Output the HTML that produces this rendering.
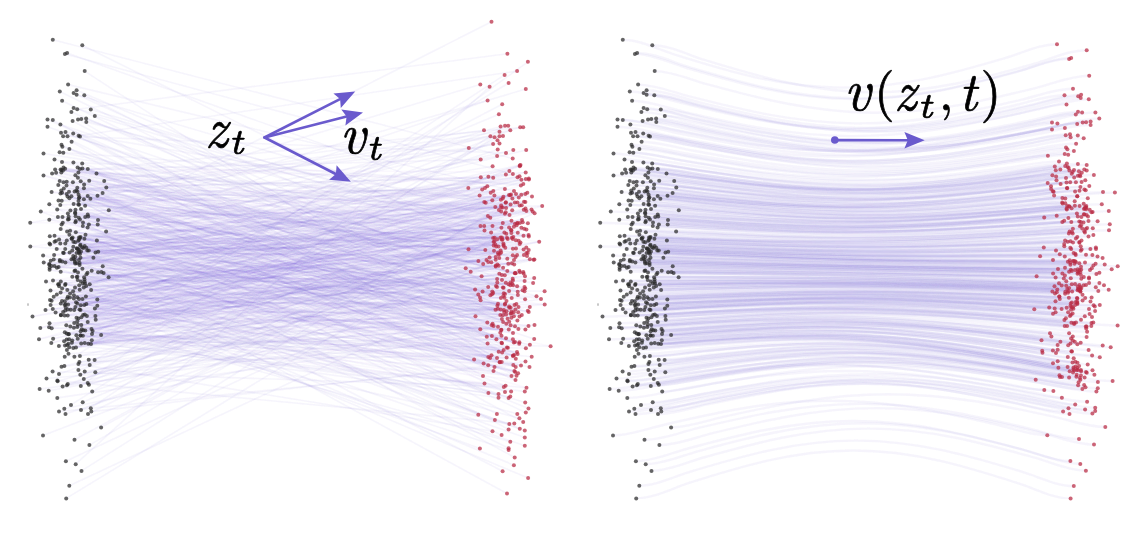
<!DOCTYPE html><html><head><meta charset="utf-8"><title>Rectified flow</title><style>html,body{margin:0;padding:0;background:#fff;overflow:hidden}svg{display:block;filter:blur(0.4px)}text{fill:#000;stroke:#000;stroke-width:0.7px;stroke-linejoin:round}.ai{font-family:"LM Roman 10","Latin Modern Roman","Liberation Serif",serif;font-style:italic}.an{font-family:"LM Roman 10","Latin Modern Roman","Liberation Serif",serif;font-style:normal}.bi{font-family:"LM Roman 7","Latin Modern Roman","Liberation Serif",serif;font-style:italic}</style></head><body>
<svg width="1136" height="544" viewBox="0 0 1136 544">
<defs><filter id="bl" x="0" y="0" width="1" height="1"><feGaussianBlur stdDeviation="0.35"/></filter><filter id="br" x="0" y="0" width="1" height="1"><feGaussianBlur stdDeviation="0.3"/></filter></defs>
<rect width="1136" height="544" fill="#fff"/>
<g stroke="#6a5acd" stroke-opacity="0.06" stroke-width="1.6" fill="none" filter="url(#bl)">
<path d="M52.8 39.7L512.7 158.5"/>
<path d="M82.3 45.2L514.0 260.1"/>
<path d="M64.9 53.9L512.9 174.1"/>
<path d="M67.1 52.9L484.3 202.0"/>
<path d="M84.7 71.1L501.5 342.8"/>
<path d="M68.1 84.6L514.0 191.0"/>
<path d="M59.8 91.5L480.0 297.4"/>
<path d="M73.6 92.9L497.0 286.9"/>
<path d="M76.6 90.3L478.4 261.0"/>
<path d="M76.6 94.7L487.9 215.9"/>
<path d="M84.3 95.3L519.5 316.6"/>
<path d="M62.1 100.8L500.3 314.9"/>
<path d="M73.6 107.9L511.4 230.2"/>
<path d="M77.2 109.3L507.4 53.7"/>
<path d="M71.4 111.9L503.3 296.1"/>
<path d="M90.8 109.5L504.4 232.6"/>
<path d="M94.8 115.9L507.7 239.0"/>
<path d="M47.5 119.4L518.4 328.9"/>
<path d="M52.8 120.0L497.0 358.1"/>
<path d="M47.5 126.7L503.6 287.8"/>
<path d="M60.4 124.6L524.6 281.0"/>
<path d="M72.6 121.0L506.9 347.4"/>
<path d="M78.0 119.4L491.5 355.3"/>
<path d="M81.3 119.0L494.4 241.2"/>
<path d="M86.1 118.4L525.3 288.6"/>
<path d="M86.3 122.0L517.8 232.7"/>
<path d="M61.0 132.7L507.3 271.1"/>
<path d="M65.5 132.1L485.7 202.7"/>
<path d="M67.5 136.2L506.0 153.0"/>
<path d="M63.1 136.2L512.9 356.0"/>
<path d="M73.2 133.5L488.3 356.9"/>
<path d="M78.6 135.8L517.1 71.1"/>
<path d="M80.0 136.6L502.1 352.4"/>
<path d="M71.6 141.7L483.0 376.0"/>
<path d="M61.5 144.8L490.1 357.9"/>
<path d="M62.4 146.7L536.5 296.3"/>
<path d="M69.4 149.0L525.1 299.3"/>
<path d="M59.6 152.2L520.9 185.4"/>
<path d="M63.3 152.7L503.4 243.4"/>
<path d="M43.5 153.5L521.4 227.7"/>
<path d="M54.5 159.5L492.3 291.4"/>
<path d="M62.0 161.9L523.3 183.9"/>
<path d="M73.4 162.6L517.6 353.9"/>
<path d="M82.2 163.6L510.6 307.5"/>
<path d="M39.6 389.1L498.0 326.7"/>
<path d="M48.7 390.8L497.9 308.7"/>
<path d="M57.6 381.2L498.4 254.6"/>
<path d="M62.6 386.5L504.8 275.3"/>
<path d="M66.9 385.3L516.6 225.3"/>
<path d="M67.8 384.0L501.8 239.8"/>
<path d="M80.8 386.0L527.9 61.8"/>
<path d="M88.9 384.8L507.3 258.8"/>
<path d="M87.7 382.9L509.0 195.0"/>
<path d="M92.2 391.5L500.6 250.4"/>
<path d="M57.3 397.9L500.3 332.7"/>
<path d="M71.0 404.9L494.5 137.3"/>
<path d="M82.7 402.2L534.6 213.2"/>
<path d="M64.3 408.7L511.5 313.2"/>
<path d="M59.0 411.6L513.3 365.0"/>
<path d="M65.5 414.0L481.6 276.2"/>
<path d="M81.0 409.9L524.2 228.7"/>
<path d="M90.8 408.2L505.0 125.8"/>
<path d="M91.3 411.6L525.5 361.5"/>
<path d="M88.0 414.0L506.1 208.0"/>
<path d="M101.1 427.4L501.2 211.6"/>
<path d="M43.0 435.5L470.7 271.8"/>
<path d="M74.5 439.8L514.9 202.4"/>
<path d="M89.4 445.1L518.8 197.4"/>
<path d="M65.9 461.3L491.3 262.2"/>
<path d="M75.7 464.2L489.6 86.8"/>
<path d="M81.5 470.9L512.4 198.5"/>
<path d="M69.3 485.7L512.7 278.7"/>
<path d="M66.2 498.4L493.1 238.1"/>
<path d="M64.7 356.8L510.6 325.3"/>
<path d="M68.5 353.8L515.0 326.2"/>
<path d="M74.4 356.8L504.6 74.9"/>
<path d="M79.9 356.0L523.6 249.4"/>
<path d="M88.7 359.7L534.2 278.1"/>
<path d="M94.6 360.0L499.5 136.3"/>
<path d="M78.4 364.1L492.5 431.3"/>
<path d="M79.4 361.9L514.2 354.9"/>
<path d="M89.7 364.9L511.0 230.0"/>
<path d="M61.5 366.8L529.8 307.0"/>
<path d="M64.4 365.9L533.6 259.8"/>
<path d="M78.4 370.0L512.7 239.1"/>
<path d="M84.7 371.5L541.0 299.0"/>
<path d="M95.3 372.2L534.5 325.0"/>
<path d="M52.6 371.5L503.8 386.9"/>
<path d="M59.0 374.1L484.2 226.1"/>
<path d="M80.3 374.7L498.7 265.8"/>
<path d="M46.5 378.5L506.0 338.2"/>
<path d="M57.4 380.6L514.3 423.6"/>
<path d="M83.8 379.1L505.7 202.8"/>
<path d="M90.4 198.7L515.5 379.9"/>
<path d="M67.5 196.4L528.7 312.1"/>
<path d="M80.5 257.7L502.9 315.2"/>
<path d="M95.5 252.5L502.0 280.1"/>
<path d="M82.2 247.2L513.9 226.8"/>
<path d="M66.3 325.2L511.5 376.0"/>
<path d="M84.4 238.7L512.9 339.3"/>
<path d="M77.9 177.8L517.7 291.7"/>
<path d="M49.6 269.8L502.0 343.3"/>
<path d="M85.5 234.7L517.9 295.0"/>
<path d="M60.8 315.0L500.7 309.4"/>
<path d="M82.8 226.0L528.5 408.6"/>
<path d="M77.2 297.2L480.5 226.0"/>
<path d="M46.0 281.4L524.8 445.8"/>
<path d="M79.9 169.0L482.6 291.5"/>
<path d="M81.4 317.2L523.8 209.8"/>
<path d="M81.2 343.4L491.8 325.2"/>
<path d="M45.5 310.1L527.0 256.0"/>
<path d="M65.4 262.6L526.2 150.0"/>
<path d="M81.0 251.4L518.1 373.3"/>
<path d="M79.4 197.2L495.3 206.9"/>
<path d="M88.3 343.7L482.2 189.5"/>
<path d="M69.3 347.2L522.6 290.3"/>
<path d="M79.0 252.8L504.9 189.1"/>
<path d="M53.1 338.7L502.5 239.6"/>
<path d="M95.7 319.8L534.4 259.4"/>
<path d="M60.8 303.6L497.1 278.9"/>
<path d="M71.8 238.5L519.5 176.2"/>
<path d="M61.0 315.3L510.3 441.8"/>
<path d="M76.6 252.9L517.4 223.2"/>
<path d="M92.0 333.9L506.5 301.0"/>
<path d="M103.6 273.1L524.8 430.4"/>
<path d="M59.7 180.9L492.0 294.2"/>
<path d="M67.9 219.5L509.1 306.6"/>
<path d="M65.7 307.6L511.1 391.6"/>
<path d="M83.9 188.3L480.8 177.3"/>
<path d="M80.7 335.5L510.3 396.5"/>
<path d="M87.3 250.5L499.3 258.1"/>
<path d="M61.5 169.9L480.7 159.5"/>
<path d="M63.8 253.0L512.8 255.3"/>
<path d="M75.8 220.9L511.4 317.8"/>
<path d="M43.1 255.6L488.2 365.3"/>
<path d="M80.7 181.3L489.6 257.4"/>
<path d="M77.8 324.6L513.9 316.2"/>
<path d="M80.4 335.4L483.6 363.6"/>
<path d="M75.0 287.6L495.7 259.7"/>
<path d="M49.5 243.5L503.9 309.9"/>
<path d="M60.8 281.4L528.1 478.0"/>
<path d="M65.0 345.4L498.5 246.6"/>
<path d="M84.3 305.1L524.0 201.7"/>
<path d="M76.7 277.1L486.5 260.1"/>
<path d="M65.3 243.6L502.6 471.3"/>
<path d="M64.6 315.4L503.1 267.7"/>
<path d="M72.2 340.6L539.2 241.7"/>
<path d="M60.6 169.5L515.1 272.9"/>
<path d="M69.0 191.8L506.1 314.4"/>
<path d="M76.4 190.4L468.8 148.0"/>
<path d="M91.7 270.8L527.3 192.7"/>
<path d="M54.5 266.1L484.5 230.4"/>
<path d="M49.1 327.2L495.4 244.4"/>
<path d="M79.0 298.9L518.6 240.8"/>
<path d="M86.2 285.9L513.9 465.2"/>
<path d="M77.0 248.5L502.8 222.9"/>
<path d="M83.9 199.3L511.7 298.0"/>
<path d="M55.6 312.5L511.0 194.4"/>
<path d="M65.2 248.9L525.7 172.4"/>
<path d="M74.2 322.9L499.8 362.2"/>
<path d="M65.6 304.3L503.4 196.7"/>
<path d="M49.8 236.2L495.7 266.5"/>
<path d="M68.8 219.2L502.7 207.5"/>
<path d="M87.7 214.4L521.4 179.7"/>
<path d="M84.1 184.4L523.2 422.0"/>
<path d="M77.5 191.8L498.7 351.7"/>
<path d="M79.6 262.9L514.5 305.0"/>
<path d="M81.0 208.9L501.7 362.1"/>
<path d="M43.5 175.4L488.2 287.1"/>
<path d="M76.0 347.6L524.5 287.0"/>
<path d="M74.5 270.9L508.2 125.8"/>
<path d="M79.0 237.6L515.0 341.9"/>
<path d="M89.7 284.3L497.7 149.6"/>
<path d="M76.4 335.3L503.7 350.1"/>
<path d="M56.1 172.8L523.2 127.2"/>
<path d="M94.9 308.6L501.5 335.7"/>
<path d="M67.8 309.4L510.3 130.2"/>
<path d="M64.8 301.2L516.5 375.7"/>
<path d="M62.0 300.9L544.7 304.6"/>
<path d="M68.6 216.8L525.4 202.0"/>
<path d="M52.8 308.9L521.8 315.0"/>
<path d="M67.3 290.0L505.3 247.7"/>
<path d="M78.9 260.0L498.0 303.7"/>
<path d="M96.5 173.4L515.9 240.2"/>
<path d="M71.5 259.2L505.9 174.4"/>
<path d="M84.7 281.8L501.1 252.4"/>
<path d="M60.6 292.5L503.8 293.2"/>
<path d="M30.3 246.5L513.1 285.3"/>
<path d="M58.9 345.9L518.5 306.9"/>
<path d="M74.8 259.8L510.6 204.4"/>
<path d="M80.0 219.4L525.8 89.1"/>
<path d="M91.1 290.0L506.3 233.7"/>
<path d="M63.5 182.3L474.1 359.4"/>
<path d="M80.5 237.1L519.4 342.2"/>
<path d="M87.7 321.9L495.7 257.0"/>
<path d="M68.5 334.2L507.6 318.7"/>
<path d="M39.0 339.2L511.4 232.9"/>
<path d="M70.1 293.6L519.4 418.3"/>
<path d="M49.5 323.2L505.8 282.8"/>
<path d="M65.3 310.5L468.3 188.1"/>
<path d="M78.9 249.8L517.4 202.6"/>
<path d="M76.8 263.2L522.0 220.0"/>
<path d="M83.4 330.2L524.8 391.6"/>
<path d="M63.8 188.6L501.1 205.6"/>
<path d="M98.2 251.8L510.1 195.2"/>
<path d="M86.9 316.1L519.8 166.2"/>
<path d="M63.5 167.6L483.2 264.0"/>
<path d="M73.8 298.4L504.5 297.7"/>
<path d="M63.1 252.7L511.8 237.8"/>
<path d="M78.6 194.8L532.0 196.5"/>
<path d="M78.5 201.0L525.8 412.6"/>
<path d="M77.3 321.3L531.5 209.5"/>
<path d="M77.6 167.5L475.1 289.4"/>
<path d="M80.1 237.9L519.7 205.5"/>
<path d="M59.8 260.0L513.0 333.1"/>
<path d="M71.4 196.2L508.6 429.4"/>
<path d="M91.0 344.0L513.3 237.1"/>
<path d="M70.4 210.5L492.6 323.8"/>
<path d="M53.0 280.4L510.5 282.5"/>
<path d="M61.7 200.8L503.0 135.9"/>
<path d="M91.5 329.1L528.7 250.1"/>
<path d="M60.7 229.0L517.4 320.6"/>
<path d="M49.3 219.8L533.1 282.9"/>
<path d="M65.5 284.1L511.6 311.4"/>
<path d="M65.1 168.8L504.9 213.7"/>
<path d="M78.8 217.8L542.2 205.9"/>
<path d="M97.3 299.6L493.5 371.0"/>
<path d="M69.1 339.3L498.5 397.7"/>
<path d="M43.7 262.6L523.3 272.1"/>
<path d="M82.8 283.4L521.3 194.7"/>
<path d="M75.4 256.8L514.4 370.9"/>
<path d="M87.8 169.0L525.4 329.6"/>
<path d="M77.3 187.8L499.8 253.7"/>
<path d="M75.2 213.6L496.9 413.9"/>
<path d="M83.0 222.6L478.3 414.7"/>
<path d="M77.3 303.5L511.5 220.8"/>
<path d="M83.8 287.5L495.7 265.8"/>
<path d="M87.6 227.6L513.8 342.5"/>
<path d="M70.3 326.5L520.0 272.2"/>
<path d="M60.3 243.6L507.0 237.8"/>
<path d="M51.3 343.0L493.6 241.9"/>
<path d="M60.3 204.9L487.3 186.3"/>
<path d="M74.8 261.8L505.0 293.9"/>
<path d="M79.5 309.4L508.6 449.9"/>
<path d="M51.6 192.1L497.9 252.8"/>
<path d="M72.6 237.4L509.5 214.9"/>
<path d="M88.2 216.6L490.4 295.3"/>
<path d="M66.5 185.6L491.9 335.9"/>
<path d="M71.9 342.8L487.3 322.4"/>
<path d="M79.2 285.3L494.4 195.5"/>
<path d="M59.1 286.2L517.3 413.9"/>
<path d="M91.8 340.2L510.4 285.2"/>
<path d="M32.5 316.5L496.2 246.6"/>
<path d="M106.3 187.6L493.2 177.7"/>
<path d="M84.5 279.4L508.5 284.2"/>
<path d="M67.1 345.0L526.5 387.8"/>
<path d="M80.5 309.9L496.0 285.9"/>
<path d="M98.1 272.3L529.5 367.0"/>
<path d="M75.4 307.0L508.8 329.6"/>
<path d="M58.1 284.3L509.1 227.5"/>
<path d="M55.9 241.1L492.6 166.2"/>
<path d="M56.7 249.1L500.6 126.6"/>
<path d="M50.7 260.7L501.9 237.4"/>
<path d="M68.9 333.9L505.9 202.3"/>
<path d="M79.1 204.7L480.3 84.4"/>
<path d="M75.6 216.3L519.7 244.0"/>
<path d="M79.0 251.7L498.5 394.0"/>
<path d="M62.2 261.4L528.5 326.1"/>
<path d="M64.6 304.9L525.3 194.1"/>
<path d="M84.1 277.2L512.9 248.8"/>
<path d="M67.9 213.5L497.4 264.5"/>
<path d="M97.7 224.5L526.4 253.0"/>
<path d="M96.9 240.6L515.7 367.0"/>
<path d="M58.6 267.1L520.5 164.9"/>
<path d="M61.6 224.4L508.6 448.2"/>
<path d="M95.4 315.9L502.9 287.5"/>
<path d="M74.2 310.0L517.0 351.9"/>
<path d="M85.2 216.9L513.7 312.3"/>
<path d="M78.3 240.8L488.2 261.9"/>
<path d="M102.7 266.2L515.0 223.8"/>
<path d="M58.5 200.4L515.6 256.9"/>
<path d="M76.9 248.5L517.5 177.2"/>
<path d="M60.5 193.4L480.6 300.2"/>
<path d="M61.2 190.6L493.3 190.9"/>
<path d="M102.6 193.0L505.0 392.0"/>
<path d="M86.5 274.3L497.3 282.5"/>
<path d="M74.6 191.5L499.5 131.8"/>
<path d="M73.3 246.8L515.2 372.1"/>
<path d="M69.4 198.3L485.0 188.0"/>
<path d="M57.9 216.9L494.6 237.7"/>
<path d="M63.0 170.4L492.3 200.2"/>
<path d="M83.1 314.9L509.4 170.9"/>
<path d="M73.9 295.3L504.2 311.9"/>
<path d="M67.1 231.5L514.2 264.6"/>
<path d="M75.3 270.5L480.3 329.2"/>
<path d="M55.1 169.6L479.6 195.6"/>
<path d="M79.6 265.0L525.8 179.1"/>
<path d="M82.4 168.6L514.9 273.3"/>
<path d="M50.6 305.1L523.6 273.5"/>
<path d="M88.9 224.5L517.1 254.9"/>
<path d="M59.9 261.3L512.2 210.3"/>
<path d="M86.3 247.7L521.7 205.3"/>
<path d="M52.1 173.4L510.6 313.8"/>
<path d="M66.7 339.6L507.9 347.7"/>
<path d="M82.5 299.1L516.0 248.6"/>
<path d="M79.0 239.7L500.5 237.4"/>
<path d="M85.3 330.4L511.9 263.2"/>
<path d="M78.9 198.2L526.3 247.5"/>
<path d="M73.1 291.2L512.1 283.8"/>
<path d="M81.7 329.2L500.9 199.7"/>
<path d="M101.4 271.9L478.3 294.6"/>
<path d="M97.3 305.7L525.5 208.5"/>
<path d="M77.4 276.8L527.8 310.7"/>
<path d="M56.9 267.7L519.8 428.8"/>
<path d="M50.0 300.0L526.4 229.6"/>
<path d="M85.9 296.4L491.1 232.6"/>
<path d="M73.3 258.5L524.5 291.3"/>
<path d="M89.2 180.8L485.3 250.1"/>
<path d="M80.0 254.1L493.6 326.1"/>
<path d="M75.8 232.2L491.5 21.7"/>
<path d="M104.2 180.9L484.0 130.2"/>
<path d="M76.0 302.3L504.9 304.4"/>
<path d="M81.3 325.0L508.3 263.7"/>
<path d="M49.6 267.8L499.3 273.8"/>
<path d="M53.7 296.8L503.1 322.0"/>
<path d="M80.8 305.2L501.9 275.0"/>
<path d="M40.8 211.6L505.6 385.8"/>
<path d="M84.8 314.6L497.5 140.3"/>
<path d="M108.6 277.3L512.9 280.5"/>
<path d="M65.1 284.9L544.6 291.2"/>
<path d="M51.7 328.2L475.5 316.2"/>
<path d="M70.6 309.8L531.7 356.7"/>
<path d="M72.9 182.2L494.0 250.8"/>
<path d="M73.3 348.1L465.7 268.3"/>
<path d="M59.1 239.5L500.9 298.0"/>
<path d="M73.4 241.8L493.1 144.0"/>
<path d="M73.6 204.0L528.6 234.9"/>
<path d="M60.7 271.7L516.4 304.0"/>
<path d="M80.1 245.8L493.2 292.9"/>
<path d="M92.6 331.1L494.9 419.9"/>
<path d="M68.4 343.8L496.4 339.2"/>
<path d="M49.3 264.1L528.8 178.6"/>
<path d="M69.9 297.4L479.9 448.6"/>
<path d="M88.8 250.5L503.6 245.0"/>
<path d="M75.1 212.4L487.6 343.5"/>
<path d="M79.7 289.7L486.8 336.7"/>
<path d="M78.5 318.5L525.0 276.3"/>
<path d="M62.8 222.7L527.7 253.1"/>
<path d="M63.1 311.9L488.4 176.7"/>
<path d="M58.9 284.3L526.4 211.0"/>
<path d="M73.2 255.9L495.5 309.7"/>
<path d="M106.1 231.4L487.6 100.4"/>
<path d="M66.7 333.5L550.6 346.2"/>
<path d="M80.5 244.8L501.2 329.7"/>
<path d="M78.0 272.4L509.3 424.0"/>
<path d="M30.2 222.8L499.5 143.4"/>
<path d="M85.0 283.6L490.3 217.7"/>
<path d="M83.3 247.9L513.1 355.5"/>
<path d="M51.6 300.7L498.9 114.3"/>
<path d="M93.4 257.7L529.9 344.7"/>
<path d="M87.7 196.0L515.4 309.5"/>
<path d="M54.5 235.8L520.5 242.6"/>
<path d="M80.7 331.2L499.7 362.1"/>
<path d="M50.5 290.4L521.0 365.6"/>
<path d="M72.3 276.7L508.6 398.1"/>
<path d="M71.6 238.8L501.6 434.9"/>
<path d="M80.9 281.5L524.8 437.5"/>
<path d="M75.4 175.2L497.2 239.3"/>
<path d="M77.9 249.3L493.7 245.5"/>
<path d="M40.3 327.9L517.4 223.0"/>
<path d="M69.6 252.6L501.4 227.7"/>
<path d="M75.2 263.5L505.7 212.3"/>
<path d="M66.9 349.9L508.6 83.0"/>
<path d="M77.7 338.7L488.4 393.0"/>
<path d="M56.8 294.6L519.8 165.4"/>
<path d="M66.6 194.1L490.4 136.3"/>
<path d="M61.3 172.6L515.7 273.3"/>
<path d="M82.9 335.7L515.8 358.7"/>
<path d="M75.4 222.2L519.8 223.0"/>
<path d="M75.2 242.2L501.9 318.9"/>
<path d="M51.5 266.1L497.4 305.7"/>
<path d="M69.4 234.8L497.1 156.1"/>
<path d="M67.8 296.7L509.1 291.0"/>
<path d="M66.8 240.5L501.2 207.4"/>
<path d="M86.4 303.9L468.5 249.2"/>
<path d="M57.2 209.4L527.9 223.2"/>
<path d="M62.1 288.5L506.5 311.3"/>
<path d="M54.5 241.8L519.3 270.8"/>
<path d="M82.4 268.7L525.2 402.5"/>
<path d="M58.3 184.9L506.3 323.7"/>
<path d="M73.9 327.8L532.7 211.6"/>
<path d="M84.6 246.1L513.3 150.0"/>
<path d="M76.5 317.8L528.9 179.6"/>
<path d="M67.2 298.4L490.7 192.7"/>
<path d="M87.5 272.8L518.2 312.2"/>
<path d="M84.7 342.9L484.5 383.6"/>
<path d="M64.1 341.3L529.9 259.2"/>
<path d="M78.3 204.5L528.8 236.4"/>
<path d="M70.1 230.8L509.4 307.7"/>
<path d="M75.5 209.8L509.2 321.8"/>
<path d="M64.8 332.2L502.2 104.2"/>
<path d="M72.3 250.6L520.2 127.2"/>
<path d="M49.3 204.2L514.7 457.5"/>
<path d="M54.1 254.9L516.0 193.9"/>
<path d="M97.5 195.7L534.2 339.1"/>
<path d="M101.1 335.1L525.9 348.2"/>
<path d="M98.0 219.9L505.1 303.7"/>
<path d="M77.7 280.0L522.7 222.2"/>
<path d="M66.7 181.8L498.9 209.9"/>
<path d="M67.7 315.6L506.6 357.5"/>
<path d="M50.1 244.4L507.0 493.5"/>
<path d="M62.5 217.0L519.2 343.7"/>
<path d="M108.8 210.3L517.1 286.2"/>
<path d="M62.1 192.8L494.5 367.0"/>
<path d="M68.1 304.5L501.4 330.0"/>
<path d="M49.3 264.8L492.5 226.1"/>
<path d="M53.7 259.4L523.5 235.8"/>
<path d="M77.3 327.1L523.9 255.1"/>
<path d="M78.4 172.5L502.7 198.4"/>
<path d="M85.1 205.7L503.6 246.0"/>
</g>
<g stroke="#6a5acd" stroke-opacity="0.028" stroke-width="1.6" fill="none" filter="url(#bl)">
<path d="M90.4 198.7L517.4 223.2"/>
<path d="M67.5 196.4L504.5 297.7"/>
<path d="M80.5 257.7L503.4 196.7"/>
<path d="M95.5 252.5L495.3 206.9"/>
<path d="M82.2 247.2L550.6 346.2"/>
<path d="M66.3 325.2L501.1 252.4"/>
<path d="M84.4 238.7L499.3 258.1"/>
<path d="M77.9 177.8L499.3 273.8"/>
<path d="M49.6 269.8L487.6 343.5"/>
<path d="M85.5 234.7L492.0 294.2"/>
<path d="M60.8 315.0L492.6 323.8"/>
<path d="M82.8 226.0L509.0 195.0"/>
<path d="M77.2 297.2L498.7 265.8"/>
<path d="M46.0 281.4L532.7 211.6"/>
<path d="M79.9 169.0L528.9 179.6"/>
<path d="M81.4 317.2L534.5 325.0"/>
<path d="M81.2 343.4L507.0 237.8"/>
<path d="M45.5 310.1L495.4 244.4"/>
<path d="M65.4 262.6L514.4 370.9"/>
<path d="M81.0 251.4L513.9 226.8"/>
<path d="M79.4 197.2L484.2 226.1"/>
<path d="M88.3 343.7L500.5 237.4"/>
<path d="M69.3 347.2L514.2 264.6"/>
<path d="M79.0 252.8L508.5 284.2"/>
<path d="M53.1 338.7L494.6 237.7"/>
<path d="M95.7 319.8L485.7 202.7"/>
<path d="M60.8 303.6L514.4 370.9"/>
<path d="M71.8 238.5L525.1 299.3"/>
<path d="M61.0 315.3L539.2 241.7"/>
<path d="M76.6 252.9L526.5 387.8"/>
<path d="M92.0 333.9L500.6 250.4"/>
<path d="M103.6 273.1L501.2 329.7"/>
<path d="M59.7 180.9L519.4 342.2"/>
<path d="M67.9 219.5L534.6 213.2"/>
<path d="M65.7 307.6L516.0 193.9"/>
<path d="M83.9 188.3L506.1 208.0"/>
<path d="M80.7 335.5L503.8 386.9"/>
<path d="M87.3 250.5L494.6 237.7"/>
<path d="M61.5 169.9L523.6 249.4"/>
<path d="M63.8 253.0L506.1 314.4"/>
<path d="M75.8 220.9L500.5 237.4"/>
<path d="M43.1 255.6L511.4 230.2"/>
<path d="M80.7 181.3L508.8 329.6"/>
<path d="M77.8 324.6L503.9 309.9"/>
<path d="M80.4 335.4L496.4 339.2"/>
<path d="M75.0 287.6L501.2 329.7"/>
<path d="M49.5 243.5L501.2 329.7"/>
<path d="M60.8 281.4L507.7 239.0"/>
<path d="M65.0 345.4L485.7 202.7"/>
<path d="M84.3 305.1L511.5 376.0"/>
<path d="M76.7 277.1L507.9 347.7"/>
<path d="M65.3 243.6L493.1 238.1"/>
<path d="M64.6 315.4L516.6 225.3"/>
<path d="M72.2 340.6L520.5 164.9"/>
<path d="M60.6 169.5L519.8 223.0"/>
<path d="M69.0 191.8L511.8 237.8"/>
<path d="M76.4 190.4L501.5 342.8"/>
<path d="M91.7 270.8L480.3 329.2"/>
<path d="M54.5 266.1L522.0 220.0"/>
<path d="M49.1 327.2L515.5 379.9"/>
<path d="M79.0 298.9L510.6 307.5"/>
<path d="M86.2 285.9L512.9 174.1"/>
<path d="M77.0 248.5L514.9 202.4"/>
<path d="M83.9 199.3L505.7 202.8"/>
<path d="M55.6 312.5L504.5 297.7"/>
<path d="M65.2 248.9L511.5 220.8"/>
<path d="M74.2 322.9L504.9 213.7"/>
<path d="M65.6 304.3L529.9 259.2"/>
<path d="M49.8 236.2L504.9 213.7"/>
<path d="M68.8 219.2L503.6 245.0"/>
<path d="M87.7 214.4L501.2 211.6"/>
<path d="M84.1 184.4L518.8 197.4"/>
<path d="M77.5 191.8L516.5 375.7"/>
<path d="M79.6 262.9L525.1 299.3"/>
<path d="M81.0 208.9L493.1 238.1"/>
<path d="M43.5 175.4L493.6 326.1"/>
<path d="M76.0 347.6L527.3 192.7"/>
<path d="M74.5 270.9L478.4 261.0"/>
<path d="M79.0 237.6L517.6 353.9"/>
<path d="M89.7 284.3L517.9 295.0"/>
<path d="M76.4 335.3L514.9 202.4"/>
<path d="M56.1 172.8L503.1 267.7"/>
<path d="M94.9 308.6L470.7 271.8"/>
<path d="M67.8 309.4L525.0 276.3"/>
<path d="M64.8 301.2L485.3 250.1"/>
<path d="M62.0 300.9L500.7 309.4"/>
<path d="M68.6 216.8L482.2 189.5"/>
<path d="M52.8 308.9L522.0 220.0"/>
<path d="M67.3 290.0L508.5 284.2"/>
<path d="M78.9 260.0L515.7 367.0"/>
<path d="M96.5 173.4L513.1 355.5"/>
<path d="M71.5 259.2L519.7 205.5"/>
<path d="M84.7 281.8L505.1 303.7"/>
<path d="M60.6 292.5L504.5 297.7"/>
<path d="M30.3 246.5L493.3 190.9"/>
<path d="M58.9 345.9L496.2 246.6"/>
<path d="M74.8 259.8L482.2 189.5"/>
<path d="M80.0 219.4L541.0 299.0"/>
<path d="M91.1 290.0L528.8 236.4"/>
<path d="M63.5 182.3L515.7 367.0"/>
<path d="M80.5 237.1L523.6 249.4"/>
<path d="M87.7 321.9L536.5 296.3"/>
<path d="M68.5 334.2L507.0 237.8"/>
<path d="M39.0 339.2L509.0 195.0"/>
<path d="M70.1 293.6L504.4 232.6"/>
<path d="M49.5 323.2L505.0 293.9"/>
<path d="M65.3 310.5L500.5 237.4"/>
<path d="M78.9 249.8L518.5 306.9"/>
<path d="M76.8 263.2L534.4 259.4"/>
<path d="M83.4 330.2L502.7 198.4"/>
<path d="M63.8 188.6L515.5 379.9"/>
<path d="M98.2 251.8L493.7 245.5"/>
<path d="M86.9 316.1L513.3 365.0"/>
<path d="M63.5 167.6L514.9 273.3"/>
<path d="M73.8 298.4L517.4 223.2"/>
<path d="M63.1 252.7L511.9 263.2"/>
<path d="M78.6 194.8L505.1 303.7"/>
<path d="M78.5 201.0L520.5 242.6"/>
<path d="M77.3 321.3L490.7 192.7"/>
<path d="M77.6 167.5L507.0 237.8"/>
<path d="M80.1 237.9L513.0 333.1"/>
<path d="M59.8 260.0L488.2 287.1"/>
<path d="M71.4 196.2L511.9 263.2"/>
<path d="M91.0 344.0L517.7 291.7"/>
<path d="M70.4 210.5L498.0 303.7"/>
<path d="M53.0 280.4L517.6 353.9"/>
<path d="M61.7 200.8L518.8 197.4"/>
<path d="M91.5 329.1L504.4 232.6"/>
<path d="M60.7 229.0L500.9 199.7"/>
<path d="M49.3 219.8L518.4 328.9"/>
<path d="M65.5 284.1L517.0 351.9"/>
<path d="M65.1 168.8L499.7 362.1"/>
<path d="M78.8 217.8L532.7 211.6"/>
<path d="M97.3 299.6L523.3 272.1"/>
<path d="M69.1 339.3L501.1 205.6"/>
<path d="M43.7 262.6L483.2 264.0"/>
<path d="M82.8 283.4L498.9 209.9"/>
<path d="M75.4 256.8L500.9 298.0"/>
<path d="M87.8 169.0L525.7 172.4"/>
<path d="M77.3 187.8L495.5 309.7"/>
<path d="M75.2 213.6L505.0 293.9"/>
<path d="M83.0 222.6L509.1 306.6"/>
<path d="M77.3 303.5L501.9 318.9"/>
<path d="M83.8 287.5L505.3 247.7"/>
<path d="M87.6 227.6L513.3 365.0"/>
<path d="M70.3 326.5L520.9 185.4"/>
<path d="M60.3 243.6L506.5 311.3"/>
<path d="M51.3 343.0L519.7 205.5"/>
<path d="M60.3 204.9L521.0 365.6"/>
<path d="M74.8 261.8L511.4 230.2"/>
<path d="M79.5 309.4L488.2 365.3"/>
<path d="M51.6 192.1L527.3 192.7"/>
<path d="M72.6 237.4L509.4 307.7"/>
<path d="M88.2 216.6L493.3 190.9"/>
<path d="M66.5 185.6L517.8 232.7"/>
<path d="M71.9 342.8L542.2 205.9"/>
<path d="M79.2 285.3L487.3 186.3"/>
<path d="M59.1 286.2L503.6 245.0"/>
<path d="M91.8 340.2L517.4 320.6"/>
<path d="M32.5 316.5L505.7 212.3"/>
<path d="M106.3 187.6L525.9 348.2"/>
<path d="M84.5 279.4L487.3 186.3"/>
<path d="M67.1 345.0L517.4 223.2"/>
<path d="M80.5 309.9L506.1 314.4"/>
<path d="M98.1 272.3L515.2 372.1"/>
<path d="M75.4 307.0L502.8 222.9"/>
<path d="M58.1 284.3L513.8 342.5"/>
<path d="M55.9 241.1L505.3 247.7"/>
<path d="M56.7 249.1L521.4 227.7"/>
<path d="M50.7 260.7L492.3 200.2"/>
<path d="M68.9 333.9L497.9 252.8"/>
<path d="M79.1 204.7L503.6 287.8"/>
<path d="M75.6 216.3L510.6 325.3"/>
<path d="M79.0 251.7L515.6 256.9"/>
<path d="M62.2 261.4L528.6 234.9"/>
<path d="M64.6 304.9L503.4 196.7"/>
<path d="M84.1 277.2L497.0 358.1"/>
<path d="M67.9 213.5L514.2 264.6"/>
<path d="M97.7 224.5L506.0 338.2"/>
<path d="M96.9 240.6L541.0 299.0"/>
<path d="M58.6 267.1L512.9 280.5"/>
<path d="M61.6 224.4L508.3 263.7"/>
<path d="M95.4 315.9L523.3 272.1"/>
<path d="M74.2 310.0L491.9 335.9"/>
<path d="M85.2 216.9L499.7 362.1"/>
<path d="M78.3 240.8L522.7 222.2"/>
<path d="M102.7 266.2L501.7 362.1"/>
<path d="M58.5 200.4L516.0 193.9"/>
<path d="M76.9 248.5L480.8 177.3"/>
<path d="M60.5 193.4L501.1 252.4"/>
<path d="M61.2 190.6L513.8 342.5"/>
<path d="M102.6 193.0L503.4 243.4"/>
<path d="M86.5 274.3L513.1 355.5"/>
<path d="M74.6 191.5L497.9 252.8"/>
<path d="M73.3 246.8L512.4 198.5"/>
<path d="M69.4 198.3L502.9 315.2"/>
<path d="M57.9 216.9L499.7 362.1"/>
<path d="M63.0 170.4L499.3 258.1"/>
<path d="M83.1 314.9L523.3 272.1"/>
<path d="M73.9 295.3L508.3 263.7"/>
<path d="M67.1 231.5L514.4 370.9"/>
<path d="M75.3 270.5L492.6 323.8"/>
<path d="M55.1 169.6L511.5 220.8"/>
<path d="M79.6 265.0L503.7 350.1"/>
<path d="M82.4 168.6L500.3 332.7"/>
<path d="M50.6 305.1L506.3 233.7"/>
<path d="M88.9 224.5L503.9 309.9"/>
<path d="M59.9 261.3L488.2 365.3"/>
<path d="M86.3 247.7L544.7 304.6"/>
<path d="M52.1 173.4L513.1 285.3"/>
<path d="M66.7 339.6L509.5 214.9"/>
<path d="M82.5 299.1L511.8 237.8"/>
<path d="M79.0 239.7L523.3 272.1"/>
<path d="M85.3 330.4L511.5 313.2"/>
<path d="M78.9 198.2L492.6 323.8"/>
<path d="M73.1 291.2L509.4 307.7"/>
<path d="M81.7 329.2L505.0 293.9"/>
<path d="M101.4 271.9L505.6 385.8"/>
<path d="M97.3 305.7L506.0 338.2"/>
<path d="M77.4 276.8L483.2 264.0"/>
<path d="M56.9 267.7L521.7 205.3"/>
<path d="M50.0 300.0L510.6 325.3"/>
<path d="M85.9 296.4L514.0 191.0"/>
<path d="M73.3 258.5L528.7 312.1"/>
<path d="M89.2 180.8L539.2 241.7"/>
<path d="M80.0 254.1L504.4 232.6"/>
<path d="M75.8 232.2L475.1 289.4"/>
<path d="M104.2 180.9L487.3 322.4"/>
<path d="M76.0 302.3L521.8 315.0"/>
<path d="M81.3 325.0L511.0 194.4"/>
<path d="M49.6 267.8L499.8 253.7"/>
<path d="M53.7 296.8L497.0 358.1"/>
<path d="M80.8 305.2L497.9 308.7"/>
<path d="M40.8 211.6L498.4 254.6"/>
<path d="M84.8 314.6L523.9 255.1"/>
<path d="M108.6 277.3L512.7 278.7"/>
<path d="M65.1 284.9L525.5 361.5"/>
<path d="M51.7 328.2L498.0 326.7"/>
<path d="M70.6 309.8L505.9 202.3"/>
<path d="M72.9 182.2L528.7 250.1"/>
<path d="M73.3 348.1L511.5 220.8"/>
<path d="M59.1 239.5L491.5 355.3"/>
<path d="M73.4 241.8L511.4 317.8"/>
<path d="M73.6 204.0L512.9 174.1"/>
<path d="M60.7 271.7L517.6 353.9"/>
<path d="M80.1 245.8L509.2 321.8"/>
<path d="M92.6 331.1L525.3 194.1"/>
<path d="M68.4 343.8L544.7 304.6"/>
<path d="M49.3 264.1L517.4 223.0"/>
<path d="M69.9 297.4L511.5 376.0"/>
<path d="M88.8 250.5L536.5 296.3"/>
<path d="M75.1 212.4L480.5 226.0"/>
<path d="M79.7 289.7L519.7 244.0"/>
<path d="M78.5 318.5L515.0 223.8"/>
<path d="M62.8 222.7L511.4 317.8"/>
<path d="M63.1 311.9L508.8 329.6"/>
<path d="M58.9 284.3L519.7 244.0"/>
<path d="M73.2 255.9L529.9 344.7"/>
<path d="M106.1 231.4L503.3 296.1"/>
<path d="M66.7 333.5L539.2 241.7"/>
<path d="M80.5 244.8L497.9 252.8"/>
<path d="M78.0 272.4L519.8 223.0"/>
<path d="M30.2 222.8L511.5 220.8"/>
<path d="M85.0 283.6L539.2 241.7"/>
<path d="M83.3 247.9L523.5 235.8"/>
<path d="M51.6 300.7L501.2 329.7"/>
<path d="M93.4 257.7L519.5 176.2"/>
<path d="M87.7 196.0L495.7 257.0"/>
<path d="M54.5 235.8L517.6 353.9"/>
<path d="M80.7 331.2L505.7 212.3"/>
<path d="M50.5 290.4L497.9 252.8"/>
<path d="M72.3 276.7L500.9 199.7"/>
<path d="M71.6 238.8L519.7 205.5"/>
<path d="M80.9 281.5L507.0 237.8"/>
<path d="M75.4 175.2L492.0 294.2"/>
<path d="M77.9 249.3L488.2 261.9"/>
<path d="M40.3 327.9L490.3 217.7"/>
<path d="M69.6 252.6L497.4 305.7"/>
<path d="M75.2 263.5L503.4 243.4"/>
<path d="M66.9 349.9L485.3 250.1"/>
<path d="M77.7 338.7L507.0 237.8"/>
<path d="M56.8 294.6L493.7 245.5"/>
<path d="M66.6 194.1L483.2 264.0"/>
<path d="M61.3 172.6L512.9 356.0"/>
<path d="M82.9 335.7L493.5 371.0"/>
<path d="M75.4 222.2L468.3 188.1"/>
<path d="M75.2 242.2L510.1 195.2"/>
<path d="M51.5 266.1L509.1 291.0"/>
<path d="M69.4 234.8L505.7 202.8"/>
<path d="M67.8 296.7L515.4 309.5"/>
<path d="M66.8 240.5L534.6 213.2"/>
<path d="M86.4 303.9L517.0 351.9"/>
<path d="M57.2 209.4L525.3 288.6"/>
<path d="M62.1 288.5L528.6 234.9"/>
<path d="M54.5 241.8L484.3 202.0"/>
<path d="M82.4 268.7L514.2 354.9"/>
<path d="M58.3 184.9L478.3 294.6"/>
<path d="M73.9 327.8L499.3 273.8"/>
<path d="M84.6 246.1L517.1 254.9"/>
<path d="M76.5 317.8L527.7 253.1"/>
<path d="M67.2 298.4L517.5 177.2"/>
<path d="M87.5 272.8L525.4 202.0"/>
<path d="M84.7 342.9L475.5 316.2"/>
<path d="M64.1 341.3L512.9 356.0"/>
<path d="M78.3 204.5L506.1 208.0"/>
<path d="M70.1 230.8L524.0 201.7"/>
<path d="M75.5 209.8L487.9 215.9"/>
<path d="M64.8 332.2L502.1 352.4"/>
<path d="M72.3 250.6L505.9 174.4"/>
<path d="M49.3 204.2L511.5 220.8"/>
<path d="M54.1 254.9L510.6 307.5"/>
<path d="M97.5 195.7L490.1 357.9"/>
<path d="M101.1 335.1L498.7 265.8"/>
<path d="M98.0 219.9L499.7 362.1"/>
<path d="M77.7 280.0L519.8 166.2"/>
<path d="M66.7 181.8L516.5 375.7"/>
<path d="M67.7 315.6L542.2 205.9"/>
<path d="M50.1 244.4L524.2 228.7"/>
<path d="M62.5 217.0L502.0 280.1"/>
<path d="M108.8 210.3L519.5 316.6"/>
<path d="M62.1 192.8L493.7 245.5"/>
<path d="M68.1 304.5L515.0 326.2"/>
<path d="M49.3 264.8L495.4 244.4"/>
<path d="M53.7 259.4L534.2 278.1"/>
<path d="M77.3 327.1L505.6 385.8"/>
<path d="M78.4 172.5L528.6 234.9"/>
<path d="M85.1 205.7L497.3 282.5"/>
</g>
<g stroke="#6a5acd" stroke-opacity="0.06" stroke-width="2.4" fill="none" filter="url(#br)">
<path d="M622.8 39.7C640.2 39.9 657.5 49.2 674.9 54.7C701.0 62.9 727.0 70.9 753.1 76.8C782.0 83.3 811.0 87.3 839.9 87.6C868.8 87.9 897.8 84.5 926.7 78.6C952.8 73.2 978.8 65.8 1004.9 58.1C1022.3 53.0 1039.6 44.0 1057.0 44.2"/>
<path d="M652.3 45.2C669.7 45.4 687.1 54.5 704.4 59.9C730.5 67.9 756.6 75.8 782.6 81.5C811.6 88.0 840.5 91.8 869.5 92.2C898.5 92.5 927.4 89.3 956.4 83.5C982.4 78.4 1008.5 71.1 1034.6 63.7C1051.9 58.7 1069.3 50.0 1086.7 50.2"/>
<path d="M637.1 52.9C654.5 53.1 671.8 61.9 689.2 67.1C715.2 74.8 741.3 82.4 767.3 88.0C796.3 94.3 825.2 98.0 854.2 98.3C883.1 98.7 912.0 95.6 941.0 90.0C967.0 85.0 993.1 78.0 1019.1 70.9C1036.5 66.1 1053.8 57.7 1071.2 57.9"/>
<path d="M634.9 53.9C652.3 54.1 669.6 62.9 687.0 68.0C713.1 75.7 739.1 83.3 765.2 88.9C794.1 95.1 823.1 98.8 852.0 99.1C880.9 99.5 909.9 96.4 938.8 90.9C964.9 85.9 990.9 78.9 1017.0 71.8C1034.4 67.1 1051.7 58.7 1069.1 58.9"/>
<path d="M654.7 71.1C672.1 71.3 689.5 79.4 706.8 84.1C732.9 91.2 759.0 98.2 785.1 103.3C814.0 109.0 843.0 112.4 872.0 112.7C900.9 113.0 929.9 110.2 958.9 105.1C984.9 100.6 1011.0 94.2 1037.1 87.6C1054.4 83.2 1071.8 75.5 1089.2 75.7"/>
<path d="M638.1 84.6C655.5 84.8 672.9 92.3 690.3 96.7C716.4 103.3 742.5 109.8 768.6 114.6C797.6 119.9 826.6 123.1 855.5 123.4C884.5 123.6 913.5 121.0 942.5 116.3C968.6 112.0 994.7 106.0 1020.8 99.9C1038.2 95.8 1055.6 88.6 1073.0 88.8"/>
<path d="M646.6 90.3C664.0 90.5 681.4 97.8 698.7 102.1C724.8 108.5 750.9 114.8 777.0 119.4C805.9 124.6 834.9 127.7 863.8 128.0C892.8 128.3 921.8 125.8 950.8 121.2C976.8 117.1 1002.9 111.3 1029.0 105.4C1046.3 101.5 1063.7 94.5 1081.1 94.7"/>
<path d="M629.8 91.5C647.2 91.7 664.6 98.9 682.0 103.1C708.0 109.5 734.1 115.7 760.2 120.3C789.2 125.4 818.2 128.5 847.1 128.7C876.1 129.0 905.1 126.4 934.1 121.8C960.2 117.7 986.3 111.9 1012.3 106.0C1029.7 102.1 1047.1 95.1 1064.5 95.3"/>
<path d="M643.6 92.9C661.0 93.0 678.4 100.2 695.8 104.4C721.8 110.7 747.9 116.9 774.0 121.4C803.0 126.4 831.9 129.5 860.9 129.7C889.9 129.9 918.8 127.4 947.8 122.8C973.9 118.6 1000.0 112.9 1026.0 107.0C1043.4 103.1 1060.8 96.2 1078.2 96.3"/>
<path d="M646.6 94.7C664.0 94.8 681.3 102.0 698.7 106.1C724.7 112.3 750.8 118.4 776.8 122.9C805.8 127.9 834.7 130.9 863.7 131.1C892.6 131.3 921.5 128.8 950.5 124.3C976.5 120.2 1002.6 114.5 1028.6 108.7C1046.0 104.8 1063.3 98.0 1080.7 98.1"/>
<path d="M654.3 95.3C671.7 95.5 689.1 102.6 706.4 106.7C732.5 112.9 758.6 119.0 784.6 123.5C813.6 128.5 842.6 131.5 871.5 131.8C900.5 132.1 929.5 129.6 958.4 125.1C984.5 121.1 1010.6 115.4 1036.7 109.7C1054.0 105.8 1071.4 99.0 1088.8 99.2"/>
<path d="M632.1 100.8C649.5 100.9 666.9 107.8 684.2 111.8C710.3 117.9 736.4 123.8 762.4 128.1C791.4 132.9 820.3 135.8 849.3 136.1C878.3 136.3 907.2 133.9 936.2 129.6C962.2 125.6 988.3 120.2 1014.4 114.6C1031.7 110.8 1049.1 104.3 1066.5 104.4"/>
<path d="M643.6 107.9C661.0 108.1 678.4 114.7 695.7 118.5C721.8 124.3 747.9 130.0 773.9 134.1C802.9 138.8 831.8 141.6 860.8 141.8C889.8 142.1 918.7 139.8 947.7 135.7C973.7 131.9 999.8 126.7 1025.9 121.4C1043.2 117.8 1060.6 111.5 1078.0 111.7"/>
<path d="M647.2 109.3C664.6 109.4 682.0 116.0 699.4 119.8C725.5 125.5 751.6 131.1 777.7 135.2C806.7 139.8 835.7 142.5 864.6 142.7C893.6 142.9 922.6 140.6 951.6 136.5C977.7 132.7 1003.8 127.5 1029.9 122.2C1047.3 118.6 1064.7 112.4 1082.1 112.5"/>
<path d="M660.8 109.5C678.2 109.6 695.6 116.1 713.0 119.9C739.0 125.6 765.1 131.2 791.2 135.3C820.2 139.9 849.1 142.6 878.1 142.8C907.1 143.0 936.0 140.7 965.0 136.5C991.1 132.8 1017.2 127.6 1043.2 122.2C1060.6 118.7 1078.0 112.4 1095.4 112.5"/>
<path d="M641.4 111.9C658.8 112.0 676.2 118.4 693.5 122.1C719.6 127.7 745.7 133.2 771.7 137.3C800.7 141.7 829.6 144.4 858.6 144.6C887.6 144.7 916.5 142.4 945.5 138.3C971.5 134.6 997.6 129.4 1023.7 124.1C1041.0 120.6 1058.4 114.4 1075.8 114.5"/>
<path d="M664.8 115.9C682.2 116.0 699.6 122.3 716.9 125.9C743.0 131.4 769.1 136.7 795.1 140.7C824.1 145.0 853.1 147.6 882.0 147.8C911.0 148.0 940.0 145.7 968.9 141.7C995.0 138.1 1021.1 133.1 1047.2 128.0C1064.5 124.5 1081.9 118.5 1099.3 118.6"/>
<path d="M656.1 118.4C673.5 118.5 690.9 124.7 708.2 128.3C734.3 133.7 760.4 138.9 786.5 142.8C815.4 147.1 844.4 149.7 873.3 149.9C902.3 150.1 931.3 147.9 960.2 144.0C986.3 140.5 1012.4 135.6 1038.5 130.6C1055.8 127.2 1073.2 121.3 1090.6 121.4"/>
<path d="M651.3 119.0C668.7 119.1 686.1 125.3 703.5 128.9C729.6 134.2 755.7 139.5 781.7 143.4C810.7 147.7 839.7 150.3 868.7 150.5C897.7 150.7 926.7 148.5 955.7 144.7C981.7 141.2 1007.8 136.3 1033.9 131.3C1051.3 128.0 1068.7 122.1 1086.1 122.2"/>
<path d="M617.5 119.4C634.9 119.5 652.3 125.7 669.6 129.2C695.7 134.6 721.8 139.8 747.9 143.7C776.8 148.0 805.8 150.6 834.8 150.8C863.7 151.0 892.7 148.9 921.6 145.0C947.7 141.5 973.8 136.6 999.9 131.7C1017.2 128.3 1034.6 122.5 1052.0 122.6"/>
<path d="M648.0 119.4C665.4 119.5 682.8 125.7 700.2 129.2C726.2 134.6 752.3 139.8 778.4 143.7C807.4 148.0 836.4 150.6 865.4 150.8C894.3 151.0 923.3 148.9 952.3 145.0C978.4 141.5 1004.5 136.6 1030.5 131.7C1047.9 128.3 1065.3 122.5 1082.7 122.6"/>
<path d="M622.8 120.0C640.2 120.1 657.6 126.2 675.0 129.8C701.0 135.2 727.1 140.4 753.2 144.3C782.2 148.6 811.1 151.1 840.1 151.4C869.1 151.6 898.0 149.5 927.0 145.6C953.1 142.2 979.2 137.3 1005.2 132.4C1022.6 129.1 1040.0 123.3 1057.4 123.4"/>
<path d="M642.6 121.0C660.0 121.1 677.4 127.2 694.8 130.7C720.8 136.0 746.9 141.2 773.0 145.0C802.0 149.3 830.9 151.8 859.9 152.0C888.9 152.2 917.8 150.1 946.8 146.2C972.9 142.8 999.0 137.9 1025.0 133.0C1042.4 129.7 1059.8 123.9 1077.2 124.0"/>
<path d="M656.3 122.0C673.7 122.1 691.0 128.1 708.4 131.6C734.5 136.9 760.5 142.1 786.6 145.9C815.5 150.1 844.5 152.6 873.4 152.8C902.4 153.0 931.4 150.9 960.3 147.1C986.4 143.6 1012.4 138.8 1038.5 133.9C1055.9 130.7 1073.2 124.9 1090.6 125.0"/>
<path d="M630.4 124.6C647.8 124.7 665.2 130.7 682.5 134.1C708.6 139.3 734.7 144.4 760.8 148.2C789.7 152.3 818.7 154.8 847.7 155.1C876.6 155.3 905.6 153.3 934.5 149.6C960.6 146.2 986.7 141.6 1012.8 136.8C1030.1 133.6 1047.5 128.0 1064.9 128.1"/>
<path d="M617.5 126.7C634.9 126.8 652.3 132.6 669.6 136.0C695.7 141.1 721.8 146.1 747.9 149.8C776.8 153.9 805.8 156.3 834.8 156.5C863.7 156.7 892.7 154.6 921.6 150.9C947.7 147.6 973.8 142.9 999.9 138.2C1017.2 135.0 1034.6 129.4 1052.0 129.5"/>
<path d="M635.5 132.1C652.9 132.2 670.3 137.8 687.6 141.0C713.7 145.9 739.8 150.7 765.9 154.2C794.8 158.1 823.8 160.4 852.8 160.6C881.7 160.7 910.7 158.7 939.6 155.1C965.7 151.8 991.8 147.3 1017.9 142.7C1035.2 139.6 1052.6 134.2 1070.0 134.3"/>
<path d="M631.0 132.7C648.4 132.8 665.8 138.4 683.2 141.6C709.2 146.5 735.3 151.3 761.4 154.8C790.4 158.7 819.4 161.0 848.4 161.2C877.3 161.3 906.3 159.3 935.3 155.8C961.4 152.6 987.5 148.1 1013.5 143.5C1030.9 140.5 1048.3 135.1 1065.7 135.2"/>
<path d="M643.2 133.5C660.6 133.6 678.0 139.1 695.4 142.3C721.4 147.2 747.5 151.9 773.6 155.4C802.6 159.2 831.5 161.5 860.5 161.6C889.5 161.8 918.4 159.8 947.4 156.2C973.5 153.0 999.6 148.5 1025.6 143.9C1043.0 140.9 1060.4 135.5 1077.8 135.6"/>
<path d="M648.6 135.8C665.5 135.9 682.4 141.3 699.2 144.4C724.6 149.1 749.9 153.8 775.2 157.1C803.3 160.9 831.5 163.1 859.6 163.2C887.7 163.3 915.9 161.3 944.0 157.7C969.3 154.5 994.6 150.0 1020.0 145.5C1036.8 142.5 1053.7 137.1 1070.6 137.2"/>
<path d="M633.1 136.2C651.1 136.3 669.1 141.7 687.2 144.9C714.2 149.6 741.2 154.2 768.3 157.6C798.3 161.4 828.4 163.6 858.4 163.8C888.4 163.9 918.5 161.9 948.5 158.4C975.6 155.3 1002.6 150.9 1029.6 146.4C1047.7 143.4 1065.7 138.1 1083.7 138.2"/>
<path d="M637.5 136.2C655.0 136.5 672.6 142.0 690.1 145.4C716.4 150.3 742.8 155.2 769.1 158.9C798.3 162.9 827.6 165.5 856.8 166.0C886.0 166.5 915.3 165.0 944.5 161.9C970.8 159.1 997.2 155.2 1023.5 151.1C1041.0 148.4 1058.6 143.5 1076.1 143.8"/>
<path d="M650.0 136.6C666.6 137.0 683.3 142.6 699.9 146.0C724.9 151.1 749.8 156.1 774.8 159.9C802.5 164.2 830.3 166.9 858.0 167.6C885.7 168.4 913.5 167.1 941.2 164.3C966.2 161.8 991.1 158.1 1016.1 154.3C1032.7 151.8 1049.4 147.1 1066.0 147.5"/>
<path d="M641.6 141.7C658.6 142.0 675.7 147.3 692.7 150.5C718.2 155.3 743.8 160.0 769.3 163.5C797.7 167.4 826.1 169.9 854.5 170.4C882.9 170.9 911.3 169.4 939.7 166.5C965.2 163.9 990.8 160.1 1016.3 156.3C1033.3 153.7 1050.4 149.0 1067.4 149.3"/>
<path d="M631.5 144.8C649.2 145.1 666.9 150.2 684.6 153.3C711.1 157.9 737.7 162.4 764.2 165.8C793.7 169.6 823.2 171.9 852.7 172.4C882.2 172.8 911.7 171.3 941.2 168.3C967.7 165.7 994.3 161.9 1020.8 158.1C1038.5 155.5 1056.2 150.8 1073.9 151.1"/>
<path d="M632.4 146.7C649.7 147.0 667.0 152.1 684.3 155.2C710.2 159.7 736.2 164.2 762.1 167.6C790.9 171.4 819.7 173.8 848.5 174.2C877.4 174.7 906.2 173.3 935.0 170.5C960.9 168.0 986.9 164.3 1012.8 160.6C1030.1 158.1 1047.4 153.6 1064.7 153.9"/>
<path d="M639.4 149.0C656.6 149.2 673.7 154.2 690.9 157.2C716.6 161.6 742.3 166.0 768.0 169.3C796.6 172.9 825.2 175.1 853.8 175.5C882.4 175.9 911.0 174.4 939.6 171.6C965.3 169.0 991.0 165.3 1016.7 161.6C1033.9 159.1 1051.0 154.6 1068.2 154.8"/>
<path d="M629.6 152.2C646.3 152.3 663.1 157.2 679.8 160.0C704.9 164.2 730.0 168.4 755.1 171.4C783.0 174.9 810.9 176.9 838.8 177.2C866.6 177.4 894.5 175.8 922.4 172.8C947.5 170.2 972.6 166.5 997.7 162.6C1014.4 160.1 1031.2 155.6 1047.9 155.7"/>
<path d="M633.3 152.7C650.3 153.1 667.4 158.0 684.4 160.9C709.9 165.4 735.5 169.7 761.0 173.1C789.4 176.7 817.8 179.1 846.1 179.7C874.5 180.3 902.9 179.1 931.3 176.6C956.8 174.4 982.4 171.1 1007.9 167.7C1024.9 165.4 1042.0 161.2 1059.0 161.6"/>
<path d="M613.5 153.5C631.6 153.9 649.8 158.8 667.9 161.8C695.1 166.2 722.3 170.6 749.5 174.0C779.7 177.7 810.0 180.2 840.2 180.8C870.4 181.5 900.7 180.4 930.9 178.0C958.1 175.9 985.3 172.7 1012.5 169.5C1030.6 167.3 1048.8 163.2 1066.9 163.6"/>
<path d="M624.5 159.5C642.6 159.7 660.8 164.2 678.9 166.9C706.1 170.9 733.3 174.9 760.5 177.8C790.7 181.1 821.0 183.1 851.2 183.4C881.4 183.7 911.7 182.3 941.9 179.6C969.1 177.2 996.3 173.8 1023.5 170.3C1041.6 168.0 1059.8 163.8 1077.9 164.0"/>
<path d="M632.0 161.9C650.2 162.0 668.4 166.4 686.6 169.0C713.8 172.9 741.1 176.7 768.4 179.5C798.7 182.6 829.0 184.5 859.4 184.7C889.7 184.9 920.0 183.4 950.3 180.7C977.6 178.3 1004.9 174.8 1032.1 171.3C1050.3 168.9 1068.5 164.8 1086.7 164.9"/>
<path d="M643.4 162.6C660.3 162.7 677.1 167.1 694.0 169.7C719.3 173.6 744.6 177.4 769.9 180.2C798.1 183.3 826.2 185.3 854.3 185.5C882.4 185.7 910.5 184.3 938.7 181.6C964.0 179.2 989.3 175.9 1014.6 172.4C1031.5 170.1 1048.3 166.0 1065.2 166.1"/>
<path d="M652.2 163.6C668.3 163.7 684.4 168.1 700.5 170.6C724.7 174.4 748.8 178.1 773.0 180.9C799.8 184.0 826.6 185.8 853.5 186.0C880.3 186.2 907.2 184.7 934.0 182.1C958.2 179.6 982.3 176.2 1006.5 172.8C1022.6 170.5 1038.7 166.3 1054.8 166.5"/>
<path d="M647.6 167.5C664.4 167.4 681.2 171.6 698.0 173.9C723.2 177.4 748.4 180.9 773.6 183.4C801.6 186.2 829.6 187.8 857.7 187.8C885.7 187.7 913.7 186.1 941.7 183.2C966.9 180.6 992.1 177.1 1017.3 173.5C1034.1 171.1 1050.9 166.9 1067.7 166.9"/>
<path d="M633.5 167.6C650.9 167.6 668.4 171.8 685.8 174.1C711.9 177.7 738.0 181.2 764.1 183.7C793.1 186.5 822.1 188.2 851.1 188.2C880.1 188.2 909.2 186.6 938.2 183.8C964.3 181.3 990.4 177.8 1016.5 174.3C1033.9 172.0 1051.3 167.8 1068.7 167.9"/>
<path d="M652.4 168.6C669.6 168.6 686.9 172.7 704.2 175.1C730.1 178.6 756.0 182.1 781.9 184.7C810.7 187.5 839.5 189.2 868.3 189.2C897.1 189.3 925.9 187.7 954.7 185.0C980.6 182.6 1006.5 179.2 1032.5 175.8C1049.7 173.5 1067.0 169.4 1084.3 169.5"/>
<path d="M635.1 168.8C652.1 168.8 669.2 172.9 686.2 175.2C711.7 178.8 737.2 182.3 762.7 184.8C791.0 187.6 819.4 189.3 847.7 189.3C876.1 189.4 904.4 187.8 932.7 185.1C958.3 182.7 983.8 179.3 1009.3 175.9C1026.3 173.6 1043.3 169.5 1060.3 169.6"/>
<path d="M657.8 169.0C674.4 169.0 691.1 173.1 707.7 175.5C732.7 179.0 757.6 182.5 782.6 185.0C810.4 187.9 838.1 189.5 865.9 189.6C893.6 189.7 921.4 188.1 949.1 185.5C974.1 183.0 999.1 179.7 1024.0 176.3C1040.7 174.0 1057.3 170.0 1074.0 170.0"/>
<path d="M649.9 169.0C666.2 169.0 682.4 173.1 698.6 175.5C723.0 179.0 747.3 182.5 771.7 185.1C798.7 187.9 825.8 189.6 852.8 189.7C879.9 189.8 907.0 188.3 934.0 185.6C958.4 183.2 982.7 179.9 1007.1 176.5C1023.3 174.2 1039.5 170.3 1055.8 170.3"/>
<path d="M630.6 169.5C648.1 169.6 665.7 173.6 683.2 176.0C709.5 179.5 735.9 183.0 762.2 185.5C791.5 188.3 820.7 189.9 850.0 190.0C879.2 190.0 908.5 188.5 937.7 185.8C964.1 183.4 990.4 180.1 1016.7 176.6C1034.3 174.4 1051.8 170.4 1069.4 170.4"/>
<path d="M625.1 169.6C643.6 169.6 662.0 173.7 680.5 176.0C708.2 179.5 735.9 183.0 763.6 185.5C794.4 188.3 825.1 190.0 855.9 190.0C886.7 190.1 917.4 188.6 948.2 185.9C975.9 183.5 1003.6 180.1 1031.3 176.7C1049.8 174.4 1068.2 170.4 1086.7 170.5"/>
<path d="M631.5 169.9C649.4 169.9 667.3 174.0 685.2 176.4C712.1 179.9 738.9 183.3 765.8 185.9C795.6 188.7 825.4 190.3 855.2 190.4C885.1 190.5 914.9 189.0 944.7 186.4C971.6 184.0 998.4 180.7 1025.3 177.3C1043.1 175.1 1061.0 171.1 1078.9 171.2"/>
<path d="M633.0 170.4C650.6 170.4 668.1 174.5 685.7 176.8C712.1 180.4 738.5 183.8 764.9 186.3C794.2 189.2 823.5 190.8 852.8 190.9C882.1 191.0 911.4 189.6 940.7 187.0C967.1 184.6 993.5 181.3 1019.9 178.0C1037.5 175.8 1055.0 171.9 1072.6 171.9"/>
<path d="M648.4 172.5C665.8 172.5 683.1 176.4 700.4 178.7C726.4 182.1 752.4 185.4 778.4 187.8C807.3 190.5 836.2 192.1 865.1 192.1C894.0 192.1 922.9 190.6 951.8 188.0C977.8 185.6 1003.8 182.3 1029.8 178.9C1047.2 176.7 1064.5 172.8 1081.8 172.8"/>
<path d="M631.3 172.6C649.0 172.6 666.6 176.6 684.2 178.8C710.6 182.3 737.0 185.6 763.5 188.1C792.8 190.8 822.2 192.4 851.5 192.5C880.9 192.6 910.3 191.1 939.6 188.5C966.0 186.2 992.5 183.0 1018.9 179.7C1036.5 177.5 1054.1 173.7 1071.7 173.7"/>
<path d="M626.1 172.8C644.3 172.9 662.4 176.8 680.6 179.2C707.8 182.6 735.0 186.0 762.3 188.5C792.5 191.3 822.8 193.0 853.0 193.1C883.3 193.3 913.5 191.9 943.8 189.4C971.0 187.1 998.2 184.0 1025.5 180.8C1043.6 178.7 1061.8 174.9 1079.9 175.0"/>
<path d="M666.5 173.4C683.6 173.4 700.7 177.4 717.8 179.6C743.4 183.1 769.1 186.4 794.7 188.9C823.2 191.6 851.7 193.2 880.2 193.3C908.7 193.5 937.2 192.0 965.7 189.5C991.3 187.3 1016.9 184.1 1042.6 180.9C1059.7 178.7 1076.8 174.9 1093.9 175.0"/>
<path d="M622.1 173.4C639.3 173.5 656.5 177.4 673.8 179.7C699.6 183.1 725.4 186.5 751.2 188.9C779.9 191.7 808.6 193.3 837.2 193.5C865.9 193.6 894.6 192.2 923.3 189.7C949.1 187.4 974.9 184.3 1000.7 181.1C1017.9 179.0 1035.2 175.2 1052.4 175.2"/>
<path d="M645.4 175.2C662.7 175.2 680.0 179.1 697.3 181.3C723.2 184.6 749.2 187.8 775.1 190.2C804.0 192.8 832.8 194.4 861.6 194.4C890.5 194.4 919.3 193.0 948.1 190.4C974.1 188.1 1000.0 184.9 1026.0 181.7C1043.3 179.5 1060.6 175.7 1077.9 175.8"/>
<path d="M613.5 175.4C632.1 175.5 650.8 179.3 669.5 181.5C697.5 184.8 725.5 188.1 753.5 190.4C784.6 193.1 815.7 194.6 846.8 194.7C878.0 194.7 909.1 193.3 940.2 190.8C968.2 188.5 996.2 185.4 1024.2 182.1C1042.9 180.0 1061.5 176.3 1080.2 176.3"/>
<path d="M647.9 177.8C664.3 177.8 680.6 181.5 696.9 183.6C721.4 186.7 745.9 189.8 770.4 192.0C797.6 194.5 824.8 195.9 852.0 195.8C879.2 195.7 906.4 194.2 933.6 191.5C958.1 189.2 982.6 186.0 1007.1 182.7C1023.4 180.5 1039.7 176.7 1056.1 176.6"/>
<path d="M659.2 180.8C675.8 180.7 692.4 184.2 709.0 186.2C733.9 189.1 758.8 192.0 783.7 194.1C811.4 196.4 839.0 197.6 866.7 197.4C894.4 197.2 922.0 195.5 949.7 192.8C974.6 190.4 999.5 187.1 1024.4 183.8C1041.0 181.6 1057.6 177.8 1074.2 177.6"/>
<path d="M629.7 180.9C647.1 180.8 664.6 184.3 682.0 186.3C708.2 189.3 734.4 192.2 760.6 194.2C789.7 196.5 818.8 197.8 847.9 197.6C877.0 197.4 906.0 195.8 935.1 193.1C961.3 190.7 987.5 187.5 1013.7 184.2C1031.1 182.0 1048.6 178.2 1066.0 178.1"/>
<path d="M674.2 180.9C689.5 180.9 704.8 184.5 720.1 186.5C743.0 189.6 765.9 192.6 788.9 194.7C814.4 197.1 839.8 198.5 865.3 198.5C890.8 198.4 916.3 197.0 941.8 194.5C964.7 192.2 987.7 189.1 1010.6 186.0C1025.9 183.9 1041.2 180.3 1056.5 180.2"/>
<path d="M650.7 181.3C668.1 181.3 685.4 184.8 702.8 186.9C728.9 189.9 755.0 192.9 781.1 195.0C810.0 197.4 839.0 198.7 868.0 198.6C897.0 198.6 925.9 197.1 954.9 194.6C981.0 192.3 1007.1 189.2 1033.2 186.0C1050.5 183.9 1067.9 180.3 1085.3 180.3"/>
<path d="M636.7 181.8C654.5 181.8 672.3 185.4 690.1 187.4C716.8 190.5 743.5 193.5 770.2 195.7C799.8 198.1 829.5 199.5 859.2 199.5C888.8 199.5 918.5 198.2 948.1 195.7C974.8 193.6 1001.5 190.6 1028.2 187.6C1046.0 185.5 1063.8 182.0 1081.6 182.0"/>
<path d="M642.9 182.2C660.0 182.2 677.0 185.8 694.1 187.8C719.8 190.8 745.4 193.8 771.1 196.0C799.6 198.4 828.1 199.8 856.5 199.8C885.0 199.8 913.5 198.4 942.0 196.0C967.7 193.8 993.3 190.8 1018.9 187.8C1036.0 185.7 1053.1 182.2 1070.2 182.2"/>
<path d="M633.5 182.3C651.2 182.3 668.9 185.8 686.6 187.9C713.1 190.9 739.7 193.9 766.2 196.0C795.7 198.4 825.2 199.8 854.7 199.8C884.2 199.8 913.7 198.4 943.2 196.0C969.7 193.8 996.3 190.9 1022.8 187.8C1040.5 185.8 1058.2 182.2 1075.9 182.2"/>
<path d="M654.1 184.4C670.6 184.3 687.1 187.7 703.6 189.7C728.3 192.5 753.1 195.4 777.8 197.4C805.3 199.6 832.8 200.9 860.3 200.7C887.8 200.6 915.3 199.1 942.8 196.6C967.5 194.3 992.3 191.3 1017.0 188.1C1033.5 186.0 1050.0 182.5 1066.5 182.4"/>
<path d="M628.3 184.9C645.1 184.8 661.8 188.2 678.6 190.1C703.8 193.0 728.9 195.8 754.1 197.8C782.1 200.0 810.0 201.3 838.0 201.1C865.9 201.0 893.9 199.5 921.9 197.0C947.0 194.8 972.2 191.8 997.3 188.7C1014.1 186.6 1030.9 183.1 1047.7 183.0"/>
<path d="M636.5 185.6C653.4 185.6 670.4 188.9 687.4 190.8C712.8 193.7 738.3 196.5 763.7 198.5C792.0 200.7 820.3 202.0 848.5 201.9C876.8 201.8 905.1 200.3 933.3 197.9C958.8 195.7 984.2 192.7 1009.7 189.6C1026.6 187.6 1043.6 184.1 1060.6 184.0"/>
<path d="M676.3 187.6C692.8 187.5 709.4 190.8 725.9 192.6C750.7 195.4 775.4 198.2 800.2 200.1C827.7 202.3 855.3 203.5 882.8 203.4C910.3 203.3 937.9 201.8 965.4 199.5C990.2 197.3 1015.0 194.4 1039.7 191.4C1056.3 189.4 1072.8 186.0 1089.3 185.9"/>
<path d="M647.3 187.8C663.5 187.7 679.6 191.0 695.8 192.9C720.0 195.6 744.2 198.4 768.5 200.3C795.4 202.5 822.3 203.7 849.2 203.6C876.1 203.5 903.0 202.1 929.9 199.7C954.1 197.6 978.4 194.7 1002.6 191.7C1018.7 189.7 1034.9 186.3 1051.0 186.2"/>
<path d="M653.9 188.3C671.0 188.2 688.1 191.5 705.1 193.4C730.7 196.1 756.3 198.9 781.9 200.8C810.3 203.0 838.8 204.2 867.2 204.1C895.6 204.1 924.0 202.7 952.5 200.3C978.1 198.2 1003.7 195.4 1029.3 192.4C1046.3 190.5 1063.4 187.1 1080.4 187.1"/>
<path d="M633.8 188.6C651.1 188.6 668.5 191.8 685.8 193.7C711.8 196.5 737.8 199.2 763.8 201.2C792.7 203.4 821.6 204.7 850.5 204.6C879.4 204.6 908.2 203.3 937.1 201.0C963.1 198.9 989.1 196.1 1015.1 193.3C1032.5 191.3 1049.8 188.0 1067.1 188.0"/>
<path d="M646.4 190.4C663.2 190.3 680.0 193.4 696.9 195.2C722.1 197.9 747.4 200.5 772.6 202.4C800.7 204.5 828.7 205.6 856.8 205.5C884.8 205.3 912.9 203.9 940.9 201.5C966.2 199.4 991.4 196.6 1016.7 193.6C1033.5 191.7 1050.3 188.4 1067.1 188.3"/>
<path d="M631.2 190.6C648.0 190.5 664.8 193.7 681.6 195.5C706.8 198.2 732.0 200.8 757.2 202.7C785.2 204.8 813.1 205.9 841.1 205.8C869.1 205.7 897.1 204.3 925.1 202.0C950.3 199.9 975.5 197.1 1000.7 194.2C1017.5 192.3 1034.3 189.0 1051.1 189.0"/>
<path d="M644.6 191.5C662.2 191.4 679.8 194.5 697.4 196.3C723.8 198.9 750.2 201.5 776.5 203.4C805.9 205.4 835.2 206.6 864.5 206.4C893.8 206.3 923.1 204.9 952.4 202.6C978.8 200.6 1005.2 197.7 1031.6 194.9C1049.2 193.0 1066.8 189.7 1084.4 189.6"/>
<path d="M647.5 191.8C665.1 191.7 682.6 194.8 700.1 196.6C726.4 199.2 752.7 201.8 779.0 203.7C808.2 205.7 837.4 206.9 866.6 206.8C895.8 206.7 925.1 205.3 954.3 203.1C980.6 201.0 1006.8 198.3 1033.1 195.4C1050.7 193.5 1068.2 190.3 1085.7 190.2"/>
<path d="M639.0 191.8C656.7 191.7 674.3 194.8 691.9 196.6C718.3 199.3 744.7 201.9 771.2 203.8C800.5 205.9 829.9 207.1 859.3 207.0C888.6 206.9 918.0 205.6 947.3 203.4C973.8 201.4 1000.2 198.7 1026.6 195.9C1044.2 194.0 1061.9 190.8 1079.5 190.8"/>
<path d="M621.6 192.1C638.9 192.1 656.1 195.2 673.4 197.0C699.3 199.7 725.2 202.3 751.0 204.2C779.8 206.3 808.5 207.4 837.3 207.4C866.0 207.3 894.8 206.0 923.5 203.8C949.4 201.9 975.3 199.2 1001.2 196.4C1018.4 194.6 1035.7 191.4 1052.9 191.3"/>
<path d="M632.1 192.8C649.8 192.7 667.5 195.8 685.2 197.6C711.8 200.2 738.4 202.8 765.0 204.6C794.5 206.6 824.1 207.8 853.6 207.7C883.1 207.6 912.7 206.3 942.2 204.1C968.8 202.1 995.4 199.3 1021.9 196.6C1039.7 194.7 1057.4 191.5 1075.1 191.5"/>
<path d="M672.6 193.0C687.8 193.0 703.1 196.0 718.3 197.8C741.2 200.4 764.0 203.0 786.9 204.8C812.3 206.9 837.7 208.0 863.1 207.9C888.5 207.9 913.9 206.5 939.3 204.3C962.1 202.4 985.0 199.6 1007.8 196.9C1023.1 195.0 1038.3 191.9 1053.6 191.8"/>
<path d="M630.5 193.4C649.4 193.3 668.3 196.4 687.2 198.1C715.6 200.7 743.9 203.3 772.3 205.1C803.8 207.1 835.3 208.3 866.8 208.2C898.3 208.1 929.8 206.8 961.3 204.6C989.6 202.6 1018.0 199.9 1046.3 197.1C1065.2 195.3 1084.1 192.1 1103.0 192.1"/>
<path d="M636.6 194.1C655.7 194.1 674.9 197.1 694.0 198.8C722.7 201.4 751.4 203.9 780.1 205.7C812.0 207.7 843.9 208.8 875.8 208.7C907.6 208.6 939.5 207.3 971.4 205.1C1000.1 203.1 1028.8 200.4 1057.5 197.7C1076.7 195.8 1095.8 192.7 1114.9 192.6"/>
<path d="M648.6 194.8C664.8 194.8 681.0 197.9 697.3 199.6C721.6 202.3 745.9 204.8 770.2 206.7C797.3 208.8 824.3 210.1 851.4 210.1C878.4 210.1 905.4 209.0 932.5 207.0C956.8 205.2 981.1 202.7 1005.5 200.1C1021.7 198.4 1037.9 195.4 1054.1 195.5"/>
<path d="M667.5 195.7C683.9 195.7 700.3 198.7 716.7 200.4C741.2 203.0 765.8 205.6 790.4 207.4C817.7 209.5 845.0 210.7 872.3 210.8C899.6 210.8 926.9 209.7 954.3 207.7C978.8 205.9 1003.4 203.4 1028.0 200.9C1044.4 199.2 1060.8 196.2 1077.2 196.3"/>
<path d="M657.7 196.0C674.5 196.0 691.3 199.0 708.1 200.7C733.3 203.3 758.4 205.8 783.6 207.7C811.6 209.7 839.5 210.9 867.5 210.9C895.5 210.9 923.5 209.8 951.4 207.8C976.6 206.0 1001.8 203.5 1026.9 200.9C1043.7 199.2 1060.5 196.3 1077.3 196.3"/>
<path d="M641.4 196.2C658.2 196.2 675.0 199.3 691.9 201.0C717.2 203.6 742.4 206.2 767.7 208.1C795.8 210.3 823.8 211.5 851.9 211.7C880.0 211.8 908.0 210.7 936.1 208.9C961.4 207.2 986.6 204.8 1011.9 202.4C1028.7 200.8 1045.6 197.9 1062.4 198.0"/>
<path d="M637.5 196.4C655.5 196.5 673.6 199.5 691.6 201.3C718.6 203.9 745.6 206.5 772.6 208.4C802.6 210.5 832.7 211.8 862.7 211.9C892.7 212.0 922.7 211.0 952.8 209.1C979.8 207.4 1006.8 205.1 1033.8 202.6C1051.8 201.0 1069.8 198.2 1087.8 198.3"/>
<path d="M649.4 197.2C666.0 197.2 682.7 200.2 699.3 201.9C724.3 204.5 749.2 207.0 774.2 208.9C801.9 211.0 829.6 212.2 857.4 212.3C885.1 212.4 912.8 211.3 940.6 209.5C965.5 207.8 990.5 205.4 1015.4 203.0C1032.1 201.4 1048.7 198.5 1065.3 198.6"/>
<path d="M648.9 198.2C666.0 198.4 683.0 201.3 700.0 203.0C725.6 205.7 751.1 208.2 776.6 210.1C805.0 212.3 833.4 213.6 861.8 213.8C890.2 214.0 918.6 213.0 947.0 211.3C972.5 209.8 998.0 207.5 1023.6 205.3C1040.6 203.8 1057.6 201.1 1074.7 201.2"/>
<path d="M639.4 198.3C656.3 198.5 673.2 201.4 690.1 203.2C715.5 205.9 740.8 208.5 766.2 210.4C794.4 212.6 822.6 214.0 850.8 214.3C879.0 214.5 907.2 213.7 935.4 212.1C960.7 210.6 986.1 208.5 1011.5 206.3C1028.4 204.9 1045.3 202.2 1062.2 202.4"/>
<path d="M660.4 198.7C676.6 198.8 692.8 201.8 709.0 203.6C733.3 206.2 757.6 208.9 781.9 210.8C808.8 213.0 835.8 214.4 862.8 214.7C889.8 215.0 916.8 214.2 943.8 212.7C968.1 211.2 992.4 209.1 1016.7 207.0C1032.9 205.6 1049.1 203.0 1065.3 203.2"/>
<path d="M653.9 199.3C670.2 199.5 686.6 202.4 702.9 204.2C727.4 206.8 752.0 209.4 776.5 211.3C803.7 213.5 831.0 214.9 858.2 215.2C885.5 215.5 912.7 214.7 940.0 213.1C964.5 211.6 989.0 209.6 1013.5 207.4C1029.9 206.0 1046.2 203.4 1062.6 203.6"/>
<path d="M628.5 200.4C646.7 200.5 664.9 203.4 683.1 205.1C710.4 207.6 737.8 210.2 765.1 212.0C795.4 214.1 825.8 215.4 856.1 215.7C886.5 215.9 916.8 215.1 947.2 213.4C974.5 212.0 1001.8 209.9 1029.1 207.7C1047.3 206.3 1065.5 203.7 1083.7 203.8"/>
<path d="M631.7 200.8C650.5 200.9 669.3 203.8 688.1 205.5C716.3 208.0 744.5 210.5 772.7 212.4C804.1 214.5 835.4 215.8 866.7 216.0C898.1 216.2 929.4 215.4 960.8 213.8C989.0 212.3 1017.2 210.2 1045.4 208.1C1064.2 206.7 1083.0 204.1 1101.8 204.2"/>
<path d="M648.5 201.0C665.5 201.2 682.6 204.1 699.6 205.8C725.2 208.4 750.8 211.0 776.4 212.9C804.8 215.1 833.3 216.4 861.7 216.7C890.1 217.1 918.5 216.3 947.0 214.8C972.6 213.5 998.1 211.5 1023.7 209.5C1040.8 208.1 1057.8 205.6 1074.9 205.8"/>
<path d="M643.6 204.0C660.5 204.0 677.4 206.7 694.4 208.3C719.8 210.7 745.2 213.0 770.6 214.8C798.9 216.7 827.1 217.9 855.4 218.0C883.6 218.1 911.8 217.3 940.1 215.6C965.5 214.1 990.9 212.0 1016.3 209.9C1033.3 208.5 1050.2 206.0 1067.2 206.0"/>
<path d="M619.3 204.2C637.7 204.3 656.1 207.0 674.5 208.6C702.2 210.9 729.8 213.2 757.4 215.0C788.1 216.9 818.8 218.0 849.4 218.1C880.1 218.3 910.8 217.4 941.5 215.7C969.1 214.2 996.7 212.1 1024.3 210.0C1042.8 208.6 1061.2 206.0 1079.6 206.1"/>
<path d="M648.3 204.5C665.8 204.6 683.3 207.3 700.8 208.8C727.1 211.2 753.4 213.5 779.7 215.2C808.9 217.0 838.1 218.2 867.3 218.3C896.5 218.4 925.7 217.5 954.9 215.8C981.2 214.3 1007.5 212.2 1033.8 210.0C1051.3 208.6 1068.8 206.1 1086.3 206.1"/>
<path d="M649.1 204.7C665.9 204.8 682.7 207.4 699.5 209.0C724.7 211.3 749.8 213.6 775.0 215.3C803.0 217.2 831.0 218.3 859.0 218.4C887.0 218.5 915.0 217.6 943.0 215.9C968.2 214.4 993.4 212.3 1018.5 210.2C1035.3 208.7 1052.1 206.2 1068.9 206.3"/>
<path d="M630.3 204.9C647.8 204.9 665.4 207.6 683.0 209.1C709.3 211.5 735.7 213.8 762.0 215.4C791.3 217.3 820.6 218.4 849.9 218.6C879.2 218.7 908.5 217.8 937.7 216.1C964.1 214.6 990.4 212.5 1016.8 210.4C1034.4 209.0 1051.9 206.5 1069.5 206.5"/>
<path d="M655.1 205.7C672.3 205.8 689.5 208.4 706.7 209.9C732.5 212.2 758.3 214.4 784.1 216.1C812.8 217.9 841.5 219.0 870.2 219.1C898.9 219.2 927.5 218.3 956.2 216.6C982.0 215.2 1007.8 213.1 1033.6 210.9C1050.8 209.5 1068.1 207.0 1085.3 207.1"/>
<path d="M651.0 208.9C668.4 208.8 685.9 211.3 703.3 212.7C729.4 214.7 755.5 216.8 781.6 218.2C810.6 219.8 839.7 220.7 868.7 220.6C897.7 220.5 926.7 219.5 955.8 217.7C981.9 216.1 1008.0 214.0 1034.1 211.7C1051.5 210.3 1068.9 207.7 1086.4 207.7"/>
<path d="M627.2 209.4C645.5 209.3 663.8 211.7 682.1 213.1C709.6 215.2 737.0 217.2 764.5 218.6C795.0 220.2 825.5 221.1 855.9 221.0C886.4 221.0 916.9 219.9 947.4 218.2C974.9 216.6 1002.3 214.5 1029.8 212.3C1048.1 210.8 1066.4 208.3 1084.7 208.3"/>
<path d="M645.5 209.8C662.5 209.7 679.6 212.1 696.6 213.5C722.2 215.5 747.7 217.5 773.3 218.9C801.7 220.5 830.1 221.3 858.5 221.3C886.9 221.2 915.4 220.1 943.8 218.3C969.3 216.7 994.9 214.6 1020.5 212.4C1037.5 210.9 1054.6 208.4 1071.6 208.3"/>
<path d="M678.8 210.3C694.3 210.2 709.8 212.6 725.4 213.9C748.6 215.9 771.9 217.9 795.1 219.3C821.0 220.8 846.8 221.7 872.7 221.5C898.5 221.4 924.4 220.4 950.2 218.6C973.5 217.0 996.8 214.8 1020.0 212.6C1035.5 211.2 1051.1 208.6 1066.6 208.6"/>
<path d="M640.4 210.5C658.1 210.5 675.8 212.8 693.6 214.2C720.2 216.1 746.8 218.1 773.4 219.5C803.0 221.0 832.6 221.9 862.2 221.8C891.7 221.7 921.3 220.6 950.9 218.9C977.5 217.3 1004.1 215.2 1030.8 213.0C1048.5 211.5 1066.2 209.0 1084.0 209.0"/>
<path d="M610.8 211.6C629.8 211.5 648.8 213.8 667.9 215.1C696.4 217.0 724.9 218.9 753.4 220.2C785.1 221.7 816.8 222.5 848.5 222.3C880.2 222.2 911.8 221.1 943.5 219.3C972.1 217.6 1000.6 215.5 1029.1 213.3C1048.1 211.8 1067.1 209.3 1086.1 209.2"/>
<path d="M645.1 212.4C662.0 212.3 678.8 214.6 695.7 215.8C721.0 217.7 746.3 219.6 771.6 220.8C799.7 222.3 827.8 223.0 855.9 222.8C884.1 222.6 912.2 221.5 940.3 219.7C965.6 218.1 990.9 215.9 1016.2 213.7C1033.1 212.2 1049.9 209.8 1066.8 209.6"/>
<path d="M637.9 213.5C655.9 213.4 674.0 215.6 692.1 216.8C719.2 218.6 746.3 220.3 773.4 221.5C803.5 222.9 833.7 223.6 863.8 223.3C893.9 223.1 924.0 221.9 954.1 220.0C981.3 218.4 1008.4 216.2 1035.5 213.9C1053.5 212.4 1071.6 209.9 1089.7 209.8"/>
<path d="M645.2 213.6C663.8 213.5 682.3 215.8 700.9 217.0C728.7 218.8 756.5 220.6 784.3 221.9C815.2 223.3 846.1 224.1 877.0 223.9C907.9 223.7 938.8 222.6 969.8 220.9C997.6 219.3 1025.4 217.2 1053.2 215.0C1071.8 213.6 1090.3 211.2 1108.8 211.1"/>
<path d="M657.7 214.4C675.1 214.3 692.5 216.5 709.9 217.7C736.0 219.5 762.1 221.3 788.2 222.6C817.2 224.0 846.1 224.7 875.1 224.5C904.1 224.4 933.1 223.3 962.1 221.6C988.2 220.0 1014.3 217.9 1040.4 215.8C1057.8 214.4 1075.2 212.0 1092.6 211.9"/>
<path d="M645.6 216.3C663.4 216.1 681.3 218.2 699.1 219.3C725.9 221.0 752.6 222.7 779.4 223.8C809.1 225.1 838.8 225.7 868.6 225.4C898.3 225.1 928.0 224.0 957.8 222.2C984.5 220.6 1011.3 218.4 1038.0 216.2C1055.9 214.8 1073.7 212.4 1091.5 212.2"/>
<path d="M658.2 216.6C674.9 216.4 691.7 218.5 708.4 219.7C733.6 221.4 758.7 223.1 783.8 224.3C811.7 225.6 839.6 226.2 867.5 226.0C895.4 225.8 923.4 224.8 951.3 223.1C976.4 221.5 1001.5 219.5 1026.6 217.4C1043.4 216.0 1060.1 213.7 1076.9 213.6"/>
<path d="M638.6 216.8C656.5 216.7 674.3 218.8 692.1 219.9C718.8 221.7 745.5 223.4 772.2 224.5C801.9 225.9 831.6 226.6 861.3 226.4C890.9 226.2 920.6 225.2 950.3 223.5C977.0 222.0 1003.7 220.0 1030.5 218.0C1048.3 216.6 1066.1 214.3 1083.9 214.2"/>
<path d="M627.9 216.9C646.2 216.8 664.4 218.9 682.7 220.0C710.1 221.8 737.4 223.5 764.8 224.7C795.2 226.0 825.7 226.7 856.1 226.5C886.5 226.4 916.9 225.3 947.4 223.7C974.7 222.2 1002.1 220.2 1029.5 218.1C1047.8 216.8 1066.0 214.5 1084.3 214.4"/>
<path d="M655.2 216.9C672.4 216.9 689.7 219.0 707.0 220.1C732.8 221.9 758.7 223.6 784.6 224.9C813.4 226.2 842.1 226.9 870.9 226.8C899.7 226.7 928.4 225.7 957.2 224.1C983.1 222.7 1008.9 220.7 1034.8 218.8C1052.1 217.4 1069.3 215.2 1086.6 215.1"/>
<path d="M632.5 217.0C649.4 216.9 666.4 219.0 683.4 220.2C708.8 222.0 734.3 223.7 759.7 225.0C788.0 226.4 816.3 227.1 844.6 227.1C872.8 227.0 901.1 226.0 929.4 224.5C954.9 223.1 980.3 221.2 1005.8 219.2C1022.7 217.9 1039.7 215.7 1056.7 215.7"/>
<path d="M648.8 217.8C666.3 217.7 683.9 219.8 701.5 221.0C727.8 222.7 754.2 224.5 780.5 225.7C809.8 227.1 839.1 227.8 868.4 227.7C897.7 227.6 926.9 226.7 956.2 225.2C982.6 223.8 1008.9 222.0 1035.3 220.0C1052.9 218.8 1070.4 216.6 1088.0 216.6"/>
<path d="M638.8 219.2C656.4 219.1 674.0 221.0 691.5 222.1C717.9 223.8 744.2 225.4 770.5 226.6C799.8 227.8 829.1 228.5 858.3 228.3C887.6 228.1 916.9 227.1 946.1 225.5C972.5 224.1 998.8 222.1 1025.1 220.2C1042.7 218.9 1060.3 216.7 1077.8 216.6"/>
<path d="M650.0 219.4C667.3 219.3 684.5 221.2 701.8 222.3C727.7 224.0 753.6 225.6 779.4 226.7C808.2 228.0 837.0 228.7 865.7 228.5C894.5 228.3 923.2 227.3 952.0 225.7C977.9 224.3 1003.8 222.4 1029.7 220.5C1046.9 219.2 1064.2 217.0 1081.4 216.9"/>
<path d="M637.9 219.5C654.2 219.4 670.4 221.4 686.7 222.5C711.1 224.2 735.4 225.8 759.8 227.0C786.9 228.2 814.0 228.9 841.1 228.8C868.2 228.6 895.3 227.7 922.3 226.1C946.7 224.7 971.1 222.9 995.5 220.9C1011.7 219.7 1028.0 217.5 1044.2 217.4"/>
<path d="M619.3 219.8C637.2 219.7 655.2 221.7 673.2 222.8C700.1 224.5 727.1 226.1 754.0 227.3C783.9 228.5 813.9 229.2 843.8 229.1C873.8 229.0 903.7 228.1 933.7 226.6C960.6 225.2 987.6 223.3 1014.5 221.5C1032.5 220.2 1050.4 218.1 1068.4 218.0"/>
<path d="M668.0 219.9C683.8 220.0 699.7 222.0 715.5 223.2C739.3 225.0 763.1 226.7 786.9 228.0C813.3 229.4 839.7 230.2 866.1 230.3C892.5 230.3 918.9 229.6 945.4 228.3C969.1 227.1 992.9 225.5 1016.7 223.8C1032.5 222.7 1048.4 220.8 1064.2 220.8"/>
<path d="M645.8 220.9C663.5 220.9 681.2 222.9 698.9 224.0C725.5 225.7 752.0 227.4 778.6 228.6C808.1 230.0 837.6 230.7 867.1 230.7C896.6 230.7 926.1 229.9 955.7 228.6C982.2 227.4 1008.8 225.7 1035.3 224.0C1053.0 222.9 1070.8 220.9 1088.5 220.9"/>
<path d="M645.4 222.2C663.5 222.1 681.6 224.1 699.7 225.1C726.8 226.8 754.0 228.3 781.1 229.5C811.2 230.8 841.4 231.5 871.5 231.4C901.7 231.4 931.8 230.5 962.0 229.2C989.1 227.9 1016.2 226.2 1043.4 224.5C1061.4 223.3 1079.5 221.4 1097.6 221.3"/>
<path d="M653.0 222.6C670.0 222.5 687.1 224.4 704.2 225.5C729.7 227.0 755.3 228.6 780.9 229.7C809.3 231.0 837.7 231.6 866.2 231.6C894.6 231.5 923.0 230.6 951.4 229.2C977.0 228.0 1002.6 226.3 1028.2 224.5C1045.2 223.4 1062.3 221.4 1079.3 221.4"/>
<path d="M632.8 222.7C649.9 222.6 667.1 224.5 684.3 225.6C710.1 227.2 735.8 228.8 761.6 229.9C790.2 231.2 818.9 231.9 847.5 231.8C876.1 231.8 904.8 231.0 933.4 229.6C959.2 228.4 985.0 226.7 1010.7 225.0C1027.9 223.9 1045.1 221.9 1062.3 221.9"/>
<path d="M600.2 222.8C619.4 222.8 638.6 224.7 657.9 225.7C686.7 227.3 715.5 228.9 744.4 230.0C776.4 231.3 808.4 232.0 840.5 231.9C872.5 231.8 904.6 231.0 936.6 229.7C965.4 228.4 994.3 226.8 1023.1 225.1C1042.3 223.9 1061.6 222.0 1080.8 221.9"/>
<path d="M631.6 224.4C649.2 224.3 666.8 226.1 684.4 227.1C710.8 228.6 737.2 230.0 763.5 231.1C792.9 232.2 822.2 232.8 851.5 232.6C880.8 232.4 910.1 231.5 939.4 230.1C965.8 228.8 992.2 227.1 1018.5 225.3C1036.1 224.1 1053.7 222.2 1071.3 222.1"/>
<path d="M667.7 224.5C684.3 224.4 701.0 226.2 717.6 227.2C742.5 228.7 767.5 230.2 792.4 231.2C820.2 232.3 847.9 232.9 875.6 232.8C903.3 232.7 931.0 231.8 958.7 230.4C983.7 229.1 1008.6 227.4 1033.6 225.7C1050.2 224.5 1066.8 222.6 1083.5 222.5"/>
<path d="M658.9 224.5C677.0 224.5 695.0 226.3 713.0 227.4C740.1 229.0 767.1 230.5 794.2 231.6C824.3 232.8 854.3 233.5 884.4 233.5C914.4 233.5 944.5 232.7 974.5 231.5C1001.6 230.3 1028.6 228.7 1055.7 227.1C1073.7 226.1 1091.8 224.2 1109.8 224.2"/>
<path d="M652.8 226.0C669.9 226.0 687.0 227.7 704.2 228.7C729.9 230.2 755.6 231.7 781.3 232.7C809.8 233.9 838.4 234.5 866.9 234.5C895.5 234.4 924.0 233.7 952.6 232.4C978.3 231.2 1004.0 229.7 1029.7 228.1C1046.8 227.0 1064.0 225.2 1081.1 225.2"/>
<path d="M657.6 227.6C674.5 227.6 691.4 229.3 708.3 230.2C733.6 231.6 758.9 233.0 784.3 234.0C812.4 235.1 840.6 235.6 868.7 235.6C896.9 235.5 925.0 234.7 953.2 233.4C978.5 232.3 1003.9 230.7 1029.2 229.1C1046.1 228.1 1063.0 226.3 1079.9 226.2"/>
<path d="M630.7 229.0C649.0 228.9 667.2 230.6 685.5 231.5C712.9 232.9 740.3 234.2 767.6 235.2C798.1 236.2 828.5 236.8 858.9 236.8C889.3 236.7 919.8 236.0 950.2 234.8C977.6 233.7 1005.0 232.2 1032.3 230.7C1050.6 229.7 1068.9 228.0 1087.1 227.9"/>
<path d="M640.1 230.8C658.3 230.7 676.4 232.2 694.5 233.0C721.6 234.3 748.8 235.5 775.9 236.4C806.1 237.3 836.3 237.8 866.5 237.6C896.6 237.5 926.8 236.7 957.0 235.4C984.1 234.3 1011.3 232.7 1038.5 231.2C1056.6 230.1 1074.7 228.4 1092.8 228.3"/>
<path d="M676.1 231.4C692.3 231.2 708.6 232.7 724.8 233.6C749.2 234.8 773.5 236.0 797.9 236.8C825.0 237.7 852.1 238.2 879.1 238.0C906.2 237.8 933.3 237.0 960.4 235.7C984.7 234.5 1009.1 233.0 1033.5 231.4C1049.7 230.4 1066.0 228.7 1082.2 228.6"/>
<path d="M637.1 231.5C654.5 231.4 671.9 232.9 689.4 233.7C715.5 234.9 741.7 236.1 767.8 236.9C796.9 237.8 825.9 238.3 855.0 238.1C884.0 237.9 913.1 237.1 942.1 235.9C968.3 234.7 994.4 233.2 1020.6 231.7C1038.0 230.6 1055.4 228.9 1072.9 228.8"/>
<path d="M645.8 232.2C663.4 232.1 681.0 233.5 698.6 234.3C725.0 235.5 751.4 236.6 777.8 237.4C807.1 238.3 836.4 238.7 865.8 238.5C895.1 238.3 924.5 237.4 953.8 236.2C980.2 235.0 1006.6 233.5 1033.0 231.9C1050.6 230.9 1068.2 229.2 1085.8 229.0"/>
<path d="M655.5 234.7C673.6 234.5 691.7 235.8 709.9 236.5C737.1 237.6 764.3 238.6 791.5 239.2C821.8 240.0 852.0 240.3 882.2 240.0C912.5 239.7 942.7 238.8 973.0 237.5C1000.2 236.3 1027.4 234.7 1054.6 233.2C1072.7 232.1 1090.9 230.4 1109.0 230.3"/>
<path d="M639.4 234.8C657.2 234.6 675.0 236.0 692.8 236.7C719.5 237.8 746.2 238.8 772.9 239.5C802.5 240.3 832.2 240.6 861.9 240.4C891.5 240.1 921.2 239.3 950.9 238.0C977.6 236.9 1004.3 235.4 1031.0 233.9C1048.8 232.9 1066.5 231.3 1084.3 231.2"/>
<path d="M624.5 235.8C642.3 235.6 660.1 236.9 677.9 237.6C704.6 238.6 731.3 239.6 758.0 240.2C787.7 240.9 817.3 241.2 847.0 240.9C876.7 240.6 906.4 239.8 936.0 238.5C962.8 237.3 989.5 235.8 1016.2 234.3C1034.0 233.3 1051.8 231.7 1069.6 231.5"/>
<path d="M619.8 236.2C637.9 236.1 656.0 237.3 674.1 238.0C701.2 239.0 728.4 240.0 755.5 240.6C785.6 241.3 815.8 241.6 845.9 241.3C876.1 241.0 906.2 240.2 936.4 238.9C963.5 237.8 990.6 236.3 1017.8 234.8C1035.8 233.8 1053.9 232.2 1072.0 232.0"/>
<path d="M650.5 237.1C667.9 237.0 685.2 238.2 702.6 238.8C728.7 239.8 754.7 240.7 780.8 241.3C809.8 242.0 838.7 242.2 867.7 241.9C896.6 241.6 925.6 240.8 954.6 239.5C980.6 238.4 1006.7 236.9 1032.7 235.4C1050.1 234.4 1067.5 232.8 1084.9 232.6"/>
<path d="M642.6 237.4C659.7 237.3 676.7 238.5 693.8 239.2C719.4 240.1 745.0 241.1 770.5 241.7C799.0 242.4 827.4 242.6 855.8 242.4C884.2 242.1 912.6 241.3 941.1 240.1C966.6 239.0 992.2 237.6 1017.8 236.2C1034.8 235.2 1051.9 233.7 1068.9 233.5"/>
<path d="M649.0 237.6C666.0 237.4 682.9 238.6 699.9 239.3C725.3 240.2 750.7 241.2 776.1 241.8C804.4 242.5 832.6 242.7 860.9 242.5C889.1 242.2 917.4 241.4 945.6 240.2C971.0 239.1 996.4 237.7 1021.8 236.3C1038.8 235.3 1055.7 233.8 1072.7 233.6"/>
<path d="M650.1 237.9C667.9 237.8 685.6 239.0 703.3 239.7C729.9 240.7 756.5 241.7 783.1 242.3C812.7 243.0 842.2 243.4 871.8 243.2C901.3 243.0 930.9 242.3 960.4 241.2C987.0 240.2 1013.6 238.8 1040.2 237.5C1057.9 236.6 1075.7 235.2 1093.4 235.0"/>
<path d="M641.8 238.5C659.6 238.4 677.5 239.7 695.4 240.3C722.2 241.4 749.0 242.3 775.8 243.0C805.6 243.8 835.4 244.2 865.1 244.0C894.9 243.9 924.7 243.3 954.5 242.3C981.3 241.3 1008.1 240.1 1034.9 238.9C1052.8 238.1 1070.6 236.7 1088.5 236.6"/>
<path d="M654.4 238.7C671.3 238.6 688.2 239.8 705.1 240.5C730.5 241.5 755.9 242.5 781.3 243.2C809.5 243.9 837.7 244.3 865.9 244.2C894.1 244.1 922.3 243.5 950.5 242.5C975.8 241.6 1001.2 240.3 1026.6 239.1C1043.5 238.3 1060.4 236.9 1077.3 236.9"/>
<path d="M641.6 238.8C659.0 238.7 676.4 240.0 693.8 240.7C719.8 241.8 745.9 242.9 771.9 243.6C800.9 244.5 829.8 245.0 858.8 244.9C887.7 244.9 916.7 244.4 945.6 243.6C971.7 242.8 997.7 241.7 1023.8 240.6C1041.1 239.9 1058.5 238.6 1075.9 238.6"/>
<path d="M629.1 239.5C646.6 239.6 664.0 240.8 681.5 241.5C707.6 242.6 733.8 243.7 759.9 244.5C789.0 245.4 818.1 246.0 847.1 246.0C876.2 246.1 905.3 245.7 934.3 245.0C960.5 244.3 986.6 243.3 1012.8 242.4C1030.2 241.7 1047.7 240.6 1065.1 240.6"/>
<path d="M649.0 239.7C666.3 239.8 683.6 241.0 700.9 241.7C726.9 242.8 752.8 243.9 778.8 244.7C807.6 245.6 836.5 246.1 865.3 246.1C894.1 246.2 923.0 245.8 951.8 245.0C977.7 244.3 1003.7 243.4 1029.6 242.4C1046.9 241.7 1064.2 240.6 1081.5 240.6"/>
<path d="M636.8 240.5C654.2 240.6 671.5 241.8 688.9 242.5C714.9 243.5 740.9 244.5 766.9 245.3C795.8 246.2 824.8 246.7 853.7 246.7C882.6 246.8 911.5 246.3 940.4 245.6C966.4 244.9 992.5 244.0 1018.5 243.0C1035.8 242.4 1053.2 241.2 1070.5 241.3"/>
<path d="M666.9 240.6C683.0 240.6 699.0 241.8 715.0 242.6C739.1 243.6 763.1 244.7 787.2 245.5C813.9 246.4 840.6 246.9 867.3 247.0C894.0 247.1 920.7 246.7 947.5 246.0C971.5 245.3 995.5 244.4 1019.6 243.5C1035.6 242.9 1051.6 241.8 1067.7 241.8"/>
<path d="M648.3 240.8C665.6 240.9 682.8 242.1 700.1 242.8C725.9 243.8 751.8 244.9 777.7 245.6C806.4 246.5 835.1 247.0 863.9 247.1C892.6 247.2 921.4 246.8 950.1 246.1C976.0 245.4 1001.8 244.5 1027.7 243.6C1044.9 242.9 1062.2 241.8 1079.4 241.9"/>
<path d="M625.9 241.1C643.8 241.2 661.7 242.4 679.5 243.1C706.4 244.1 733.2 245.2 760.0 245.9C789.8 246.8 819.6 247.3 849.4 247.4C879.2 247.5 909.0 247.1 938.8 246.4C965.7 245.8 992.5 244.9 1019.3 244.0C1037.2 243.4 1055.1 242.3 1073.0 242.4"/>
<path d="M624.5 241.8C642.7 241.8 660.9 243.0 679.1 243.6C706.4 244.7 733.7 245.7 761.0 246.4C791.3 247.2 821.6 247.7 851.9 247.8C882.3 247.9 912.6 247.5 942.9 246.8C970.2 246.2 997.5 245.3 1024.8 244.4C1043.0 243.8 1061.2 242.7 1079.4 242.8"/>
<path d="M643.4 241.8C660.2 241.9 677.0 243.1 693.9 243.8C719.1 244.9 744.4 245.9 769.6 246.7C797.7 247.6 825.7 248.2 853.8 248.4C881.8 248.5 909.9 248.2 938.0 247.6C963.2 247.1 988.5 246.3 1013.7 245.5C1030.5 245.0 1047.4 244.0 1064.2 244.1"/>
<path d="M645.2 242.2C662.6 242.4 680.1 243.6 697.5 244.3C723.6 245.5 749.7 246.6 775.9 247.5C804.9 248.4 833.9 249.1 863.0 249.4C892.0 249.6 921.0 249.5 950.1 249.1C976.2 248.7 1002.3 248.0 1028.5 247.4C1045.9 246.9 1063.3 246.0 1080.7 246.2"/>
<path d="M619.5 243.5C637.3 243.6 655.0 244.7 672.8 245.4C699.5 246.5 726.2 247.5 752.9 248.3C782.6 249.2 812.2 249.7 841.9 249.9C871.5 250.1 901.2 249.9 930.9 249.4C957.5 249.0 984.2 248.3 1010.9 247.6C1028.7 247.1 1046.5 246.2 1064.3 246.3"/>
<path d="M630.3 243.6C648.9 243.7 667.5 244.9 686.2 245.6C714.1 246.7 742.0 247.7 770.0 248.6C801.0 249.5 832.0 250.2 863.1 250.4C894.1 250.7 925.2 250.5 956.2 250.1C984.1 249.8 1012.1 249.2 1040.0 248.5C1058.6 248.1 1077.3 247.3 1095.9 247.5"/>
<path d="M635.3 243.6C651.6 243.8 668.0 244.9 684.3 245.6C708.8 246.7 733.3 247.8 757.8 248.6C785.1 249.6 812.3 250.2 839.5 250.5C866.8 250.8 894.0 250.6 921.2 250.2C945.7 249.9 970.2 249.3 994.7 248.7C1011.1 248.3 1027.4 247.5 1043.8 247.6"/>
<path d="M620.1 244.4C638.1 244.6 656.1 245.6 674.1 246.3C701.2 247.4 728.2 248.4 755.2 249.1C785.2 250.0 815.2 250.6 845.2 250.8C875.2 251.0 905.2 250.9 935.3 250.4C962.3 250.0 989.3 249.4 1016.3 248.8C1034.3 248.4 1052.3 247.5 1070.3 247.7"/>
<path d="M650.5 244.8C668.4 245.0 686.2 246.1 704.0 246.8C730.7 247.8 757.4 248.9 784.2 249.7C813.9 250.6 843.6 251.3 873.3 251.5C903.0 251.8 932.7 251.7 962.4 251.4C989.1 251.1 1015.8 250.5 1042.5 250.0C1060.4 249.6 1078.2 248.9 1096.0 249.0"/>
<path d="M650.1 245.8C667.7 245.9 685.4 246.9 703.0 247.6C729.4 248.6 755.8 249.5 782.2 250.3C811.6 251.1 840.9 251.7 870.3 251.9C899.6 252.2 929.0 252.0 958.4 251.6C984.8 251.3 1011.2 250.7 1037.6 250.1C1055.2 249.7 1072.8 248.9 1090.4 249.1"/>
<path d="M654.6 246.1C671.2 246.2 687.9 247.3 704.5 247.9C729.5 248.9 754.5 249.8 779.5 250.5C807.3 251.3 835.1 251.9 862.9 252.1C890.6 252.3 918.4 252.1 946.2 251.7C971.2 251.4 996.2 250.8 1021.2 250.2C1037.8 249.8 1054.5 249.0 1071.2 249.1"/>
<path d="M600.3 246.5C619.5 246.7 638.8 247.7 658.0 248.3C686.9 249.2 715.8 250.2 744.7 250.9C776.8 251.7 808.9 252.3 840.9 252.5C873.0 252.7 905.1 252.5 937.2 252.1C966.1 251.8 995.0 251.2 1023.9 250.6C1043.1 250.3 1062.4 249.5 1081.6 249.6"/>
<path d="M643.3 246.8C659.8 247.0 676.3 248.0 692.8 248.6C717.6 249.6 742.3 250.5 767.1 251.3C794.6 252.1 822.1 252.7 849.6 252.9C877.2 253.2 904.7 253.1 932.2 252.7C957.0 252.4 981.7 251.9 1006.5 251.4C1023.0 251.0 1039.5 250.3 1056.0 250.5"/>
<path d="M652.2 247.2C669.3 247.4 686.5 248.4 703.6 249.0C729.3 249.9 755.1 250.8 780.8 251.6C809.3 252.4 837.9 252.9 866.5 253.2C895.0 253.4 923.6 253.3 952.2 252.9C977.9 252.6 1003.6 252.1 1029.3 251.6C1046.5 251.3 1063.6 250.5 1080.8 250.7"/>
<path d="M656.3 247.7C673.0 247.9 689.7 248.9 706.3 249.5C731.4 250.5 756.4 251.5 781.5 252.3C809.3 253.2 837.1 253.9 864.9 254.2C892.7 254.6 920.6 254.6 948.4 254.4C973.4 254.2 998.4 253.9 1023.5 253.5C1040.2 253.3 1056.9 252.7 1073.6 252.9"/>
<path d="M653.3 247.9C670.2 248.2 687.1 249.2 704.0 249.9C729.3 250.9 754.6 251.9 780.0 252.7C808.1 253.6 836.2 254.3 864.4 254.7C892.5 255.1 920.7 255.2 948.8 255.0C974.1 254.9 999.5 254.6 1024.8 254.3C1041.7 254.1 1058.6 253.5 1075.4 253.8"/>
<path d="M646.9 248.5C663.4 248.7 679.9 249.7 696.4 250.4C721.2 251.4 746.0 252.4 770.8 253.2C798.3 254.0 825.8 254.7 853.4 255.1C880.9 255.5 908.4 255.6 935.9 255.4C960.7 255.3 985.5 255.0 1010.3 254.7C1026.8 254.5 1043.3 254.0 1059.8 254.2"/>
<path d="M647.0 248.5C664.6 248.8 682.2 249.8 699.7 250.4C726.1 251.4 752.4 252.4 778.7 253.3C808.0 254.2 837.3 254.9 866.5 255.3C895.8 255.7 925.1 255.8 954.3 255.8C980.7 255.7 1007.0 255.4 1033.4 255.2C1050.9 255.0 1068.5 254.5 1086.0 254.7"/>
<path d="M635.2 248.9C652.8 249.1 670.4 250.1 688.0 250.8C714.5 251.7 740.9 252.7 767.3 253.5C796.7 254.4 826.1 255.1 855.4 255.5C884.8 255.9 914.2 256.0 943.5 255.9C970.0 255.9 996.4 255.6 1022.8 255.3C1040.4 255.2 1058.1 254.7 1075.7 254.9"/>
<path d="M626.7 249.1C645.3 249.4 664.0 250.3 682.6 251.0C710.5 252.0 738.5 252.9 766.4 253.7C797.4 254.6 828.5 255.3 859.5 255.7C890.6 256.1 921.6 256.2 952.7 256.1C980.6 256.0 1008.5 255.8 1036.5 255.5C1055.1 255.3 1073.7 254.9 1092.4 255.1"/>
<path d="M647.9 249.3C663.6 249.5 679.3 250.5 695.0 251.2C718.5 252.2 742.1 253.2 765.6 254.1C791.7 255.0 817.9 255.8 844.0 256.2C870.2 256.7 896.3 256.9 922.5 256.9C946.0 256.9 969.5 256.7 993.1 256.6C1008.7 256.5 1024.4 256.0 1040.1 256.3"/>
<path d="M648.9 249.8C666.8 250.0 684.8 251.0 702.7 251.6C729.6 252.6 756.6 253.6 783.5 254.4C813.4 255.3 843.3 256.0 873.2 256.5C903.1 256.9 933.0 257.1 962.9 257.0C989.8 257.0 1016.8 256.8 1043.7 256.6C1061.6 256.5 1079.6 256.1 1097.5 256.4"/>
<path d="M657.3 250.5C673.6 250.7 689.9 251.6 706.2 252.2C730.6 253.2 755.1 254.1 779.5 254.9C806.7 255.7 833.9 256.4 861.1 256.8C888.2 257.2 915.4 257.3 942.6 257.2C967.0 257.2 991.5 257.0 1015.9 256.8C1032.2 256.6 1048.5 256.2 1064.8 256.4"/>
<path d="M658.8 250.5C676.5 250.8 694.3 251.7 712.0 252.4C738.7 253.4 765.3 254.4 791.9 255.2C821.5 256.1 851.1 256.9 880.7 257.4C910.3 257.9 939.9 258.1 969.5 258.2C996.1 258.2 1022.7 258.2 1049.4 258.1C1067.1 258.0 1084.9 257.6 1102.6 257.9"/>
<path d="M642.3 250.6C658.8 251.0 675.2 252.0 691.6 252.7C716.2 253.7 740.9 254.8 765.5 255.7C792.9 256.8 820.3 257.6 847.7 258.2C875.0 258.9 902.4 259.3 929.8 259.5C954.4 259.7 979.1 259.7 1003.7 259.8C1020.1 259.8 1036.6 259.6 1053.0 260.0"/>
<path d="M651.0 251.4C667.7 251.7 684.5 252.6 701.2 253.3C726.4 254.4 751.5 255.4 776.6 256.3C804.5 257.2 832.4 258.1 860.4 258.7C888.3 259.3 916.2 259.6 944.1 259.8C969.2 260.0 994.4 260.1 1019.5 260.1C1036.2 260.2 1053.0 259.9 1069.7 260.3"/>
<path d="M649.0 251.7C666.0 252.0 683.0 253.0 700.0 253.6C725.5 254.7 751.0 255.7 776.5 256.6C804.8 257.6 833.1 258.4 861.5 259.0C889.8 259.6 918.1 260.0 946.4 260.3C971.9 260.5 997.4 260.6 1022.9 260.7C1039.9 260.7 1056.9 260.5 1073.9 260.9"/>
<path d="M668.2 251.8C684.3 252.2 700.5 253.1 716.7 253.8C741.0 254.8 765.3 255.8 789.6 256.7C816.6 257.7 843.6 258.5 870.6 259.1C897.6 259.8 924.6 260.2 951.5 260.4C975.8 260.6 1000.1 260.7 1024.4 260.8C1040.6 260.8 1056.8 260.7 1073.0 261.0"/>
<path d="M665.5 252.5C681.9 252.8 698.3 253.7 714.7 254.3C739.2 255.3 763.8 256.3 788.4 257.2C815.7 258.1 843.0 258.9 870.3 259.5C897.6 260.1 924.9 260.4 952.2 260.7C976.8 260.9 1001.4 260.9 1026.0 261.0C1042.4 261.1 1058.8 260.9 1075.1 261.2"/>
<path d="M639.6 252.6C656.7 252.9 673.8 253.8 691.0 254.5C716.7 255.5 742.4 256.4 768.1 257.3C796.6 258.3 825.2 259.1 853.7 259.7C882.3 260.3 910.8 260.7 939.4 260.9C965.1 261.2 990.8 261.3 1016.5 261.4C1033.6 261.4 1050.8 261.3 1067.9 261.7"/>
<path d="M633.1 252.7C650.8 253.0 668.5 253.9 686.2 254.6C712.8 255.6 739.4 256.6 765.9 257.4C795.5 258.4 825.0 259.2 854.5 259.8C884.0 260.5 913.6 260.9 943.1 261.1C969.6 261.4 996.2 261.5 1022.8 261.6C1040.5 261.7 1058.2 261.6 1075.9 261.9"/>
<path d="M649.0 252.8C666.4 253.2 683.9 254.1 701.3 254.8C727.5 255.8 753.6 256.8 779.8 257.7C808.9 258.7 837.9 259.5 867.0 260.2C896.1 260.8 925.2 261.3 954.2 261.6C980.4 261.9 1006.6 262.1 1032.7 262.2C1050.2 262.3 1067.6 262.2 1085.0 262.6"/>
<path d="M646.6 252.9C663.6 253.3 680.5 254.2 697.5 254.9C722.9 255.9 748.3 256.9 773.7 257.8C802.0 258.7 830.2 259.6 858.5 260.2C886.7 260.9 914.9 261.3 943.2 261.6C968.6 261.9 994.0 262.1 1019.5 262.3C1036.4 262.4 1053.4 262.3 1070.3 262.7"/>
<path d="M633.8 253.0C651.6 253.4 669.4 254.3 687.2 254.9C714.0 256.0 740.7 257.0 767.4 257.9C797.1 258.9 826.8 259.8 856.5 260.5C886.2 261.1 915.9 261.6 945.6 262.0C972.3 262.3 999.1 262.5 1025.8 262.7C1043.6 262.8 1061.4 262.8 1079.3 263.2"/>
<path d="M650.0 254.1C667.8 254.5 685.6 255.3 703.4 255.9C730.2 256.9 756.9 257.9 783.6 258.7C813.3 259.7 843.0 260.5 872.8 261.1C902.5 261.8 932.2 262.3 961.9 262.6C988.6 262.9 1015.3 263.1 1042.1 263.3C1059.9 263.4 1077.7 263.4 1095.6 263.8"/>
<path d="M624.1 254.9C642.1 255.3 660.1 256.1 678.1 256.7C705.2 257.6 732.2 258.5 759.2 259.3C789.2 260.1 819.3 260.9 849.3 261.5C879.3 262.1 909.3 262.5 939.4 262.8C966.4 263.1 993.4 263.2 1020.4 263.4C1038.4 263.5 1056.4 263.4 1074.5 263.8"/>
<path d="M613.1 255.6C632.8 256.0 652.5 256.7 672.1 257.3C701.6 258.2 731.1 259.0 760.6 259.8C793.4 260.7 826.1 261.4 858.9 262.0C891.7 262.6 924.5 263.1 957.2 263.4C986.7 263.7 1016.2 263.9 1045.7 264.0C1065.4 264.2 1085.0 264.1 1104.7 264.5"/>
<path d="M643.2 255.9C660.3 256.3 677.3 257.0 694.4 257.6C720.1 258.4 745.7 259.3 771.3 260.1C799.8 260.9 828.3 261.7 856.8 262.2C885.3 262.8 913.7 263.2 942.2 263.6C967.9 263.8 993.5 264.0 1019.1 264.2C1036.2 264.3 1053.3 264.3 1070.4 264.7"/>
<path d="M645.4 256.8C663.3 257.1 681.3 257.8 699.2 258.4C726.1 259.2 752.9 260.1 779.8 260.8C809.7 261.6 839.5 262.4 869.4 263.0C899.3 263.5 929.1 264.0 959.0 264.3C985.9 264.6 1012.7 264.9 1039.6 265.1C1057.5 265.3 1075.4 265.2 1093.4 265.6"/>
<path d="M650.5 257.7C669.2 258.1 687.9 258.7 706.6 259.3C734.6 260.0 762.7 260.8 790.7 261.5C821.8 262.3 853.0 263.0 884.1 263.6C915.3 264.2 946.4 264.6 977.5 265.0C1005.6 265.3 1033.6 265.6 1061.6 265.8C1080.3 266.0 1099.0 266.0 1117.7 266.3"/>
<path d="M663.4 257.7C680.1 258.1 696.8 258.8 713.6 259.3C738.6 260.1 763.7 260.9 788.7 261.7C816.6 262.5 844.4 263.2 872.2 263.8C900.1 264.4 927.9 264.9 955.7 265.3C980.8 265.7 1005.9 266.0 1030.9 266.2C1047.6 266.4 1064.3 266.5 1081.0 266.8"/>
<path d="M643.3 258.5C660.2 258.9 677.1 259.5 693.9 260.0C719.2 260.8 744.5 261.6 769.8 262.4C797.9 263.2 826.0 263.9 854.2 264.5C882.3 265.1 910.4 265.6 938.5 266.1C963.8 266.5 989.1 266.8 1014.4 267.1C1031.2 267.3 1048.1 267.4 1065.0 267.8"/>
<path d="M641.5 259.2C659.5 259.6 677.5 260.2 695.5 260.7C722.5 261.4 749.6 262.2 776.6 262.9C806.6 263.7 836.6 264.4 866.7 265.0C896.7 265.6 926.7 266.1 956.7 266.5C983.8 266.9 1010.8 267.2 1037.8 267.6C1055.8 267.8 1073.8 267.9 1091.8 268.2"/>
<path d="M623.7 259.4C641.1 259.8 658.5 260.4 675.9 260.9C701.9 261.7 728.0 262.5 754.0 263.2C783.0 264.0 811.9 264.7 840.9 265.4C869.8 266.0 898.8 266.6 927.7 267.1C953.8 267.5 979.8 267.9 1005.9 268.3C1023.3 268.5 1040.6 268.7 1058.0 269.1"/>
<path d="M644.8 259.8C663.5 260.1 682.2 260.7 700.8 261.2C728.8 262.0 756.9 262.8 784.9 263.5C816.0 264.2 847.1 265.0 878.3 265.6C909.4 266.2 940.5 266.8 971.7 267.2C999.7 267.7 1027.7 268.0 1055.7 268.4C1074.4 268.7 1093.1 268.8 1111.7 269.2"/>
<path d="M629.8 260.0C647.7 260.4 665.7 260.9 683.6 261.4C710.5 262.2 737.3 262.9 764.2 263.6C794.1 264.4 824.0 265.1 853.8 265.7C883.7 266.3 913.5 266.9 943.4 267.3C970.3 267.8 997.2 268.1 1024.1 268.5C1042.0 268.8 1059.9 268.9 1077.8 269.3"/>
<path d="M648.9 260.0C666.2 260.4 683.5 261.0 700.8 261.5C726.7 262.3 752.7 263.0 778.6 263.7C807.4 264.5 836.2 265.3 865.1 265.9C893.9 266.6 922.7 267.1 951.5 267.6C977.5 268.1 1003.4 268.5 1029.4 268.9C1046.7 269.2 1063.9 269.4 1081.2 269.8"/>
<path d="M620.7 260.7C638.7 261.0 656.7 261.6 674.7 262.1C701.7 262.8 728.8 263.5 755.8 264.2C785.8 264.9 815.8 265.6 845.8 266.2C875.8 266.8 905.9 267.3 935.9 267.8C962.9 268.2 989.9 268.6 1016.9 269.0C1034.9 269.3 1052.9 269.4 1070.9 269.8"/>
<path d="M629.9 261.3C647.9 261.7 665.8 262.2 683.8 262.6C710.8 263.3 737.8 263.9 764.8 264.6C794.8 265.3 824.8 265.9 854.7 266.5C884.7 267.0 914.7 267.5 944.7 268.0C971.7 268.4 998.7 268.8 1025.6 269.1C1043.6 269.4 1061.6 269.5 1079.6 269.9"/>
<path d="M632.2 261.4C650.5 261.8 668.8 262.3 687.1 262.7C714.6 263.4 742.0 264.0 769.5 264.6C800.0 265.3 830.6 265.9 861.1 266.5C891.6 267.1 922.1 267.6 952.6 268.0C980.1 268.4 1007.6 268.8 1035.1 269.1C1053.4 269.4 1071.7 269.5 1090.0 269.9"/>
<path d="M644.8 261.8C662.0 262.1 679.2 262.6 696.4 263.1C722.2 263.7 748.0 264.3 773.8 264.9C802.5 265.6 831.2 266.2 859.9 266.7C888.6 267.3 917.3 267.8 945.9 268.2C971.8 268.6 997.6 269.0 1023.4 269.3C1040.6 269.6 1057.8 269.7 1075.0 270.1"/>
<path d="M613.7 262.6C632.0 263.0 650.3 263.4 668.7 263.8C696.1 264.5 723.6 265.1 751.1 265.7C781.7 266.3 812.2 266.9 842.7 267.5C873.3 268.1 903.8 268.6 934.4 269.1C961.8 269.5 989.3 269.9 1016.8 270.3C1035.1 270.6 1053.5 270.8 1071.8 271.1"/>
<path d="M635.4 262.6C653.1 263.0 670.8 263.5 688.5 263.9C715.0 264.5 741.6 265.1 768.1 265.7C797.6 266.4 827.1 267.1 856.6 267.6C886.1 268.2 915.5 268.8 945.0 269.3C971.6 269.8 998.1 270.2 1024.6 270.6C1042.3 270.9 1060.0 271.1 1077.7 271.5"/>
<path d="M649.6 262.9C666.3 263.2 683.1 263.7 699.9 264.1C725.1 264.7 750.2 265.4 775.4 266.0C803.4 266.6 831.4 267.3 859.3 267.8C887.3 268.4 915.3 269.0 943.2 269.5C968.4 269.9 993.6 270.4 1018.7 270.8C1035.5 271.1 1052.3 271.4 1069.1 271.7"/>
<path d="M646.8 263.2C664.1 263.6 681.4 264.0 698.8 264.5C724.8 265.1 750.8 265.7 776.8 266.3C805.7 266.9 834.6 267.6 863.5 268.2C892.4 268.8 921.3 269.3 950.2 269.9C976.2 270.4 1002.2 270.8 1028.2 271.3C1045.5 271.6 1062.9 271.8 1080.2 272.2"/>
<path d="M645.2 263.5C663.3 263.8 681.5 264.3 699.7 264.7C726.9 265.3 754.2 265.9 781.4 266.6C811.7 267.2 842.0 267.9 872.3 268.5C902.6 269.1 932.8 269.7 963.1 270.3C990.4 270.8 1017.6 271.3 1044.9 271.8C1063.0 272.1 1081.2 272.4 1099.4 272.8"/>
<path d="M619.3 264.1C637.7 264.4 656.1 264.8 674.4 265.2C702.0 265.8 729.5 266.4 757.1 266.9C787.7 267.6 818.3 268.2 848.9 268.8C879.5 269.3 910.1 269.9 940.7 270.4C968.2 270.9 995.8 271.4 1023.3 271.9C1041.7 272.2 1060.1 272.5 1078.4 272.8"/>
<path d="M619.3 264.8C637.1 265.1 654.8 265.5 672.5 265.9C699.1 266.4 725.7 267.0 752.3 267.5C781.8 268.1 811.3 268.7 840.9 269.3C870.4 269.8 900.0 270.4 929.5 270.9C956.1 271.4 982.7 271.9 1009.3 272.4C1027.0 272.7 1044.7 273.0 1062.4 273.4"/>
<path d="M649.6 265.0C665.7 265.3 681.9 265.7 698.0 266.1C722.2 266.6 746.4 267.1 770.6 267.7C797.5 268.2 824.4 268.8 851.3 269.4C878.2 269.9 905.1 270.5 932.0 271.0C956.2 271.5 980.4 272.0 1004.6 272.5C1020.8 272.8 1036.9 273.1 1053.1 273.4"/>
<path d="M621.5 266.1C639.8 266.4 658.0 266.7 676.2 267.0C703.6 267.5 730.9 267.9 758.3 268.4C788.7 268.9 819.1 269.4 849.5 269.9C879.9 270.4 910.3 270.9 940.7 271.4C968.0 271.9 995.4 272.3 1022.7 272.8C1041.0 273.1 1059.2 273.4 1077.5 273.7"/>
<path d="M624.5 266.1C643.4 266.4 662.2 266.7 681.1 267.0C709.4 267.5 737.8 268.0 766.1 268.5C797.5 269.0 829.0 269.5 860.5 270.0C891.9 270.6 923.4 271.1 954.9 271.6C983.2 272.1 1011.5 272.6 1039.8 273.0C1058.7 273.4 1077.6 273.7 1096.4 274.0"/>
<path d="M672.7 266.2C689.1 266.6 705.4 266.9 721.7 267.2C746.2 267.7 770.7 268.2 795.2 268.7C822.4 269.3 849.6 269.9 876.8 270.5C904.0 271.0 931.2 271.6 958.5 272.2C983.0 272.8 1007.4 273.3 1031.9 273.9C1048.3 274.2 1064.6 274.6 1080.9 274.9"/>
<path d="M628.6 267.1C646.1 267.4 663.5 267.7 681.0 268.0C707.2 268.5 733.3 268.9 759.5 269.4C788.6 269.9 817.7 270.5 846.8 271.0C875.9 271.6 905.0 272.2 934.1 272.8C960.2 273.3 986.4 273.9 1012.6 274.4C1030.0 274.8 1047.5 275.2 1064.9 275.5"/>
<path d="M626.9 267.7C643.3 268.1 659.7 268.3 676.1 268.6C700.7 269.1 725.2 269.5 749.8 270.0C777.1 270.5 804.4 271.0 831.8 271.6C859.1 272.2 886.4 272.8 913.7 273.4C938.3 274.0 962.8 274.6 987.4 275.2C1003.8 275.6 1020.2 276.0 1036.6 276.3"/>
<path d="M619.6 267.8C638.2 268.2 656.7 268.5 675.3 268.8C703.1 269.2 731.0 269.7 758.8 270.2C789.8 270.7 820.7 271.3 851.7 271.9C882.6 272.5 913.6 273.1 944.5 273.8C972.4 274.4 1000.2 275.1 1028.1 275.7C1046.6 276.1 1065.2 276.6 1083.8 276.9"/>
<path d="M652.4 268.7C669.9 269.1 687.3 269.3 704.8 269.6C731.0 270.0 757.2 270.4 783.4 270.9C812.5 271.4 841.6 271.9 870.7 272.5C899.8 273.1 928.9 273.7 958.0 274.4C984.2 275.0 1010.4 275.7 1036.6 276.3C1054.1 276.8 1071.6 277.2 1089.0 277.6"/>
<path d="M619.6 269.8C637.1 270.1 654.5 270.2 671.9 270.5C698.1 270.8 724.3 271.1 750.4 271.5C779.5 271.9 808.6 272.4 837.6 272.9C866.7 273.4 895.8 274.0 924.8 274.7C951.0 275.2 977.1 275.8 1003.3 276.4C1020.7 276.8 1038.2 277.3 1055.6 277.6"/>
<path d="M645.3 270.5C662.4 270.8 679.4 270.9 696.4 271.1C721.9 271.4 747.4 271.7 773.0 272.1C801.3 272.5 829.7 272.9 858.0 273.5C886.4 274.0 914.8 274.6 943.1 275.2C968.7 275.8 994.2 276.4 1019.7 277.1C1036.7 277.5 1053.7 278.0 1070.8 278.3"/>
<path d="M661.7 270.8C678.8 271.1 695.9 271.2 713.0 271.4C738.6 271.7 764.2 272.0 789.9 272.3C818.4 272.7 846.8 273.2 875.3 273.7C903.8 274.2 932.3 274.8 960.8 275.5C986.4 276.0 1012.1 276.7 1037.7 277.3C1054.8 277.7 1071.9 278.2 1089.0 278.6"/>
<path d="M644.5 270.9C661.3 271.2 678.0 271.3 694.8 271.5C720.0 271.8 745.1 272.1 770.3 272.4C798.2 272.8 826.2 273.2 854.1 273.7C882.1 274.2 910.0 274.8 938.0 275.5C963.2 276.1 988.3 276.7 1013.5 277.3C1030.2 277.8 1047.0 278.3 1063.8 278.6"/>
<path d="M630.7 271.7C648.7 272.0 666.7 272.1 684.8 272.2C711.8 272.5 738.8 272.7 765.9 273.0C795.9 273.3 825.9 273.7 856.0 274.2C886.0 274.7 916.1 275.2 946.1 275.8C973.1 276.4 1000.2 277.0 1027.2 277.6C1045.2 278.0 1063.3 278.6 1081.3 278.8"/>
<path d="M671.4 271.9C687.2 272.3 702.9 272.4 718.7 272.6C742.4 272.9 766.1 273.2 789.8 273.6C816.2 274.0 842.5 274.5 868.8 275.2C895.1 275.8 921.5 276.5 947.8 277.3C971.5 278.0 995.2 278.8 1018.9 279.6C1034.7 280.2 1050.5 280.8 1066.3 281.2"/>
<path d="M668.1 272.3C684.9 272.7 701.8 272.8 718.6 273.1C743.9 273.4 769.1 273.8 794.4 274.2C822.4 274.7 850.5 275.3 878.6 276.0C906.6 276.7 934.7 277.6 962.8 278.5C988.0 279.3 1013.3 280.3 1038.6 281.2C1055.4 281.8 1072.3 282.5 1089.1 283.0"/>
<path d="M648.0 272.4C666.0 272.8 684.1 272.9 702.1 273.1C729.2 273.5 756.3 273.9 783.4 274.3C813.5 274.8 843.6 275.4 873.7 276.1C903.8 276.8 933.9 277.7 964.0 278.6C991.1 279.4 1018.2 280.3 1045.2 281.3C1063.3 281.9 1081.4 282.6 1099.4 283.1"/>
<path d="M657.5 272.8C673.6 273.2 689.6 273.3 705.7 273.5C729.8 273.9 753.9 274.2 777.9 274.6C804.7 275.1 831.5 275.7 858.2 276.4C885.0 277.1 911.8 277.9 938.6 278.8C962.6 279.7 986.7 280.6 1010.8 281.5C1026.9 282.1 1042.9 282.9 1059.0 283.3"/>
<path d="M673.6 273.1C689.7 273.6 705.7 273.6 721.8 273.9C745.9 274.2 770.0 274.6 794.1 275.0C820.8 275.5 847.6 276.1 874.4 276.8C901.1 277.5 927.9 278.4 954.7 279.4C978.8 280.3 1002.9 281.2 1027.0 282.2C1043.0 282.8 1059.1 283.6 1075.1 284.1"/>
<path d="M656.5 274.3C673.1 274.7 689.7 274.7 706.4 274.9C731.3 275.2 756.2 275.4 781.1 275.8C808.8 276.2 836.5 276.7 864.2 277.3C891.8 278.0 919.5 278.8 947.2 279.7C972.1 280.6 997.0 281.5 1022.0 282.4C1038.6 283.0 1055.2 283.8 1071.8 284.2"/>
<path d="M642.3 276.7C659.8 277.0 677.2 276.9 694.7 277.0C720.9 277.1 747.2 277.2 773.4 277.4C802.5 277.7 831.7 278.0 860.8 278.6C890.0 279.1 919.1 279.9 948.2 280.7C974.5 281.5 1000.7 282.4 1026.9 283.3C1044.4 283.9 1061.9 284.7 1079.4 285.0"/>
<path d="M647.4 276.8C665.0 277.1 682.5 277.0 700.1 277.1C726.4 277.2 752.7 277.3 779.0 277.5C808.3 277.7 837.5 278.1 866.7 278.7C896.0 279.2 925.2 280.0 954.4 280.8C980.8 281.6 1007.1 282.5 1033.4 283.4C1050.9 284.0 1068.5 284.8 1086.0 285.1"/>
<path d="M646.7 277.1C665.0 277.4 683.3 277.3 701.6 277.3C729.0 277.4 756.5 277.5 783.9 277.7C814.4 277.9 844.9 278.3 875.4 278.8C905.9 279.4 936.3 280.1 966.8 280.9C994.3 281.7 1021.7 282.6 1049.1 283.5C1067.4 284.1 1085.7 284.9 1104.0 285.2"/>
<path d="M654.1 277.2C671.3 277.5 688.5 277.4 705.7 277.4C731.4 277.5 757.2 277.6 783.0 277.8C811.6 278.0 840.2 278.3 868.9 278.9C897.5 279.4 926.1 280.1 954.8 281.0C980.6 281.8 1006.3 282.7 1032.1 283.6C1049.3 284.2 1066.5 284.9 1083.6 285.3"/>
<path d="M678.6 277.3C693.9 277.6 709.2 277.4 724.6 277.5C747.6 277.6 770.6 277.7 793.5 277.9C819.1 278.1 844.6 278.4 870.2 279.0C895.7 279.5 921.3 280.3 946.8 281.1C969.8 281.9 992.8 282.8 1015.8 283.7C1031.1 284.3 1046.4 285.1 1061.7 285.5"/>
<path d="M654.5 279.4C670.9 279.7 687.4 279.4 703.9 279.3C728.6 279.3 753.3 279.2 778.0 279.2C805.4 279.3 832.9 279.5 860.3 280.0C887.8 280.4 915.2 281.0 942.7 281.8C967.4 282.5 992.1 283.4 1016.8 284.2C1033.2 284.8 1049.7 285.6 1066.2 285.8"/>
<path d="M647.7 280.0C663.9 280.2 680.2 279.9 696.5 279.9C720.9 279.7 745.3 279.7 769.7 279.7C796.8 279.7 824.0 279.9 851.1 280.3C878.2 280.8 905.3 281.4 932.4 282.2C956.8 282.9 981.2 283.7 1005.7 284.6C1021.9 285.1 1038.2 285.9 1054.5 286.2"/>
<path d="M623.0 280.4C641.2 280.7 659.4 280.3 677.6 280.2C704.9 280.1 732.2 280.0 759.5 280.0C789.8 280.0 820.1 280.2 850.4 280.6C880.7 281.0 911.0 281.6 941.4 282.4C968.6 283.1 995.9 284.0 1023.2 284.8C1041.4 285.4 1059.6 286.2 1077.8 286.4"/>
<path d="M630.8 281.4C648.8 281.6 666.8 281.2 684.7 281.1C711.7 280.9 738.7 280.8 765.7 280.7C795.7 280.7 825.6 280.8 855.6 281.2C885.6 281.6 915.6 282.2 945.5 283.0C972.5 283.7 999.5 284.5 1026.5 285.4C1044.5 285.9 1062.5 286.8 1080.4 287.0"/>
<path d="M616.0 281.4C635.2 281.7 654.4 281.3 673.6 281.2C702.4 281.0 731.1 280.8 759.9 280.8C791.9 280.8 823.9 280.9 855.9 281.3C887.9 281.7 919.9 282.3 951.8 283.1C980.6 283.9 1009.4 284.7 1038.2 285.6C1057.4 286.2 1076.6 287.0 1095.8 287.2"/>
<path d="M650.9 281.5C667.6 281.7 684.4 281.4 701.1 281.3C726.2 281.1 751.3 281.0 776.4 281.0C804.3 281.0 832.1 281.2 860.0 281.6C887.9 282.0 915.8 282.7 943.7 283.5C968.8 284.3 993.9 285.2 1019.0 286.1C1035.7 286.7 1052.4 287.6 1069.2 287.9"/>
<path d="M654.7 281.8C671.7 282.1 688.8 281.7 705.9 281.6C731.5 281.4 757.1 281.3 782.6 281.2C811.1 281.2 839.5 281.4 868.0 281.8C896.4 282.2 924.9 282.9 953.3 283.7C978.9 284.5 1004.5 285.4 1030.1 286.3C1047.2 286.9 1064.2 287.8 1081.3 288.0"/>
<path d="M652.8 283.4C669.8 283.6 686.8 283.1 703.8 283.0C729.3 282.7 754.9 282.4 780.4 282.4C808.7 282.2 837.1 282.3 865.4 282.7C893.8 283.1 922.1 283.7 950.5 284.5C976.0 285.2 1001.5 286.1 1027.0 287.1C1044.0 287.7 1061.0 288.6 1078.1 288.8"/>
<path d="M655.0 283.6C671.5 283.8 688.0 283.4 704.5 283.2C729.2 282.9 754.0 282.7 778.7 282.6C806.2 282.5 833.7 282.6 861.2 282.9C888.6 283.3 916.1 283.9 943.6 284.8C968.3 285.5 993.1 286.4 1017.8 287.4C1034.3 288.0 1050.8 288.9 1067.3 289.1"/>
<path d="M635.5 284.1C653.3 284.3 671.1 283.8 688.9 283.6C715.6 283.3 742.2 283.0 768.9 282.9C798.6 282.7 828.3 282.8 857.9 283.1C887.6 283.5 917.3 284.1 946.9 284.9C973.6 285.6 1000.3 286.5 1027.0 287.4C1044.8 288.1 1062.6 289.0 1080.4 289.2"/>
<path d="M628.9 284.3C646.0 284.5 663.2 284.0 680.3 283.8C706.0 283.4 731.7 283.2 757.4 283.0C786.0 282.9 814.5 283.0 843.1 283.3C871.7 283.6 900.2 284.3 928.8 285.1C954.5 285.8 980.2 286.7 1005.9 287.7C1023.1 288.3 1040.2 289.2 1057.3 289.4"/>
<path d="M628.1 284.3C646.1 284.5 664.1 284.0 682.2 283.8C709.2 283.5 736.2 283.2 763.2 283.1C793.3 283.0 823.3 283.0 853.3 283.4C883.4 283.7 913.4 284.4 943.4 285.2C970.4 286.0 997.5 286.9 1024.5 287.8C1042.5 288.5 1060.5 289.4 1078.5 289.6"/>
<path d="M659.7 284.3C677.6 284.5 695.6 284.0 713.5 283.8C740.5 283.5 767.4 283.3 794.4 283.1C824.3 283.0 854.2 283.1 884.2 283.5C914.1 283.8 944.0 284.5 974.0 285.3C1000.9 286.1 1027.8 287.0 1054.8 288.0C1072.7 288.6 1090.7 289.5 1108.7 289.7"/>
<path d="M635.1 284.9C652.9 285.1 670.7 284.6 688.4 284.3C715.1 284.0 741.8 283.7 768.5 283.5C798.1 283.4 827.7 283.4 857.4 283.7C887.0 284.1 916.6 284.7 946.3 285.5C972.9 286.3 999.6 287.2 1026.3 288.1C1044.1 288.8 1061.8 289.7 1079.6 289.9"/>
<path d="M649.2 285.3C666.4 285.5 683.5 284.9 700.6 284.7C726.3 284.3 752.0 284.0 777.7 283.8C806.3 283.6 834.9 283.7 863.4 284.0C892.0 284.3 920.5 284.9 949.1 285.8C974.8 286.5 1000.5 287.5 1026.2 288.4C1043.3 289.0 1060.5 290.0 1077.6 290.2"/>
<path d="M656.2 285.9C673.9 286.1 691.6 285.5 709.3 285.3C735.8 284.9 762.3 284.6 788.9 284.4C818.3 284.2 847.8 284.3 877.3 284.6C906.7 285.0 936.2 285.6 965.7 286.5C992.2 287.3 1018.7 288.3 1045.3 289.2C1062.9 289.9 1080.6 290.9 1098.3 291.1"/>
<path d="M629.1 286.2C646.7 286.4 664.3 285.8 681.8 285.6C708.2 285.2 734.5 284.8 760.9 284.7C790.2 284.5 819.5 284.5 848.8 284.8C878.0 285.2 907.3 285.8 936.6 286.7C963.0 287.5 989.3 288.5 1015.7 289.5C1033.3 290.1 1050.8 291.1 1068.4 291.3"/>
<path d="M653.8 287.5C670.8 287.6 687.9 287.0 705.0 286.7C730.6 286.2 756.2 285.7 781.8 285.4C810.2 285.1 838.7 285.1 867.1 285.3C895.6 285.6 924.0 286.2 952.4 287.0C978.0 287.7 1003.6 288.7 1029.2 289.6C1046.3 290.2 1063.4 291.2 1080.4 291.4"/>
<path d="M645.0 287.6C662.4 287.8 679.9 287.1 697.3 286.8C723.4 286.3 749.5 285.8 775.6 285.5C804.6 285.2 833.7 285.2 862.7 285.4C891.7 285.7 920.7 286.2 949.7 287.0C975.8 287.8 1002.0 288.7 1028.1 289.6C1045.5 290.3 1062.9 291.2 1080.3 291.4"/>
<path d="M632.1 288.5C648.9 288.6 665.8 287.9 682.6 287.5C707.8 287.0 733.0 286.4 758.2 286.1C786.2 285.7 814.3 285.6 842.3 285.8C870.3 286.0 898.3 286.5 926.3 287.2C951.6 287.9 976.8 288.8 1002.0 289.7C1018.8 290.3 1035.6 291.3 1052.4 291.4"/>
<path d="M649.7 289.7C666.5 289.8 683.4 289.0 700.3 288.6C725.7 287.9 751.0 287.3 776.4 286.9C804.5 286.4 832.7 286.2 860.9 286.3C889.0 286.4 917.2 286.9 945.3 287.6C970.7 288.2 996.0 289.1 1021.4 290.0C1038.3 290.5 1055.2 291.5 1072.1 291.5"/>
<path d="M661.1 290.0C677.3 290.0 693.5 289.2 709.6 288.8C733.9 288.1 758.1 287.5 782.4 287.1C809.3 286.6 836.3 286.3 863.2 286.5C890.2 286.6 917.1 287.0 944.1 287.7C968.3 288.4 992.6 289.2 1016.8 290.1C1033.0 290.7 1049.2 291.6 1065.3 291.7"/>
<path d="M637.3 290.0C654.1 290.1 670.9 289.3 687.7 288.9C712.8 288.3 738.0 287.6 763.2 287.2C791.2 286.7 819.1 286.5 847.1 286.7C875.0 286.8 903.0 287.3 931.0 288.1C956.2 288.7 981.3 289.6 1006.5 290.5C1023.3 291.1 1040.0 292.1 1056.8 292.2"/>
<path d="M620.5 290.4C638.4 290.5 656.3 289.7 674.2 289.2C701.0 288.6 727.9 288.0 754.7 287.5C784.6 287.1 814.4 286.9 844.3 287.0C874.1 287.2 903.9 287.7 933.8 288.5C960.6 289.2 987.5 290.1 1014.3 291.0C1032.2 291.7 1050.1 292.7 1068.0 292.8"/>
<path d="M643.1 291.2C659.6 291.3 676.1 290.4 692.6 290.0C717.3 289.3 742.0 288.6 766.7 288.2C794.2 287.7 821.6 287.5 849.1 287.7C876.5 287.8 904.0 288.4 931.4 289.2C956.2 289.9 980.9 290.8 1005.6 291.8C1022.1 292.4 1038.5 293.5 1055.0 293.6"/>
<path d="M630.6 292.5C648.0 292.5 665.4 291.6 682.8 291.1C708.8 290.3 734.9 289.6 761.0 289.0C789.9 288.5 818.9 288.1 847.9 288.2C876.8 288.3 905.8 288.8 934.8 289.5C960.8 290.2 986.9 291.1 1013.0 292.0C1030.3 292.6 1047.7 293.6 1065.1 293.7"/>
<path d="M640.1 293.6C657.8 293.6 675.5 292.6 693.2 292.1C719.7 291.3 746.3 290.5 772.8 289.9C802.3 289.3 831.8 289.0 861.3 289.1C890.8 289.1 920.3 289.6 949.8 290.4C976.3 291.1 1002.8 292.0 1029.4 292.9C1047.1 293.6 1064.8 294.6 1082.5 294.7"/>
<path d="M626.8 294.6C644.1 294.6 661.4 293.6 678.7 293.1C704.6 292.3 730.6 291.5 756.5 291.0C785.3 290.4 814.2 290.1 843.0 290.2C871.8 290.3 900.6 290.9 929.5 291.8C955.4 292.6 981.3 293.6 1007.3 294.6C1024.6 295.3 1041.9 296.5 1059.2 296.6"/>
<path d="M643.9 295.3C660.5 295.4 677.1 294.3 693.8 293.7C718.7 292.9 743.6 292.0 768.5 291.4C796.2 290.8 824.0 290.4 851.7 290.5C879.4 290.6 907.1 291.1 934.8 291.9C959.7 292.7 984.6 293.7 1009.6 294.7C1026.2 295.4 1042.8 296.5 1059.4 296.6"/>
<path d="M655.9 296.4C673.4 296.4 690.8 295.3 708.2 294.7C734.4 293.8 760.5 292.9 786.7 292.3C815.7 291.6 844.7 291.2 873.8 291.3C902.8 291.4 931.9 291.9 960.9 292.8C987.1 293.5 1013.2 294.6 1039.4 295.6C1056.8 296.3 1074.2 297.5 1091.6 297.6"/>
<path d="M637.8 296.7C655.0 296.8 672.2 295.7 689.5 295.0C715.4 294.1 741.2 293.2 767.1 292.6C795.8 291.8 824.6 291.5 853.3 291.5C882.1 291.6 910.8 292.1 939.5 293.0C965.4 293.7 991.3 294.8 1017.2 295.8C1034.4 296.5 1051.6 297.7 1068.9 297.8"/>
<path d="M623.7 296.8C642.1 296.8 660.6 295.7 679.1 295.1C706.7 294.2 734.4 293.3 762.1 292.6C792.9 291.9 823.6 291.5 854.4 291.6C885.2 291.7 915.9 292.2 946.7 293.1C974.4 293.8 1002.1 294.9 1029.8 296.0C1048.2 296.7 1066.7 297.9 1085.2 297.9"/>
<path d="M647.2 297.2C664.4 297.2 681.6 296.1 698.8 295.4C724.6 294.5 750.4 293.5 776.2 292.9C804.8 292.1 833.5 291.7 862.1 291.8C890.8 291.8 919.4 292.4 948.1 293.2C973.9 294.0 999.7 295.0 1025.5 296.0C1042.7 296.7 1059.8 297.9 1077.0 298.0"/>
<path d="M639.9 297.4C657.4 297.4 674.9 296.3 692.4 295.6C718.6 294.7 744.9 293.8 771.1 293.1C800.3 292.4 829.4 292.0 858.6 292.1C887.7 292.2 916.9 292.7 946.1 293.6C972.3 294.4 998.5 295.5 1024.8 296.6C1042.3 297.3 1059.8 298.5 1077.3 298.6"/>
<path d="M643.8 298.4C660.4 298.4 677.1 297.2 693.7 296.5C718.7 295.5 743.6 294.6 768.6 293.9C796.3 293.1 824.1 292.6 851.8 292.7C879.5 292.7 907.3 293.3 935.0 294.1C960.0 294.9 984.9 296.0 1009.9 297.1C1026.5 297.8 1043.2 299.1 1059.8 299.1"/>
<path d="M637.2 298.4C655.0 298.5 672.8 297.4 690.7 296.7C717.4 295.8 744.1 294.8 770.8 294.2C800.5 293.5 830.2 293.1 859.9 293.3C889.6 293.4 919.3 294.0 949.0 295.0C975.7 295.9 1002.5 297.1 1029.2 298.2C1047.0 299.0 1064.8 300.4 1082.6 300.4"/>
<path d="M649.0 298.9C665.3 299.0 681.5 297.8 697.8 297.2C722.2 296.3 746.6 295.3 771.0 294.7C798.1 294.0 825.2 293.6 852.3 293.8C879.4 293.9 906.5 294.6 933.6 295.6C958.0 296.5 982.3 297.7 1006.7 299.0C1023.0 299.8 1039.3 301.2 1055.5 301.3"/>
<path d="M652.5 299.1C670.0 299.2 687.6 298.0 705.1 297.4C731.4 296.4 757.6 295.5 783.9 294.8C813.1 294.1 842.3 293.8 871.5 293.9C900.7 294.0 929.9 294.7 959.1 295.7C985.4 296.6 1011.7 297.8 1038.0 299.1C1055.5 299.9 1073.0 301.3 1090.5 301.4"/>
<path d="M667.3 299.6C683.7 299.7 700.1 298.4 716.5 297.8C741.1 296.8 765.7 295.8 790.3 295.2C817.6 294.4 845.0 294.1 872.3 294.2C899.6 294.4 926.9 295.0 954.3 296.1C978.9 297.0 1003.5 298.2 1028.1 299.5C1044.4 300.3 1060.8 301.7 1077.2 301.8"/>
<path d="M620.0 300.0C638.3 300.1 656.5 298.8 674.7 298.2C702.0 297.2 729.4 296.2 756.7 295.5C787.1 294.8 817.5 294.4 847.8 294.5C878.2 294.7 908.6 295.3 939.0 296.4C966.3 297.3 993.6 298.5 1021.0 299.8C1039.2 300.6 1057.4 302.0 1075.7 302.1"/>
<path d="M621.6 300.7C639.6 300.8 657.6 299.5 675.6 298.8C702.6 297.8 729.7 296.7 756.7 296.0C786.7 295.2 816.7 294.8 846.7 294.9C876.8 295.1 906.8 295.7 936.8 296.7C963.8 297.7 990.9 298.9 1017.9 300.2C1035.9 301.0 1053.9 302.4 1071.9 302.5"/>
<path d="M632.0 300.9C649.8 301.0 667.6 299.7 685.5 299.0C712.2 298.0 738.9 297.0 765.6 296.3C795.3 295.5 825.0 295.1 854.7 295.3C884.4 295.4 914.1 296.1 943.8 297.2C970.5 298.1 997.2 299.4 1024.0 300.7C1041.8 301.6 1059.6 303.0 1077.4 303.1"/>
<path d="M634.8 301.2C652.2 301.3 669.7 300.0 687.1 299.3C713.3 298.3 739.4 297.3 765.6 296.6C794.6 295.8 823.7 295.4 852.8 295.6C881.8 295.7 910.9 296.4 940.0 297.5C966.1 298.5 992.3 299.8 1018.4 301.1C1035.9 302.0 1053.3 303.4 1070.8 303.5"/>
<path d="M646.0 302.3C663.2 302.4 680.5 301.0 697.7 300.3C723.6 299.2 749.5 298.1 775.4 297.4C804.2 296.5 832.9 296.1 861.7 296.2C890.5 296.3 919.2 297.0 948.0 298.1C973.9 299.0 999.8 300.3 1025.7 301.6C1042.9 302.5 1060.2 304.0 1077.4 304.0"/>
<path d="M647.3 303.5C665.4 303.5 683.5 302.1 701.6 301.4C728.7 300.2 755.9 299.1 783.0 298.3C813.2 297.4 843.4 296.9 873.5 297.0C903.7 297.1 933.9 297.8 964.0 298.9C991.2 299.8 1018.3 301.1 1045.5 302.5C1063.6 303.4 1081.7 304.9 1099.8 304.9"/>
<path d="M630.8 303.6C648.6 303.7 666.4 302.3 684.1 301.5C710.8 300.3 737.4 299.2 764.1 298.4C793.7 297.5 823.3 297.0 853.0 297.1C882.6 297.2 912.2 297.9 941.8 299.0C968.5 299.9 995.2 301.3 1021.8 302.6C1039.6 303.5 1057.4 305.0 1075.1 305.0"/>
<path d="M656.4 303.9C673.9 303.9 691.4 302.5 708.9 301.8C735.1 300.6 761.3 299.4 787.6 298.6C816.7 297.7 845.8 297.2 875.0 297.3C904.1 297.4 933.3 298.0 962.4 299.1C988.6 300.1 1014.9 301.4 1041.1 302.7C1058.6 303.6 1076.1 305.1 1093.6 305.2"/>
<path d="M635.6 304.3C653.0 304.4 670.4 302.9 687.7 302.2C713.8 301.0 739.9 299.8 766.0 299.0C795.0 298.1 824.0 297.7 853.0 297.8C882.0 297.9 910.9 298.6 939.9 299.8C966.0 300.8 992.1 302.1 1018.2 303.5C1035.6 304.5 1053.0 306.0 1070.4 306.1"/>
<path d="M638.1 304.5C656.3 304.6 674.6 303.1 692.9 302.4C720.3 301.2 747.7 300.1 775.1 299.3C805.5 298.4 836.0 297.9 866.4 298.1C896.9 298.2 927.3 299.0 957.8 300.1C985.2 301.2 1012.6 302.6 1040.0 304.0C1058.3 304.9 1076.5 306.5 1094.8 306.6"/>
<path d="M634.6 304.9C652.1 305.0 669.6 303.5 687.1 302.7C713.3 301.6 739.5 300.4 765.8 299.6C794.9 298.7 824.0 298.3 853.2 298.4C882.3 298.6 911.4 299.3 940.6 300.5C966.8 301.6 993.0 303.0 1019.3 304.4C1036.7 305.4 1054.2 307.0 1071.7 307.1"/>
<path d="M620.6 305.1C638.7 305.2 656.8 303.7 674.9 303.0C702.0 301.8 729.1 300.6 756.3 299.8C786.4 298.9 816.6 298.5 846.7 298.6C876.9 298.8 907.0 299.5 937.2 300.7C964.3 301.8 991.5 303.2 1018.6 304.7C1036.7 305.6 1054.8 307.2 1072.9 307.3"/>
<path d="M654.3 305.1C670.1 305.2 685.9 303.8 701.7 303.0C725.4 301.8 749.1 300.7 772.7 299.9C799.1 299.0 825.4 298.5 851.7 298.7C878.0 298.8 904.4 299.6 930.7 300.8C954.4 301.9 978.1 303.3 1001.8 304.8C1017.6 305.8 1033.4 307.4 1049.2 307.5"/>
<path d="M650.8 305.2C667.5 305.3 684.1 303.9 700.8 303.1C725.7 301.9 750.7 300.8 775.6 300.0C803.3 299.1 831.1 298.7 858.8 298.8C886.5 299.0 914.2 299.8 942.0 301.0C966.9 302.1 991.9 303.6 1016.8 305.1C1033.5 306.1 1050.1 307.7 1066.7 307.8"/>
<path d="M667.3 305.7C682.8 305.8 698.3 304.4 713.8 303.6C737.1 302.4 760.3 301.2 783.5 300.4C809.4 299.5 835.2 299.1 861.0 299.3C886.9 299.5 912.7 300.3 938.5 301.5C961.8 302.6 985.0 304.1 1008.2 305.6C1023.7 306.6 1039.2 308.3 1054.7 308.4"/>
<path d="M645.4 307.0C662.5 307.1 679.7 305.6 696.8 304.7C722.5 303.4 748.1 302.2 773.8 301.3C802.3 300.3 830.9 299.8 859.4 299.9C887.9 300.0 916.5 300.8 945.0 302.0C970.7 303.1 996.4 304.5 1022.1 306.0C1039.2 307.0 1056.3 308.7 1073.4 308.7"/>
<path d="M635.7 307.6C652.7 307.7 669.8 306.1 686.8 305.2C712.4 303.9 737.9 302.6 763.5 301.7C791.9 300.7 820.3 300.1 848.7 300.2C877.0 300.3 905.4 301.0 933.8 302.2C959.4 303.3 984.9 304.8 1010.5 306.2C1027.5 307.2 1044.6 308.9 1061.6 308.9"/>
<path d="M664.9 308.6C681.9 308.6 698.9 307.0 715.8 306.1C741.3 304.7 766.7 303.3 792.1 302.3C820.4 301.2 848.7 300.6 876.9 300.7C905.2 300.7 933.5 301.4 961.8 302.5C987.2 303.5 1012.6 305.0 1038.1 306.4C1055.0 307.4 1072.0 309.0 1089.0 309.0"/>
<path d="M622.8 308.9C639.3 308.9 655.7 307.3 672.2 306.3C696.9 304.9 721.6 303.6 746.3 302.6C773.7 301.5 801.1 300.8 828.5 300.9C856.0 300.9 883.4 301.5 910.8 302.7C935.5 303.7 960.2 305.1 984.9 306.6C1001.3 307.5 1017.8 309.2 1034.3 309.2"/>
<path d="M637.8 309.4C655.1 309.4 672.4 307.8 689.7 306.8C715.7 305.4 741.7 304.0 767.7 303.0C796.6 301.9 825.5 301.3 854.4 301.3C883.2 301.3 912.1 302.0 941.0 303.2C967.0 304.2 993.0 305.7 1019.0 307.1C1036.3 308.1 1053.6 309.8 1071.0 309.8"/>
<path d="M649.5 309.4C667.3 309.5 685.1 307.8 702.9 306.9C729.7 305.5 756.4 304.2 783.2 303.3C812.9 302.2 842.6 301.6 872.3 301.7C902.0 301.8 931.7 302.6 961.4 303.9C988.2 305.0 1014.9 306.5 1041.6 308.1C1059.5 309.1 1077.3 310.9 1095.1 311.0"/>
<path d="M640.6 309.8C657.2 309.9 673.8 308.3 690.4 307.4C715.3 306.0 740.2 304.7 765.1 303.8C792.8 302.8 820.4 302.3 848.1 302.4C875.8 302.6 903.4 303.4 931.1 304.8C956.0 306.0 980.9 307.6 1005.8 309.2C1022.4 310.3 1039.0 312.2 1055.6 312.3"/>
<path d="M650.5 309.9C667.2 310.0 683.9 308.3 700.6 307.4C725.6 306.1 750.7 304.8 775.8 303.8C803.6 302.8 831.5 302.3 859.3 302.5C887.1 302.6 915.0 303.5 942.8 304.8C967.9 306.0 993.0 307.6 1018.0 309.3C1034.7 310.4 1051.4 312.2 1068.1 312.3"/>
<path d="M644.2 310.0C661.3 310.1 678.5 308.5 695.6 307.6C721.3 306.3 747.0 305.1 772.7 304.2C801.3 303.2 829.8 302.8 858.4 303.0C887.0 303.3 915.5 304.2 944.1 305.7C969.8 307.0 995.5 308.7 1021.2 310.4C1038.4 311.6 1055.5 313.5 1072.6 313.6"/>
<path d="M615.5 310.1C633.0 310.3 650.5 308.6 668.0 307.8C694.2 306.4 720.5 305.2 746.7 304.3C775.9 303.3 805.1 302.9 834.2 303.1C863.4 303.4 892.6 304.3 921.7 305.8C948.0 307.1 974.3 308.8 1000.5 310.5C1018.0 311.7 1035.5 313.6 1053.0 313.7"/>
<path d="M635.3 310.5C653.5 310.6 671.7 309.0 689.8 308.1C717.1 306.8 744.3 305.5 771.6 304.6C801.9 303.6 832.2 303.1 862.5 303.4C892.7 303.6 923.0 304.5 953.3 306.0C980.6 307.3 1007.8 309.0 1035.1 310.8C1053.2 311.9 1071.4 313.9 1089.6 314.0"/>
<path d="M633.1 311.9C650.6 312.0 668.1 310.3 685.6 309.4C711.9 308.0 738.1 306.6 764.4 305.6C793.6 304.6 822.8 304.1 852.0 304.2C881.2 304.4 910.4 305.3 939.6 306.8C965.8 308.1 992.1 309.8 1018.4 311.5C1035.9 312.7 1053.4 314.6 1070.9 314.7"/>
<path d="M625.6 312.5C643.4 312.6 661.2 310.9 679.0 310.0C705.6 308.6 732.3 307.2 759.0 306.3C788.6 305.2 818.2 304.7 847.8 305.0C877.5 305.2 907.1 306.2 936.7 307.7C963.4 309.1 990.0 310.9 1016.7 312.7C1034.5 313.9 1052.3 315.9 1070.0 316.1"/>
<path d="M654.8 314.6C672.0 314.7 689.2 312.8 706.4 311.8C732.2 310.2 758.0 308.7 783.8 307.6C812.5 306.4 841.1 305.8 869.8 305.9C898.5 306.0 927.1 306.9 955.8 308.3C981.6 309.6 1007.4 311.3 1033.2 313.1C1050.4 314.2 1067.6 316.2 1084.8 316.3"/>
<path d="M653.1 314.9C670.7 315.0 688.3 313.1 705.8 312.1C732.1 310.6 758.5 309.1 784.8 308.0C814.1 306.8 843.3 306.2 872.6 306.4C901.8 306.5 931.1 307.4 960.3 308.9C986.7 310.2 1013.0 312.0 1039.3 313.8C1056.9 315.0 1074.4 317.1 1092.0 317.1"/>
<path d="M630.8 315.0C648.2 315.2 665.7 313.3 683.1 312.3C709.2 310.8 735.3 309.4 761.4 308.4C790.4 307.2 819.4 306.7 848.4 306.9C877.4 307.1 906.4 308.1 935.4 309.7C961.5 311.1 987.6 312.9 1013.7 314.8C1031.1 316.1 1048.5 318.2 1065.9 318.3"/>
<path d="M631.0 315.3C649.0 315.5 667.0 313.7 685.0 312.7C712.0 311.2 739.0 309.8 766.0 308.8C796.0 307.8 826.0 307.3 856.0 307.5C886.0 307.8 916.0 308.9 946.0 310.6C973.0 312.1 1000.0 314.0 1027.0 316.0C1045.0 317.4 1063.0 319.5 1081.0 319.7"/>
<path d="M634.6 315.4C651.8 315.6 669.0 313.8 686.1 312.8C711.9 311.4 737.7 309.9 763.5 309.0C792.2 307.9 820.8 307.4 849.5 307.7C878.1 308.0 906.8 309.1 935.5 310.8C961.2 312.3 987.0 314.3 1012.8 316.3C1030.0 317.7 1047.2 319.9 1064.4 320.1"/>
<path d="M637.7 315.6C655.3 315.8 672.8 314.0 690.3 313.1C716.6 311.8 742.9 310.4 769.2 309.6C798.4 308.6 827.7 308.2 856.9 308.7C886.1 309.2 915.3 310.4 944.5 312.3C970.8 314.0 997.1 316.1 1023.4 318.3C1040.9 319.8 1058.5 322.1 1076.0 322.4"/>
<path d="M665.4 315.9C682.5 316.2 699.6 314.4 716.7 313.5C742.4 312.1 768.1 310.7 793.8 309.8C822.3 308.9 850.8 308.5 879.4 308.9C907.9 309.4 936.4 310.7 965.0 312.5C990.6 314.2 1016.3 316.4 1042.0 318.6C1059.1 320.0 1076.2 322.4 1093.3 322.6"/>
<path d="M656.9 316.1C673.5 316.4 690.0 314.6 706.6 313.6C731.5 312.2 756.4 310.9 781.2 310.0C808.9 309.0 836.5 308.6 864.2 309.1C891.8 309.5 919.4 310.8 947.1 312.6C971.9 314.3 996.8 316.5 1021.7 318.7C1038.3 320.1 1054.8 322.5 1071.4 322.8"/>
<path d="M602.5 316.5C622.1 316.8 641.6 314.9 661.2 314.0C690.5 312.5 719.9 311.2 749.2 310.3C781.8 309.3 814.4 308.9 847.0 309.3C879.6 309.8 912.2 311.0 944.8 312.9C974.2 314.6 1003.5 316.7 1032.8 319.0C1052.4 320.4 1072.0 322.8 1091.5 323.1"/>
<path d="M651.4 317.2C668.3 317.5 685.2 315.6 702.1 314.6C727.5 313.1 752.8 311.7 778.2 310.7C806.4 309.7 834.5 309.2 862.7 309.6C890.9 310.0 919.1 311.3 947.2 313.1C972.6 314.8 998.0 316.9 1023.3 319.1C1040.2 320.5 1057.1 322.9 1074.0 323.1"/>
<path d="M646.5 317.8C663.6 318.0 680.7 316.1 697.8 315.1C723.4 313.7 749.1 312.2 774.8 311.3C803.3 310.2 831.8 309.8 860.3 310.2C888.8 310.6 917.3 311.9 945.8 313.8C971.5 315.4 997.2 317.6 1022.8 319.9C1039.9 321.3 1057.0 323.7 1074.1 324.0"/>
<path d="M648.5 318.5C667.3 318.8 686.0 316.9 704.8 315.9C732.9 314.4 761.1 313.0 789.2 312.1C820.5 311.1 851.8 310.7 883.0 311.1C914.3 311.6 945.6 313.0 976.8 314.9C1005.0 316.7 1033.1 319.0 1061.3 321.3C1080.0 322.9 1098.8 325.4 1117.6 325.6"/>
<path d="M665.7 319.8C681.6 320.0 697.6 318.0 713.6 317.0C737.5 315.4 761.4 313.9 785.4 312.9C812.0 311.8 838.6 311.3 865.2 311.7C891.8 312.1 918.4 313.4 945.0 315.3C968.9 317.1 992.9 319.3 1016.8 321.6C1032.8 323.2 1048.7 325.6 1064.7 325.9"/>
<path d="M647.3 321.3C664.1 321.5 680.9 319.4 697.7 318.3C722.9 316.7 748.1 315.0 773.3 313.9C801.3 312.7 829.2 312.1 857.2 312.4C885.2 312.7 913.2 313.9 941.2 315.8C966.4 317.5 991.6 319.7 1016.8 321.9C1033.6 323.4 1050.4 325.9 1067.1 326.0"/>
<path d="M657.7 321.9C675.0 322.1 692.4 320.0 709.7 318.8C735.7 317.1 761.8 315.5 787.8 314.3C816.7 313.0 845.6 312.4 874.5 312.7C903.4 313.0 932.3 314.2 961.2 316.0C987.3 317.6 1013.3 319.8 1039.3 322.0C1056.6 323.5 1074.0 326.0 1091.3 326.1"/>
<path d="M644.2 322.9C661.9 323.1 679.6 320.9 697.2 319.7C723.7 317.9 750.2 316.2 776.7 315.0C806.2 313.6 835.6 313.0 865.0 313.2C894.5 313.4 923.9 314.5 953.4 316.4C979.8 318.0 1006.3 320.1 1032.8 322.3C1050.5 323.8 1068.2 326.2 1085.8 326.4"/>
<path d="M619.5 323.2C638.2 323.4 656.9 321.2 675.6 320.0C703.6 318.2 731.6 316.4 759.6 315.2C790.8 313.8 821.9 313.2 853.1 313.4C884.2 313.6 915.4 314.7 946.5 316.5C974.5 318.2 1002.6 320.3 1030.6 322.5C1049.3 324.0 1067.9 326.4 1086.6 326.6"/>
<path d="M647.8 324.6C665.3 324.7 682.9 322.5 700.4 321.3C726.7 319.4 753.0 317.7 779.3 316.4C808.5 315.1 837.8 314.4 867.0 314.6C896.2 314.9 925.4 316.1 954.7 318.0C981.0 319.7 1007.3 321.9 1033.6 324.2C1051.1 325.7 1068.7 328.3 1086.2 328.4"/>
<path d="M651.3 325.0C668.7 325.3 686.2 323.1 703.6 322.0C729.7 320.2 755.9 318.5 782.0 317.4C811.1 316.2 840.1 315.7 869.2 316.1C898.3 316.6 927.3 318.0 956.4 320.1C982.5 322.1 1008.7 324.5 1034.8 327.1C1052.2 328.8 1069.7 331.5 1087.1 331.8"/>
<path d="M636.3 325.2C652.9 325.5 669.4 323.3 686.0 322.2C710.8 320.5 735.6 318.9 760.4 317.9C788.0 316.7 815.6 316.2 843.1 316.8C870.7 317.3 898.3 318.8 925.9 321.1C950.7 323.1 975.5 325.7 1000.3 328.3C1016.9 330.1 1033.4 332.9 1050.0 333.2"/>
<path d="M640.3 326.5C657.5 326.7 674.6 324.5 691.8 323.3C717.5 321.5 743.2 319.8 768.9 318.6C797.5 317.4 826.1 316.8 854.7 317.3C883.3 317.7 911.9 319.2 940.4 321.3C966.2 323.3 991.9 325.8 1017.6 328.4C1034.8 330.1 1051.9 332.9 1069.1 333.2"/>
<path d="M647.3 327.1C664.3 327.5 681.3 325.3 698.3 324.1C723.9 322.4 749.4 320.8 774.9 319.7C803.3 318.6 831.7 318.2 860.0 318.8C888.4 319.4 916.8 321.0 945.1 323.4C970.7 325.6 996.2 328.4 1021.7 331.2C1038.7 333.0 1055.8 336.0 1072.8 336.4"/>
<path d="M619.1 327.2C636.4 327.6 653.7 325.4 671.0 324.2C696.9 322.5 722.9 320.9 748.8 319.8C777.6 318.7 806.5 318.3 835.3 318.9C864.1 319.5 892.9 321.1 921.7 323.5C947.7 325.7 973.6 328.5 999.6 331.3C1016.8 333.2 1034.1 336.1 1051.4 336.5"/>
<path d="M643.9 327.8C661.6 328.2 679.3 325.9 697.0 324.8C723.6 323.0 750.1 321.4 776.7 320.3C806.2 319.1 835.7 318.7 865.2 319.3C894.7 319.9 924.2 321.6 953.8 324.0C980.3 326.1 1006.9 328.9 1033.4 331.7C1051.2 333.6 1068.9 336.6 1086.6 337.0"/>
<path d="M610.3 327.9C628.7 328.3 647.1 326.0 665.6 324.9C693.2 323.3 720.9 321.7 748.5 320.7C779.2 319.5 809.9 319.2 840.7 319.9C871.4 320.6 902.1 322.4 932.8 324.9C960.5 327.2 988.1 330.0 1015.8 333.0C1034.2 334.9 1052.6 338.0 1071.1 338.5"/>
<path d="M621.7 328.2C638.5 328.7 655.3 326.4 672.0 325.3C697.2 323.7 722.4 322.2 747.6 321.2C775.6 320.2 803.6 319.9 831.6 320.7C859.5 321.5 887.5 323.4 915.5 326.0C940.7 328.4 965.9 331.4 991.1 334.5C1007.9 336.5 1024.7 339.7 1041.5 340.2"/>
<path d="M661.5 329.1C677.9 329.5 694.4 327.2 710.8 326.1C735.5 324.4 760.2 322.8 784.9 321.8C812.3 320.7 839.7 320.4 867.1 321.2C894.5 321.9 922.0 323.8 949.4 326.4C974.1 328.8 998.7 331.8 1023.4 334.8C1039.9 336.9 1056.3 340.1 1072.8 340.5"/>
<path d="M651.7 329.2C668.6 329.7 685.6 327.4 702.5 326.4C727.9 324.7 753.3 323.1 778.7 322.2C806.9 321.1 835.1 320.9 863.3 321.7C891.5 322.5 919.7 324.5 947.9 327.2C973.3 329.6 998.7 332.7 1024.1 335.8C1041.0 337.9 1057.9 341.2 1074.8 341.7"/>
<path d="M653.4 330.2C669.7 330.7 685.9 328.4 702.2 327.2C726.7 325.5 751.1 323.9 775.5 322.8C802.6 321.7 829.8 321.4 856.9 322.2C884.0 322.9 911.2 324.8 938.3 327.5C962.7 329.9 987.1 332.9 1011.6 336.0C1027.8 338.1 1044.1 341.3 1060.4 341.8"/>
<path d="M655.3 330.4C672.3 330.9 689.3 328.6 706.3 327.5C731.8 325.8 757.4 324.2 782.9 323.2C811.3 322.1 839.6 321.8 868.0 322.6C896.4 323.4 924.7 325.4 953.1 328.1C978.6 330.6 1004.2 333.7 1029.7 336.9C1046.7 339.0 1063.7 342.3 1080.7 342.8"/>
<path d="M662.6 331.1C678.9 331.6 695.2 329.2 711.5 328.1C736.0 326.4 760.5 324.7 785.0 323.7C812.2 322.6 839.4 322.3 866.5 323.2C893.7 324.0 920.9 326.0 948.1 328.7C972.6 331.2 997.1 334.4 1021.6 337.6C1037.9 339.7 1054.2 343.1 1070.5 343.6"/>
<path d="M650.7 331.2C667.8 331.7 684.9 329.4 701.9 328.3C727.5 326.6 753.1 324.9 778.7 324.0C807.2 322.9 835.6 322.6 864.1 323.5C892.5 324.4 921.0 326.4 949.4 329.2C975.0 331.7 1000.6 334.9 1026.2 338.2C1043.3 340.4 1060.4 343.8 1077.4 344.3"/>
<path d="M634.8 332.2C651.7 332.7 668.6 330.3 685.5 329.2C710.9 327.4 736.2 325.8 761.6 324.8C789.8 323.6 818.0 323.4 846.2 324.2C874.3 325.1 902.5 327.1 930.7 329.9C956.1 332.4 981.5 335.7 1006.8 338.9C1023.7 341.1 1040.7 344.5 1057.6 345.0"/>
<path d="M636.7 333.5C653.9 334.0 671.2 331.5 688.4 330.3C714.3 328.5 740.2 326.7 766.1 325.6C794.9 324.4 823.7 324.0 852.4 324.8C881.2 325.6 910.0 327.6 938.7 330.3C964.6 332.9 990.5 336.0 1016.4 339.3C1033.7 341.4 1051.0 344.8 1068.2 345.3"/>
<path d="M638.9 333.9C657.4 334.4 676.0 331.9 694.5 330.6C722.4 328.8 750.2 327.0 778.0 325.9C809.0 324.7 839.9 324.3 870.8 325.0C901.7 325.8 932.7 327.7 963.6 330.5C991.4 333.0 1019.2 336.2 1047.1 339.4C1065.6 341.6 1084.2 345.0 1102.7 345.4"/>
<path d="M662.0 333.9C680.0 334.5 697.9 332.0 715.9 330.8C742.8 329.1 769.7 327.4 796.6 326.3C826.5 325.2 856.5 324.9 886.4 325.8C916.3 326.7 946.2 328.8 976.1 331.7C1003.0 334.3 1030.0 337.7 1056.9 341.0C1074.8 343.3 1092.8 346.8 1110.7 347.3"/>
<path d="M638.5 334.2C655.3 334.8 672.0 332.4 688.8 331.3C714.0 329.6 739.1 328.0 764.3 327.0C792.2 326.0 820.1 325.8 848.1 326.9C876.0 327.9 904.0 330.2 931.9 333.3C957.1 336.1 982.2 339.6 1007.4 343.2C1024.1 345.5 1040.9 349.2 1057.7 349.8"/>
<path d="M671.1 335.1C687.8 335.7 704.5 333.3 721.2 332.1C746.2 330.3 771.3 328.7 796.3 327.7C824.2 326.6 852.0 326.4 879.9 327.4C907.7 328.4 935.5 330.6 963.4 333.7C988.4 336.5 1013.5 340.0 1038.5 343.5C1055.2 345.9 1071.9 349.5 1088.6 350.1"/>
<path d="M646.4 335.3C662.7 335.9 678.9 333.4 695.2 332.3C719.6 330.5 744.0 328.9 768.4 327.9C795.4 326.8 822.5 326.6 849.6 327.6C876.7 328.7 903.8 330.9 930.9 334.0C955.3 336.8 979.7 340.3 1004.1 343.9C1020.4 346.3 1036.6 350.0 1052.9 350.6"/>
<path d="M650.4 335.4C666.1 336.1 681.7 333.6 697.4 332.4C720.9 330.7 744.4 329.0 767.9 328.0C794.1 326.9 820.2 326.8 846.3 327.8C872.4 328.8 898.6 331.1 924.7 334.2C948.2 337.0 971.7 340.5 995.2 344.1C1010.9 346.5 1026.6 350.2 1042.2 350.8"/>
<path d="M650.7 335.5C667.5 336.1 684.4 333.7 701.2 332.5C726.4 330.8 751.7 329.1 776.9 328.2C805.0 327.1 833.0 326.9 861.0 328.0C889.1 329.0 917.1 331.3 945.2 334.5C970.4 337.3 995.7 340.9 1020.9 344.5C1037.7 346.9 1054.6 350.6 1071.4 351.3"/>
<path d="M652.9 335.7C669.6 336.3 686.4 333.9 703.2 332.7C728.3 331.0 753.5 329.3 778.6 328.3C806.6 327.3 834.5 327.1 862.4 328.1C890.4 329.2 918.3 331.4 946.3 334.6C971.4 337.5 996.6 341.0 1021.7 344.7C1038.5 347.1 1055.3 350.8 1072.0 351.4"/>
<path d="M623.1 338.7C639.8 339.3 656.6 336.6 673.4 335.3C698.6 333.4 723.7 331.6 748.9 330.5C776.9 329.2 804.8 328.9 832.8 329.8C860.7 330.8 888.7 333.0 916.6 336.1C941.8 338.9 967.0 342.4 992.1 346.0C1008.9 348.4 1025.7 352.2 1042.5 352.7"/>
<path d="M647.7 338.7C664.0 339.3 680.4 336.7 696.7 335.4C721.2 333.5 745.7 331.6 770.2 330.5C797.4 329.3 824.6 329.0 851.9 329.9C879.1 330.9 906.3 333.1 933.5 336.2C958.0 339.1 982.5 342.6 1007.0 346.3C1023.3 348.7 1039.7 352.4 1056.0 353.0"/>
<path d="M609.0 339.2C628.4 339.8 647.7 337.2 667.0 336.0C696.0 334.1 725.0 332.3 753.9 331.3C786.1 330.2 818.4 330.0 850.6 331.0C882.8 332.1 915.0 334.5 947.2 337.8C976.1 340.8 1005.1 344.5 1034.1 348.3C1053.4 350.8 1072.8 354.7 1092.1 355.4"/>
<path d="M639.1 339.3C656.3 340.0 673.4 337.4 690.6 336.2C716.3 334.4 742.0 332.7 767.7 331.7C796.3 330.7 824.9 330.6 853.5 331.8C882.0 332.9 910.6 335.4 939.2 338.9C964.9 342.0 990.6 345.8 1016.3 349.7C1033.5 352.3 1050.6 356.4 1067.8 357.1"/>
<path d="M636.7 339.6C655.3 340.4 673.8 337.7 692.3 336.5C720.1 334.7 747.9 333.0 775.7 332.0C806.5 330.9 837.4 330.8 868.3 332.0C899.1 333.1 930.0 335.6 960.9 339.0C988.6 342.1 1016.4 346.0 1044.2 349.9C1062.7 352.5 1081.3 356.5 1099.8 357.2"/>
<path d="M661.8 340.2C678.3 340.9 694.8 338.3 711.3 337.1C736.0 335.3 760.7 333.5 785.4 332.6C812.9 331.5 840.3 331.4 867.8 332.6C895.3 333.8 922.7 336.3 950.2 339.8C974.9 342.9 999.6 346.8 1024.3 350.8C1040.8 353.5 1057.3 357.5 1073.7 358.3"/>
<path d="M642.2 340.6C658.8 341.4 675.4 338.8 692.1 337.7C717.0 335.9 741.9 334.3 766.8 333.4C794.5 332.5 822.2 332.5 849.9 333.9C877.6 335.3 905.3 338.0 933.0 341.7C958.0 345.0 982.9 349.1 1007.8 353.3C1024.4 356.1 1041.0 360.4 1057.7 361.2"/>
<path d="M634.1 341.3C651.8 342.1 669.4 339.5 687.1 338.3C713.5 336.6 740.0 334.9 766.5 334.0C795.9 333.0 825.3 333.0 854.8 334.4C884.2 335.8 913.6 338.5 943.0 342.2C969.5 345.6 996.0 349.7 1022.4 353.9C1040.1 356.7 1057.7 361.0 1075.4 361.8"/>
<path d="M641.9 342.8C659.1 343.6 676.3 340.9 693.5 339.7C719.4 337.8 745.2 336.1 771.0 335.1C799.8 334.0 828.5 334.0 857.2 335.3C885.9 336.6 914.6 339.3 943.3 343.0C969.1 346.3 995.0 350.5 1020.8 354.7C1038.0 357.5 1055.3 361.7 1072.5 362.5"/>
<path d="M654.7 342.9C671.6 343.7 688.5 341.0 705.4 339.8C730.8 338.0 756.2 336.2 781.6 335.3C809.7 334.2 837.9 334.2 866.1 335.5C894.3 336.8 922.5 339.5 950.7 343.2C976.0 346.6 1001.4 350.7 1026.8 354.9C1043.7 357.7 1060.6 362.0 1077.5 362.8"/>
<path d="M621.3 343.0C638.6 343.8 655.9 341.1 673.1 339.9C699.0 338.1 724.9 336.4 750.8 335.4C779.6 334.4 808.4 334.3 837.2 335.7C866.0 337.0 894.7 339.8 923.5 343.5C949.4 346.9 975.3 351.1 1001.2 355.3C1018.5 358.1 1035.8 362.5 1053.0 363.3"/>
<path d="M651.2 343.4C668.7 344.2 686.1 341.5 703.6 340.3C729.8 338.5 756.0 336.8 782.1 335.9C811.2 334.9 840.3 334.9 869.4 336.4C898.5 337.8 927.6 340.6 956.7 344.4C982.9 347.9 1009.1 352.1 1035.3 356.5C1052.7 359.4 1070.2 363.8 1087.7 364.6"/>
<path d="M658.3 343.7C675.1 344.6 692.0 341.9 708.8 340.7C734.0 339.0 759.3 337.3 784.5 336.4C812.6 335.5 840.7 335.6 868.7 337.1C896.8 338.5 924.8 341.5 952.9 345.4C978.1 348.9 1003.4 353.3 1028.6 357.7C1045.5 360.7 1062.3 365.2 1079.1 366.1"/>
<path d="M638.4 343.8C655.9 344.7 673.3 342.0 690.8 340.9C717.1 339.1 743.3 337.4 769.5 336.6C798.7 335.6 827.9 335.7 857.0 337.2C886.2 338.7 915.3 341.6 944.5 345.6C970.7 349.2 996.9 353.5 1023.2 358.0C1040.7 361.0 1058.1 365.5 1075.6 366.4"/>
<path d="M661.0 344.0C677.3 344.9 693.6 342.2 709.8 341.1C734.2 339.3 758.6 337.7 783.0 336.8C810.1 335.9 837.2 336.0 864.3 337.5C891.4 339.1 918.5 342.0 945.6 346.0C970.0 349.6 994.4 354.0 1018.8 358.5C1035.1 361.5 1051.4 366.0 1067.6 366.9"/>
<path d="M637.1 345.0C654.6 345.9 672.1 343.2 689.5 342.0C715.7 340.2 741.9 338.5 768.0 337.6C797.1 336.6 826.2 336.7 855.3 338.2C884.4 339.7 913.5 342.6 942.6 346.6C968.8 350.2 994.9 354.6 1021.1 359.1C1038.6 362.1 1056.0 366.7 1073.5 367.6"/>
<path d="M635.0 345.4C651.9 346.3 668.9 343.5 685.8 342.3C711.2 340.5 736.6 338.8 762.0 337.9C790.2 336.9 818.5 336.9 846.7 338.4C874.9 339.9 903.1 342.9 931.4 346.9C956.8 350.5 982.2 354.9 1007.6 359.4C1024.5 362.4 1041.4 367.0 1058.4 367.8"/>
<path d="M628.9 345.9C646.8 346.8 664.7 344.0 682.7 342.8C709.6 340.9 736.5 339.1 763.4 338.2C793.3 337.2 823.1 337.2 853.0 338.7C882.9 340.2 912.8 343.1 942.7 347.1C969.6 350.6 996.5 355.1 1023.4 359.6C1041.3 362.6 1059.3 367.1 1077.2 368.0"/>
<path d="M639.3 347.2C656.7 348.0 674.1 345.2 691.4 343.9C717.5 342.1 743.5 340.2 769.6 339.3C798.5 338.2 827.4 338.2 856.4 339.7C885.3 341.2 914.3 344.1 943.2 348.1C969.2 351.7 995.3 356.2 1021.3 360.7C1038.7 363.8 1056.1 368.4 1073.4 369.3"/>
<path d="M646.0 347.6C663.2 348.5 680.4 345.7 697.7 344.4C723.5 342.5 749.4 340.7 775.2 339.7C804.0 338.7 832.7 338.7 861.4 340.2C890.2 341.6 918.9 344.6 947.6 348.6C973.5 352.3 999.4 356.8 1025.2 361.4C1042.5 364.4 1059.7 369.1 1076.9 370.0"/>
<path d="M643.3 348.1C660.6 349.0 678.0 346.1 695.4 344.8C721.5 342.9 747.6 341.0 773.7 340.0C802.6 338.9 831.6 338.9 860.6 340.3C889.6 341.8 918.6 344.7 947.5 348.8C973.6 352.4 999.7 356.9 1025.8 361.4C1043.2 364.5 1060.5 369.1 1077.9 370.0"/>
<path d="M636.9 349.9C654.6 350.7 672.4 347.7 690.2 346.3C716.8 344.3 743.4 342.3 770.1 341.1C799.7 339.9 829.3 339.7 858.9 341.1C888.5 342.4 918.1 345.3 947.7 349.2C974.3 352.7 1001.0 357.2 1027.6 361.6C1045.4 364.6 1063.1 369.2 1080.9 370.1"/>
<path d="M638.5 353.8C656.7 354.5 674.8 351.2 693.0 349.6C720.2 347.3 747.5 345.0 774.7 343.6C805.0 342.0 835.2 341.6 865.5 342.7C895.8 343.8 926.0 346.4 956.3 350.1C983.5 353.5 1010.8 357.8 1038.0 362.1C1056.2 365.0 1074.3 369.6 1092.5 370.2"/>
<path d="M649.9 356.0C666.9 356.6 683.8 353.2 700.8 351.5C726.3 349.0 751.7 346.5 777.2 345.0C805.4 343.3 833.7 342.7 862.0 343.6C890.3 344.6 918.6 347.1 946.9 350.8C972.3 354.1 997.8 358.2 1023.2 362.5C1040.2 365.4 1057.2 369.9 1074.1 370.5"/>
<path d="M644.4 356.8C661.4 357.4 678.4 354.0 695.4 352.3C721.0 349.7 746.5 347.2 772.0 345.7C800.3 343.9 828.7 343.3 857.0 344.3C885.4 345.2 913.7 347.8 942.1 351.4C967.6 354.7 993.1 359.0 1018.6 363.3C1035.7 366.1 1052.7 370.7 1069.7 371.3"/>
<path d="M634.7 356.8C652.6 357.4 670.4 354.0 688.3 352.3C715.1 349.7 741.8 347.2 768.6 345.7C798.4 343.9 828.2 343.3 857.9 344.3C887.7 345.3 917.4 347.8 947.2 351.5C974.0 354.8 1000.8 359.0 1027.6 363.3C1045.4 366.2 1063.3 370.8 1081.1 371.3"/>
<path d="M658.7 359.7C675.8 360.2 692.9 356.6 710.0 354.8C735.6 352.0 761.2 349.4 786.9 347.6C815.4 345.7 843.9 344.9 872.3 345.7C900.8 346.5 929.3 349.0 957.8 352.5C983.4 355.8 1009.1 359.9 1034.7 364.2C1051.8 367.0 1068.9 371.5 1086.0 372.0"/>
<path d="M664.6 360.0C680.9 360.5 697.3 356.9 713.6 355.1C738.1 352.4 762.6 349.7 787.1 347.9C814.3 346.0 841.6 345.2 868.8 346.1C896.0 346.9 923.2 349.4 950.4 353.0C975.0 356.2 999.5 360.4 1024.0 364.7C1040.3 367.5 1056.6 372.1 1073.0 372.6"/>
<path d="M649.4 361.9C666.9 362.3 684.4 358.7 701.9 356.7C728.1 353.8 754.4 351.0 780.6 349.2C809.8 347.1 838.9 346.2 868.1 346.9C897.2 347.6 926.4 350.0 955.5 353.5C981.8 356.7 1008.0 360.8 1034.3 365.0C1051.8 367.8 1069.3 372.4 1086.8 372.8"/>
<path d="M648.4 364.1C666.2 364.5 684.1 360.8 701.9 358.8C728.7 355.8 755.4 352.9 782.2 350.9C811.9 348.8 841.7 347.8 871.4 348.5C901.1 349.3 930.9 351.6 960.6 355.2C987.3 358.4 1014.1 362.6 1040.9 366.9C1058.7 369.7 1076.5 374.3 1094.4 374.8"/>
<path d="M659.7 364.9C676.4 365.3 693.1 361.5 709.7 359.4C734.8 356.4 759.8 353.4 784.8 351.4C812.6 349.2 840.4 348.2 868.2 348.9C896.0 349.5 923.8 351.8 951.6 355.4C976.6 358.6 1001.6 362.7 1026.6 366.9C1043.3 369.8 1060.0 374.4 1076.7 374.8"/>
<path d="M634.4 365.9C651.4 366.3 668.4 362.4 685.4 360.3C710.9 357.2 736.4 354.2 761.9 352.1C790.3 349.9 818.6 348.8 846.9 349.4C875.3 350.0 903.6 352.3 931.9 355.8C957.4 359.0 983.0 363.1 1008.5 367.4C1025.5 370.2 1042.5 374.8 1059.5 375.2"/>
<path d="M631.5 366.8C649.5 367.2 667.4 363.2 685.4 361.1C712.4 358.0 739.3 354.9 766.3 352.8C796.3 350.5 826.2 349.4 856.2 349.9C886.1 350.5 916.1 352.8 946.1 356.3C973.0 359.5 1000.0 363.6 1026.9 367.8C1044.9 370.6 1062.9 375.2 1080.9 375.6"/>
<path d="M648.4 370.0C665.5 370.3 682.6 366.2 699.8 363.9C725.4 360.6 751.1 357.3 776.8 355.0C805.3 352.5 833.9 351.2 862.4 351.7C891.0 352.1 919.5 354.3 948.0 357.7C973.7 360.8 999.4 364.9 1025.1 369.0C1042.2 371.8 1059.3 376.5 1076.4 376.7"/>
<path d="M654.7 371.5C670.9 371.7 687.1 367.5 703.3 365.2C727.7 361.7 752.0 358.4 776.3 356.0C803.3 353.3 830.3 352.0 857.3 352.3C884.4 352.7 911.4 354.8 938.4 358.1C962.7 361.2 987.0 365.2 1011.3 369.3C1027.6 372.1 1043.8 376.7 1060.0 376.9"/>
<path d="M622.6 371.5C640.2 371.7 657.8 367.5 675.3 365.2C701.7 361.8 728.1 358.4 754.4 356.0C783.7 353.3 813.0 352.0 842.3 352.3C871.6 352.7 900.9 354.8 930.2 358.2C956.6 361.2 982.9 365.3 1009.3 369.4C1026.9 372.1 1044.4 376.7 1062.0 377.0"/>
<path d="M665.3 372.2C681.5 372.4 697.6 368.2 713.8 365.8C738.0 362.3 762.2 358.9 786.5 356.5C813.4 353.8 840.3 352.4 867.2 352.8C894.1 353.1 921.1 355.2 948.0 358.6C972.2 361.6 996.5 365.6 1020.7 369.8C1036.8 372.5 1053.0 377.1 1069.1 377.4"/>
<path d="M629.0 374.1C647.2 374.2 665.4 369.9 683.7 367.5C711.0 363.8 738.3 360.2 765.7 357.7C796.1 354.9 826.4 353.4 856.8 353.6C887.2 353.8 917.5 355.8 947.9 359.1C975.3 362.0 1002.6 366.0 1029.9 370.1C1048.2 372.8 1066.4 377.4 1084.6 377.5"/>
<path d="M650.3 374.7C667.5 374.8 684.7 370.5 701.9 368.0C727.6 364.3 753.4 360.8 779.2 358.2C807.8 355.4 836.5 353.8 865.1 354.0C893.7 354.3 922.4 356.3 951.0 359.5C976.8 362.5 1002.6 366.5 1028.4 370.6C1045.5 373.3 1062.7 377.9 1079.9 378.1"/>
<path d="M616.5 378.5C633.3 378.5 650.0 374.0 666.8 371.4C692.0 367.5 717.1 363.7 742.3 360.9C770.2 357.8 798.2 356.1 826.1 356.2C854.1 356.3 882.0 358.2 910.0 361.4C935.1 364.3 960.3 368.3 985.4 372.3C1002.2 375.0 1019.0 379.7 1035.7 379.7"/>
<path d="M653.8 379.1C670.9 379.1 687.9 374.5 705.0 371.9C730.6 368.0 756.2 364.1 781.8 361.3C810.2 358.2 838.6 356.4 867.1 356.5C895.5 356.5 924.0 358.4 952.4 361.6C978.0 364.4 1003.6 368.4 1029.2 372.4C1046.2 375.1 1063.3 379.7 1080.4 379.8"/>
<path d="M627.4 380.6C646.8 380.6 666.2 376.0 685.6 373.3C714.7 369.3 743.8 365.3 773.0 362.5C805.3 359.3 837.6 357.5 870.0 357.6C902.3 357.6 934.7 359.5 967.0 362.7C996.1 365.6 1025.2 369.6 1054.4 373.6C1073.8 376.3 1093.2 381.0 1112.6 381.1"/>
<path d="M627.6 381.2C646.4 381.2 665.2 376.5 684.0 373.9C712.3 369.9 740.5 365.9 768.7 363.1C800.1 359.9 831.4 358.1 862.8 358.2C894.1 358.2 925.5 360.1 956.8 363.4C985.0 366.3 1013.3 370.4 1041.5 374.5C1060.3 377.2 1079.1 382.0 1097.9 382.0"/>
<path d="M657.7 382.9C674.5 382.9 691.4 378.1 708.2 375.3C733.5 371.2 758.7 367.1 784.0 364.2C812.0 360.9 840.1 359.0 868.2 359.0C896.2 358.9 924.3 360.8 952.3 364.0C977.6 366.9 1002.9 370.8 1028.1 374.9C1045.0 377.6 1061.8 382.4 1078.6 382.3"/>
<path d="M637.8 384.0C655.7 384.0 673.5 379.2 691.4 376.5C718.1 372.4 744.9 368.4 771.7 365.5C801.4 362.3 831.2 360.4 860.9 360.5C890.7 360.6 920.4 362.6 950.2 365.9C977.0 369.0 1003.7 373.1 1030.5 377.4C1048.4 380.2 1066.2 385.1 1084.1 385.1"/>
<path d="M658.9 384.8C675.7 384.8 692.4 380.0 709.2 377.2C734.4 373.0 759.5 368.9 784.7 366.0C812.6 362.7 840.5 360.8 868.5 360.8C896.4 360.9 924.4 362.8 952.3 366.1C977.5 369.1 1002.6 373.3 1027.8 377.5C1044.5 380.3 1061.3 385.2 1078.1 385.2"/>
<path d="M636.9 385.3C654.8 385.4 672.8 380.5 690.7 377.8C717.7 373.7 744.6 369.7 771.5 366.8C801.4 363.5 831.3 361.7 861.2 361.9C891.1 362.0 921.0 364.1 950.9 367.5C977.9 370.7 1004.8 374.9 1031.7 379.3C1049.6 382.2 1067.6 387.2 1085.5 387.3"/>
<path d="M650.8 386.0C668.7 386.1 686.6 381.2 704.4 378.5C731.3 374.3 758.1 370.3 784.9 367.4C814.7 364.2 844.5 362.4 874.3 362.5C904.1 362.7 933.9 364.8 963.7 368.3C990.5 371.5 1017.4 375.8 1044.2 380.2C1062.1 383.1 1079.9 388.2 1097.8 388.3"/>
<path d="M632.6 386.5C650.6 386.6 668.6 381.7 686.6 379.0C713.6 374.8 740.6 370.8 767.5 367.9C797.5 364.6 827.5 362.9 857.5 363.0C887.5 363.2 917.5 365.3 947.5 368.9C974.5 372.1 1001.5 376.4 1028.4 380.9C1046.4 383.8 1064.4 388.9 1082.4 389.0"/>
<path d="M609.6 389.1C627.0 389.1 644.4 384.1 661.8 381.3C687.8 377.0 713.9 372.7 740.0 369.7C769.0 366.3 798.0 364.4 827.0 364.4C855.9 364.5 884.9 366.6 913.9 370.1C940.0 373.2 966.1 377.5 992.1 381.9C1009.5 384.9 1026.9 390.0 1044.3 390.0"/>
<path d="M618.7 390.8C636.1 390.8 653.5 385.7 670.9 382.8C696.9 378.4 723.0 374.1 749.1 371.0C778.1 367.5 807.1 365.5 836.1 365.5C865.0 365.5 894.0 367.5 923.0 371.0C949.1 374.2 975.2 378.5 1001.2 382.9C1018.6 385.9 1036.0 391.0 1053.4 391.0"/>
<path d="M662.2 391.5C679.6 391.5 696.9 386.4 714.3 383.4C740.4 379.0 766.4 374.7 792.5 371.5C821.4 368.0 850.4 366.0 879.3 366.0C908.2 366.0 937.2 368.1 966.1 371.6C992.2 374.7 1018.2 379.1 1044.3 383.5C1061.7 386.5 1079.0 391.6 1096.4 391.6"/>
<path d="M627.3 397.9C644.7 397.9 662.1 392.5 679.5 389.4C705.5 384.7 731.6 380.1 757.7 376.8C786.7 373.1 815.6 371.0 844.6 371.0C873.6 370.9 902.5 373.1 931.5 376.7C957.6 380.0 983.7 384.6 1009.7 389.2C1027.1 392.3 1044.5 397.7 1061.9 397.7"/>
<path d="M652.7 402.2C670.1 402.2 687.5 396.6 704.8 393.4C730.9 388.5 757.0 383.8 783.0 380.3C812.0 376.5 840.9 374.3 869.9 374.2C898.9 374.2 927.8 376.4 956.8 380.1C982.8 383.5 1008.9 388.2 1035.0 393.0C1052.3 396.2 1069.7 401.7 1087.1 401.7"/>
<path d="M641.0 404.9C658.4 404.9 675.7 399.2 693.1 395.9C719.2 391.0 745.2 386.1 771.3 382.6C800.2 378.7 829.2 376.5 858.1 376.5C887.0 376.4 916.0 378.7 944.9 382.5C971.0 386.0 997.0 390.8 1023.1 395.7C1040.5 398.9 1057.8 404.6 1075.2 404.6"/>
<path d="M660.8 408.2C678.2 408.2 695.6 402.3 712.9 399.0C739.0 393.9 765.1 389.0 791.1 385.4C820.1 381.4 849.0 379.0 878.0 379.0C907.0 379.0 935.9 381.3 964.9 385.2C990.9 388.8 1017.0 393.7 1043.1 398.7C1060.4 402.0 1077.8 407.8 1095.2 407.8"/>
<path d="M634.3 408.7C651.7 408.7 669.0 402.8 686.4 399.4C712.5 394.4 738.5 389.4 764.6 385.8C793.5 381.7 822.5 379.4 851.4 379.4C880.3 379.3 909.3 381.6 938.2 385.6C964.3 389.1 990.3 394.0 1016.4 399.0C1033.8 402.4 1051.1 408.2 1068.5 408.2"/>
<path d="M651.0 409.9C668.4 409.9 685.7 404.0 703.1 400.6C729.1 395.5 755.2 390.5 781.2 386.8C810.2 382.8 839.1 380.4 868.0 380.4C897.0 380.4 925.9 382.7 954.9 386.7C980.9 390.3 1007.0 395.3 1033.0 400.3C1050.4 403.7 1067.7 409.6 1085.1 409.6"/>
<path d="M661.3 411.6C678.7 411.6 696.0 405.6 713.4 402.1C739.4 396.9 765.4 391.9 791.5 388.2C820.4 384.1 849.3 381.7 878.2 381.6C907.2 381.6 936.1 383.9 965.0 387.9C991.1 391.6 1017.1 396.6 1043.1 401.7C1060.5 405.1 1077.8 411.0 1095.2 411.0"/>
<path d="M629.0 411.6C646.4 411.6 663.7 405.6 681.1 402.2C707.1 397.0 733.2 391.9 759.2 388.3C788.2 384.2 817.1 381.8 846.0 381.8C875.0 381.8 903.9 384.1 932.9 388.2C958.9 391.8 985.0 396.9 1011.0 402.0C1028.4 405.4 1045.7 411.4 1063.1 411.4"/>
<path d="M635.5 414.0C653.8 414.0 672.1 407.9 690.3 404.4C717.7 399.1 745.2 393.9 772.6 390.2C803.0 386.0 833.5 383.6 864.0 383.6C894.4 383.5 924.9 385.9 955.3 390.0C982.7 393.7 1010.2 398.8 1037.6 404.0C1055.8 407.5 1074.1 413.5 1092.4 413.5"/>
<path d="M658.0 414.0C674.5 414.0 690.9 407.9 707.4 404.4C732.1 399.2 756.8 394.0 781.5 390.3C808.9 386.1 836.3 383.7 863.8 383.7C891.2 383.7 918.6 386.1 946.0 390.2C970.7 394.0 995.4 399.1 1020.1 404.3C1036.6 407.8 1053.0 413.9 1069.5 413.9"/>
<path d="M671.1 427.4C688.5 427.4 705.8 420.7 723.2 416.9C749.3 411.1 775.3 405.5 801.4 401.4C830.3 396.9 859.3 394.2 888.2 394.2C917.1 394.2 946.1 396.7 975.0 401.2C1001.1 405.3 1027.1 410.9 1053.2 416.6C1070.6 420.4 1087.9 427.0 1105.3 427.0"/>
<path d="M613.0 435.5C630.4 435.5 647.7 428.5 665.1 424.5C691.2 418.4 717.2 412.5 743.3 408.2C772.2 403.4 801.2 400.7 830.1 400.7C859.1 400.7 888.1 403.4 917.0 408.1C943.1 412.4 969.1 418.3 995.2 424.3C1012.6 428.3 1029.9 435.3 1047.3 435.3"/>
<path d="M644.5 439.8C661.9 439.8 679.3 432.6 696.6 428.4C722.7 422.2 748.8 416.1 774.9 411.7C803.8 406.8 832.8 403.9 861.8 403.9C890.7 403.8 919.7 406.6 948.6 411.4C974.7 415.8 1000.8 421.8 1026.9 427.9C1044.2 432.0 1061.6 439.1 1079.0 439.1"/>
<path d="M659.4 445.1C676.8 445.1 694.2 437.7 711.6 433.4C737.6 427.0 763.7 420.7 789.8 416.2C818.8 411.1 847.7 408.2 876.7 408.1C905.7 408.1 934.6 411.0 963.6 416.0C989.7 420.5 1015.8 426.7 1041.8 433.0C1059.2 437.3 1076.6 444.6 1094.0 444.6"/>
<path d="M635.9 461.3C653.3 461.3 670.7 453.2 688.0 448.5C714.1 441.6 740.2 434.7 766.2 429.8C795.2 424.2 824.2 421.0 853.2 421.0C882.1 421.0 911.1 424.1 940.0 429.6C966.1 434.6 992.2 441.4 1018.3 448.3C1035.6 452.9 1053.0 461.0 1070.4 461.0"/>
<path d="M645.7 464.2C663.1 464.2 680.5 456.0 697.9 451.3C723.9 444.2 750.0 437.2 776.1 432.2C805.1 426.6 834.0 423.4 863.0 423.3C892.0 423.3 920.9 426.5 949.9 432.1C976.0 437.1 1002.1 444.0 1028.1 451.1C1045.5 455.8 1062.9 464.0 1080.3 464.0"/>
<path d="M651.5 470.9C668.9 470.9 686.3 462.4 703.6 457.5C729.7 450.2 755.8 443.0 781.8 437.8C810.8 432.0 839.7 428.6 868.7 428.6C897.7 428.6 926.6 431.9 955.6 437.7C981.6 442.9 1007.7 450.1 1033.8 457.4C1051.1 462.2 1068.5 470.7 1085.9 470.7"/>
<path d="M639.3 485.7C656.7 485.7 674.1 476.6 691.4 471.4C717.5 463.5 743.6 455.9 769.6 450.3C798.6 444.1 827.6 440.5 856.5 440.6C885.5 440.6 914.5 444.2 943.4 450.4C969.5 456.1 995.6 463.8 1021.7 471.7C1039.0 476.9 1056.4 486.1 1073.8 486.1"/>
<path d="M636.2 498.4C653.6 498.4 671.0 488.8 688.3 483.2C714.4 474.9 740.5 466.8 766.5 460.9C795.5 454.3 824.4 450.5 853.4 450.5C882.4 450.5 911.3 454.3 940.3 460.9C966.3 466.9 992.4 475.0 1018.5 483.4C1035.8 488.9 1053.2 498.6 1070.6 498.6"/>
</g>
<g fill="#2a2a2a" fill-opacity="0.72">
<circle cx="52.8" cy="39.7" r="2.0"/>
<circle cx="82.3" cy="45.2" r="2.0"/>
<circle cx="64.9" cy="53.9" r="2.0"/>
<circle cx="67.1" cy="52.9" r="2.0"/>
<circle cx="84.7" cy="71.1" r="2.0"/>
<circle cx="68.1" cy="84.6" r="2.0"/>
<circle cx="59.8" cy="91.5" r="2.0"/>
<circle cx="73.6" cy="92.9" r="2.0"/>
<circle cx="76.6" cy="90.3" r="2.0"/>
<circle cx="76.6" cy="94.7" r="2.0"/>
<circle cx="84.3" cy="95.3" r="2.0"/>
<circle cx="62.1" cy="100.8" r="2.0"/>
<circle cx="73.6" cy="107.9" r="2.0"/>
<circle cx="77.2" cy="109.3" r="2.0"/>
<circle cx="71.4" cy="111.9" r="2.0"/>
<circle cx="90.8" cy="109.5" r="2.0"/>
<circle cx="94.8" cy="115.9" r="2.0"/>
<circle cx="47.5" cy="119.4" r="2.0"/>
<circle cx="52.8" cy="120.0" r="2.0"/>
<circle cx="47.5" cy="126.7" r="2.0"/>
<circle cx="60.4" cy="124.6" r="2.0"/>
<circle cx="72.6" cy="121.0" r="2.0"/>
<circle cx="78.0" cy="119.4" r="2.0"/>
<circle cx="81.3" cy="119.0" r="2.0"/>
<circle cx="86.1" cy="118.4" r="2.0"/>
<circle cx="86.3" cy="122.0" r="2.0"/>
<circle cx="61.0" cy="132.7" r="2.0"/>
<circle cx="65.5" cy="132.1" r="2.0"/>
<circle cx="67.5" cy="136.2" r="2.0"/>
<circle cx="63.1" cy="136.2" r="2.0"/>
<circle cx="73.2" cy="133.5" r="2.0"/>
<circle cx="78.6" cy="135.8" r="2.0"/>
<circle cx="80.0" cy="136.6" r="2.0"/>
<circle cx="71.6" cy="141.7" r="2.0"/>
<circle cx="61.5" cy="144.8" r="2.0"/>
<circle cx="62.4" cy="146.7" r="2.0"/>
<circle cx="69.4" cy="149.0" r="2.0"/>
<circle cx="59.6" cy="152.2" r="2.0"/>
<circle cx="63.3" cy="152.7" r="2.0"/>
<circle cx="43.5" cy="153.5" r="2.0"/>
<circle cx="54.5" cy="159.5" r="2.0"/>
<circle cx="62.0" cy="161.9" r="2.0"/>
<circle cx="73.4" cy="162.6" r="2.0"/>
<circle cx="82.2" cy="163.6" r="2.0"/>
<circle cx="39.6" cy="389.1" r="2.0"/>
<circle cx="48.7" cy="390.8" r="2.0"/>
<circle cx="57.6" cy="381.2" r="2.0"/>
<circle cx="62.6" cy="386.5" r="2.0"/>
<circle cx="66.9" cy="385.3" r="2.0"/>
<circle cx="67.8" cy="384.0" r="2.0"/>
<circle cx="80.8" cy="386.0" r="2.0"/>
<circle cx="88.9" cy="384.8" r="2.0"/>
<circle cx="87.7" cy="382.9" r="2.0"/>
<circle cx="92.2" cy="391.5" r="2.0"/>
<circle cx="57.3" cy="397.9" r="2.0"/>
<circle cx="71.0" cy="404.9" r="2.0"/>
<circle cx="82.7" cy="402.2" r="2.0"/>
<circle cx="64.3" cy="408.7" r="2.0"/>
<circle cx="59.0" cy="411.6" r="2.0"/>
<circle cx="65.5" cy="414.0" r="2.0"/>
<circle cx="81.0" cy="409.9" r="2.0"/>
<circle cx="90.8" cy="408.2" r="2.0"/>
<circle cx="91.3" cy="411.6" r="2.0"/>
<circle cx="88.0" cy="414.0" r="2.0"/>
<circle cx="101.1" cy="427.4" r="2.0"/>
<circle cx="43.0" cy="435.5" r="2.0"/>
<circle cx="74.5" cy="439.8" r="2.0"/>
<circle cx="89.4" cy="445.1" r="2.0"/>
<circle cx="65.9" cy="461.3" r="2.0"/>
<circle cx="75.7" cy="464.2" r="2.0"/>
<circle cx="81.5" cy="470.9" r="2.0"/>
<circle cx="69.3" cy="485.7" r="2.0"/>
<circle cx="66.2" cy="498.4" r="2.0"/>
<circle cx="64.7" cy="356.8" r="2.0"/>
<circle cx="68.5" cy="353.8" r="2.0"/>
<circle cx="74.4" cy="356.8" r="2.0"/>
<circle cx="79.9" cy="356.0" r="2.0"/>
<circle cx="88.7" cy="359.7" r="2.0"/>
<circle cx="94.6" cy="360.0" r="2.0"/>
<circle cx="78.4" cy="364.1" r="2.0"/>
<circle cx="79.4" cy="361.9" r="2.0"/>
<circle cx="89.7" cy="364.9" r="2.0"/>
<circle cx="61.5" cy="366.8" r="2.0"/>
<circle cx="64.4" cy="365.9" r="2.0"/>
<circle cx="78.4" cy="370.0" r="2.0"/>
<circle cx="84.7" cy="371.5" r="2.0"/>
<circle cx="95.3" cy="372.2" r="2.0"/>
<circle cx="52.6" cy="371.5" r="2.0"/>
<circle cx="59.0" cy="374.1" r="2.0"/>
<circle cx="80.3" cy="374.7" r="2.0"/>
<circle cx="46.5" cy="378.5" r="2.0"/>
<circle cx="57.4" cy="380.6" r="2.0"/>
<circle cx="83.8" cy="379.1" r="2.0"/>
<circle cx="90.4" cy="198.7" r="2.0"/>
<circle cx="67.5" cy="196.4" r="2.0"/>
<circle cx="80.5" cy="257.7" r="2.0"/>
<circle cx="95.5" cy="252.5" r="2.0"/>
<circle cx="82.2" cy="247.2" r="2.0"/>
<circle cx="66.3" cy="325.2" r="2.0"/>
<circle cx="84.4" cy="238.7" r="2.0"/>
<circle cx="77.9" cy="177.8" r="2.0"/>
<circle cx="49.6" cy="269.8" r="2.0"/>
<circle cx="85.5" cy="234.7" r="2.0"/>
<circle cx="60.8" cy="315.0" r="2.0"/>
<circle cx="82.8" cy="226.0" r="2.0"/>
<circle cx="77.2" cy="297.2" r="2.0"/>
<circle cx="46.0" cy="281.4" r="2.0"/>
<circle cx="79.9" cy="169.0" r="2.0"/>
<circle cx="81.4" cy="317.2" r="2.0"/>
<circle cx="81.2" cy="343.4" r="2.0"/>
<circle cx="45.5" cy="310.1" r="2.0"/>
<circle cx="65.4" cy="262.6" r="2.0"/>
<circle cx="81.0" cy="251.4" r="2.0"/>
<circle cx="79.4" cy="197.2" r="2.0"/>
<circle cx="88.3" cy="343.7" r="2.0"/>
<circle cx="69.3" cy="347.2" r="2.0"/>
<circle cx="79.0" cy="252.8" r="2.0"/>
<circle cx="53.1" cy="338.7" r="2.0"/>
<circle cx="95.7" cy="319.8" r="2.0"/>
<circle cx="60.8" cy="303.6" r="2.0"/>
<circle cx="71.8" cy="238.5" r="2.0"/>
<circle cx="61.0" cy="315.3" r="2.0"/>
<circle cx="76.6" cy="252.9" r="2.0"/>
<circle cx="92.0" cy="333.9" r="2.0"/>
<circle cx="103.6" cy="273.1" r="2.0"/>
<circle cx="59.7" cy="180.9" r="2.0"/>
<circle cx="67.9" cy="219.5" r="2.0"/>
<circle cx="65.7" cy="307.6" r="2.0"/>
<circle cx="83.9" cy="188.3" r="2.0"/>
<circle cx="80.7" cy="335.5" r="2.0"/>
<circle cx="87.3" cy="250.5" r="2.0"/>
<circle cx="61.5" cy="169.9" r="2.0"/>
<circle cx="63.8" cy="253.0" r="2.0"/>
<circle cx="75.8" cy="220.9" r="2.0"/>
<circle cx="43.1" cy="255.6" r="2.0"/>
<circle cx="80.7" cy="181.3" r="2.0"/>
<circle cx="77.8" cy="324.6" r="2.0"/>
<circle cx="80.4" cy="335.4" r="2.0"/>
<circle cx="75.0" cy="287.6" r="2.0"/>
<circle cx="49.5" cy="243.5" r="2.0"/>
<circle cx="60.8" cy="281.4" r="2.0"/>
<circle cx="65.0" cy="345.4" r="2.0"/>
<circle cx="84.3" cy="305.1" r="2.0"/>
<circle cx="76.7" cy="277.1" r="2.0"/>
<circle cx="65.3" cy="243.6" r="2.0"/>
<circle cx="64.6" cy="315.4" r="2.0"/>
<circle cx="72.2" cy="340.6" r="2.0"/>
<circle cx="60.6" cy="169.5" r="2.0"/>
<circle cx="69.0" cy="191.8" r="2.0"/>
<circle cx="76.4" cy="190.4" r="2.0"/>
<circle cx="91.7" cy="270.8" r="2.0"/>
<circle cx="54.5" cy="266.1" r="2.0"/>
<circle cx="49.1" cy="327.2" r="2.0"/>
<circle cx="79.0" cy="298.9" r="2.0"/>
<circle cx="86.2" cy="285.9" r="2.0"/>
<circle cx="77.0" cy="248.5" r="2.0"/>
<circle cx="83.9" cy="199.3" r="2.0"/>
<circle cx="55.6" cy="312.5" r="2.0"/>
<circle cx="65.2" cy="248.9" r="2.0"/>
<circle cx="74.2" cy="322.9" r="2.0"/>
<circle cx="65.6" cy="304.3" r="2.0"/>
<circle cx="49.8" cy="236.2" r="2.0"/>
<circle cx="68.8" cy="219.2" r="2.0"/>
<circle cx="87.7" cy="214.4" r="2.0"/>
<circle cx="84.1" cy="184.4" r="2.0"/>
<circle cx="77.5" cy="191.8" r="2.0"/>
<circle cx="79.6" cy="262.9" r="2.0"/>
<circle cx="81.0" cy="208.9" r="2.0"/>
<circle cx="43.5" cy="175.4" r="2.0"/>
<circle cx="76.0" cy="347.6" r="2.0"/>
<circle cx="74.5" cy="270.9" r="2.0"/>
<circle cx="79.0" cy="237.6" r="2.0"/>
<circle cx="89.7" cy="284.3" r="2.0"/>
<circle cx="76.4" cy="335.3" r="2.0"/>
<circle cx="56.1" cy="172.8" r="2.0"/>
<circle cx="94.9" cy="308.6" r="2.0"/>
<circle cx="67.8" cy="309.4" r="2.0"/>
<circle cx="64.8" cy="301.2" r="2.0"/>
<circle cx="62.0" cy="300.9" r="2.0"/>
<circle cx="68.6" cy="216.8" r="2.0"/>
<circle cx="52.8" cy="308.9" r="2.0"/>
<circle cx="67.3" cy="290.0" r="2.0"/>
<circle cx="78.9" cy="260.0" r="2.0"/>
<circle cx="96.5" cy="173.4" r="2.0"/>
<circle cx="71.5" cy="259.2" r="2.0"/>
<circle cx="84.7" cy="281.8" r="2.0"/>
<circle cx="60.6" cy="292.5" r="2.0"/>
<circle cx="30.3" cy="246.5" r="2.0"/>
<circle cx="58.9" cy="345.9" r="2.0"/>
<circle cx="74.8" cy="259.8" r="2.0"/>
<circle cx="80.0" cy="219.4" r="2.0"/>
<circle cx="91.1" cy="290.0" r="2.0"/>
<circle cx="63.5" cy="182.3" r="2.0"/>
<circle cx="80.5" cy="237.1" r="2.0"/>
<circle cx="87.7" cy="321.9" r="2.0"/>
<circle cx="68.5" cy="334.2" r="2.0"/>
<circle cx="39.0" cy="339.2" r="2.0"/>
<circle cx="70.1" cy="293.6" r="2.0"/>
<circle cx="49.5" cy="323.2" r="2.0"/>
<circle cx="65.3" cy="310.5" r="2.0"/>
<circle cx="78.9" cy="249.8" r="2.0"/>
<circle cx="76.8" cy="263.2" r="2.0"/>
<circle cx="83.4" cy="330.2" r="2.0"/>
<circle cx="63.8" cy="188.6" r="2.0"/>
<circle cx="98.2" cy="251.8" r="2.0"/>
<circle cx="86.9" cy="316.1" r="2.0"/>
<circle cx="63.5" cy="167.6" r="2.0"/>
<circle cx="73.8" cy="298.4" r="2.0"/>
<circle cx="63.1" cy="252.7" r="2.0"/>
<circle cx="78.6" cy="194.8" r="2.0"/>
<circle cx="78.5" cy="201.0" r="2.0"/>
<circle cx="77.3" cy="321.3" r="2.0"/>
<circle cx="77.6" cy="167.5" r="2.0"/>
<circle cx="80.1" cy="237.9" r="2.0"/>
<circle cx="59.8" cy="260.0" r="2.0"/>
<circle cx="71.4" cy="196.2" r="2.0"/>
<circle cx="91.0" cy="344.0" r="2.0"/>
<circle cx="70.4" cy="210.5" r="2.0"/>
<circle cx="53.0" cy="280.4" r="2.0"/>
<circle cx="61.7" cy="200.8" r="2.0"/>
<circle cx="91.5" cy="329.1" r="2.0"/>
<circle cx="60.7" cy="229.0" r="2.0"/>
<circle cx="49.3" cy="219.8" r="2.0"/>
<circle cx="65.5" cy="284.1" r="2.0"/>
<circle cx="65.1" cy="168.8" r="2.0"/>
<circle cx="78.8" cy="217.8" r="2.0"/>
<circle cx="97.3" cy="299.6" r="2.0"/>
<circle cx="69.1" cy="339.3" r="2.0"/>
<circle cx="43.7" cy="262.6" r="2.0"/>
<circle cx="82.8" cy="283.4" r="2.0"/>
<circle cx="75.4" cy="256.8" r="2.0"/>
<circle cx="87.8" cy="169.0" r="2.0"/>
<circle cx="77.3" cy="187.8" r="2.0"/>
<circle cx="75.2" cy="213.6" r="2.0"/>
<circle cx="83.0" cy="222.6" r="2.0"/>
<circle cx="77.3" cy="303.5" r="2.0"/>
<circle cx="83.8" cy="287.5" r="2.0"/>
<circle cx="87.6" cy="227.6" r="2.0"/>
<circle cx="70.3" cy="326.5" r="2.0"/>
<circle cx="60.3" cy="243.6" r="2.0"/>
<circle cx="51.3" cy="343.0" r="2.0"/>
<circle cx="60.3" cy="204.9" r="2.0"/>
<circle cx="74.8" cy="261.8" r="2.0"/>
<circle cx="79.5" cy="309.4" r="2.0"/>
<circle cx="51.6" cy="192.1" r="2.0"/>
<circle cx="72.6" cy="237.4" r="2.0"/>
<circle cx="88.2" cy="216.6" r="2.0"/>
<circle cx="66.5" cy="185.6" r="2.0"/>
<circle cx="71.9" cy="342.8" r="2.0"/>
<circle cx="79.2" cy="285.3" r="2.0"/>
<circle cx="59.1" cy="286.2" r="2.0"/>
<circle cx="91.8" cy="340.2" r="2.0"/>
<circle cx="32.5" cy="316.5" r="2.0"/>
<circle cx="106.3" cy="187.6" r="2.0"/>
<circle cx="84.5" cy="279.4" r="2.0"/>
<circle cx="67.1" cy="345.0" r="2.0"/>
<circle cx="80.5" cy="309.9" r="2.0"/>
<circle cx="98.1" cy="272.3" r="2.0"/>
<circle cx="75.4" cy="307.0" r="2.0"/>
<circle cx="58.1" cy="284.3" r="2.0"/>
<circle cx="55.9" cy="241.1" r="2.0"/>
<circle cx="56.7" cy="249.1" r="2.0"/>
<circle cx="50.7" cy="260.7" r="2.0"/>
<circle cx="68.9" cy="333.9" r="2.0"/>
<circle cx="79.1" cy="204.7" r="2.0"/>
<circle cx="75.6" cy="216.3" r="2.0"/>
<circle cx="79.0" cy="251.7" r="2.0"/>
<circle cx="62.2" cy="261.4" r="2.0"/>
<circle cx="64.6" cy="304.9" r="2.0"/>
<circle cx="84.1" cy="277.2" r="2.0"/>
<circle cx="67.9" cy="213.5" r="2.0"/>
<circle cx="97.7" cy="224.5" r="2.0"/>
<circle cx="96.9" cy="240.6" r="2.0"/>
<circle cx="58.6" cy="267.1" r="2.0"/>
<circle cx="61.6" cy="224.4" r="2.0"/>
<circle cx="95.4" cy="315.9" r="2.0"/>
<circle cx="74.2" cy="310.0" r="2.0"/>
<circle cx="85.2" cy="216.9" r="2.0"/>
<circle cx="78.3" cy="240.8" r="2.0"/>
<circle cx="102.7" cy="266.2" r="2.0"/>
<circle cx="58.5" cy="200.4" r="2.0"/>
<circle cx="76.9" cy="248.5" r="2.0"/>
<circle cx="60.5" cy="193.4" r="2.0"/>
<circle cx="61.2" cy="190.6" r="2.0"/>
<circle cx="102.6" cy="193.0" r="2.0"/>
<circle cx="86.5" cy="274.3" r="2.0"/>
<circle cx="74.6" cy="191.5" r="2.0"/>
<circle cx="73.3" cy="246.8" r="2.0"/>
<circle cx="69.4" cy="198.3" r="2.0"/>
<circle cx="57.9" cy="216.9" r="2.0"/>
<circle cx="63.0" cy="170.4" r="2.0"/>
<circle cx="83.1" cy="314.9" r="2.0"/>
<circle cx="73.9" cy="295.3" r="2.0"/>
<circle cx="67.1" cy="231.5" r="2.0"/>
<circle cx="75.3" cy="270.5" r="2.0"/>
<circle cx="55.1" cy="169.6" r="2.0"/>
<circle cx="79.6" cy="265.0" r="2.0"/>
<circle cx="82.4" cy="168.6" r="2.0"/>
<circle cx="50.6" cy="305.1" r="2.0"/>
<circle cx="88.9" cy="224.5" r="2.0"/>
<circle cx="59.9" cy="261.3" r="2.0"/>
<circle cx="86.3" cy="247.7" r="2.0"/>
<circle cx="52.1" cy="173.4" r="2.0"/>
<circle cx="66.7" cy="339.6" r="2.0"/>
<circle cx="82.5" cy="299.1" r="2.0"/>
<circle cx="79.0" cy="239.7" r="2.0"/>
<circle cx="85.3" cy="330.4" r="2.0"/>
<circle cx="78.9" cy="198.2" r="2.0"/>
<circle cx="73.1" cy="291.2" r="2.0"/>
<circle cx="81.7" cy="329.2" r="2.0"/>
<circle cx="101.4" cy="271.9" r="2.0"/>
<circle cx="97.3" cy="305.7" r="2.0"/>
<circle cx="77.4" cy="276.8" r="2.0"/>
<circle cx="56.9" cy="267.7" r="2.0"/>
<circle cx="50.0" cy="300.0" r="2.0"/>
<circle cx="85.9" cy="296.4" r="2.0"/>
<circle cx="73.3" cy="258.5" r="2.0"/>
<circle cx="89.2" cy="180.8" r="2.0"/>
<circle cx="80.0" cy="254.1" r="2.0"/>
<circle cx="75.8" cy="232.2" r="2.0"/>
<circle cx="104.2" cy="180.9" r="2.0"/>
<circle cx="76.0" cy="302.3" r="2.0"/>
<circle cx="81.3" cy="325.0" r="2.0"/>
<circle cx="49.6" cy="267.8" r="2.0"/>
<circle cx="53.7" cy="296.8" r="2.0"/>
<circle cx="80.8" cy="305.2" r="2.0"/>
<circle cx="40.8" cy="211.6" r="2.0"/>
<circle cx="84.8" cy="314.6" r="2.0"/>
<circle cx="108.6" cy="277.3" r="2.0"/>
<circle cx="65.1" cy="284.9" r="2.0"/>
<circle cx="51.7" cy="328.2" r="2.0"/>
<circle cx="70.6" cy="309.8" r="2.0"/>
<circle cx="72.9" cy="182.2" r="2.0"/>
<circle cx="73.3" cy="348.1" r="2.0"/>
<circle cx="59.1" cy="239.5" r="2.0"/>
<circle cx="73.4" cy="241.8" r="2.0"/>
<circle cx="73.6" cy="204.0" r="2.0"/>
<circle cx="60.7" cy="271.7" r="2.0"/>
<circle cx="80.1" cy="245.8" r="2.0"/>
<circle cx="92.6" cy="331.1" r="2.0"/>
<circle cx="68.4" cy="343.8" r="2.0"/>
<circle cx="49.3" cy="264.1" r="2.0"/>
<circle cx="69.9" cy="297.4" r="2.0"/>
<circle cx="88.8" cy="250.5" r="2.0"/>
<circle cx="75.1" cy="212.4" r="2.0"/>
<circle cx="79.7" cy="289.7" r="2.0"/>
<circle cx="78.5" cy="318.5" r="2.0"/>
<circle cx="62.8" cy="222.7" r="2.0"/>
<circle cx="63.1" cy="311.9" r="2.0"/>
<circle cx="58.9" cy="284.3" r="2.0"/>
<circle cx="73.2" cy="255.9" r="2.0"/>
<circle cx="106.1" cy="231.4" r="2.0"/>
<circle cx="66.7" cy="333.5" r="2.0"/>
<circle cx="80.5" cy="244.8" r="2.0"/>
<circle cx="78.0" cy="272.4" r="2.0"/>
<circle cx="30.2" cy="222.8" r="2.0"/>
<circle cx="85.0" cy="283.6" r="2.0"/>
<circle cx="83.3" cy="247.9" r="2.0"/>
<circle cx="51.6" cy="300.7" r="2.0"/>
<circle cx="93.4" cy="257.7" r="2.0"/>
<circle cx="87.7" cy="196.0" r="2.0"/>
<circle cx="54.5" cy="235.8" r="2.0"/>
<circle cx="80.7" cy="331.2" r="2.0"/>
<circle cx="50.5" cy="290.4" r="2.0"/>
<circle cx="72.3" cy="276.7" r="2.0"/>
<circle cx="71.6" cy="238.8" r="2.0"/>
<circle cx="80.9" cy="281.5" r="2.0"/>
<circle cx="75.4" cy="175.2" r="2.0"/>
<circle cx="77.9" cy="249.3" r="2.0"/>
<circle cx="40.3" cy="327.9" r="2.0"/>
<circle cx="69.6" cy="252.6" r="2.0"/>
<circle cx="75.2" cy="263.5" r="2.0"/>
<circle cx="66.9" cy="349.9" r="2.0"/>
<circle cx="77.7" cy="338.7" r="2.0"/>
<circle cx="56.8" cy="294.6" r="2.0"/>
<circle cx="66.6" cy="194.1" r="2.0"/>
<circle cx="61.3" cy="172.6" r="2.0"/>
<circle cx="82.9" cy="335.7" r="2.0"/>
<circle cx="75.4" cy="222.2" r="2.0"/>
<circle cx="75.2" cy="242.2" r="2.0"/>
<circle cx="51.5" cy="266.1" r="2.0"/>
<circle cx="69.4" cy="234.8" r="2.0"/>
<circle cx="67.8" cy="296.7" r="2.0"/>
<circle cx="66.8" cy="240.5" r="2.0"/>
<circle cx="86.4" cy="303.9" r="2.0"/>
<circle cx="57.2" cy="209.4" r="2.0"/>
<circle cx="62.1" cy="288.5" r="2.0"/>
<circle cx="54.5" cy="241.8" r="2.0"/>
<circle cx="82.4" cy="268.7" r="2.0"/>
<circle cx="58.3" cy="184.9" r="2.0"/>
<circle cx="73.9" cy="327.8" r="2.0"/>
<circle cx="84.6" cy="246.1" r="2.0"/>
<circle cx="76.5" cy="317.8" r="2.0"/>
<circle cx="67.2" cy="298.4" r="2.0"/>
<circle cx="87.5" cy="272.8" r="2.0"/>
<circle cx="84.7" cy="342.9" r="2.0"/>
<circle cx="64.1" cy="341.3" r="2.0"/>
<circle cx="78.3" cy="204.5" r="2.0"/>
<circle cx="70.1" cy="230.8" r="2.0"/>
<circle cx="75.5" cy="209.8" r="2.0"/>
<circle cx="64.8" cy="332.2" r="2.0"/>
<circle cx="72.3" cy="250.6" r="2.0"/>
<circle cx="49.3" cy="204.2" r="2.0"/>
<circle cx="54.1" cy="254.9" r="2.0"/>
<circle cx="97.5" cy="195.7" r="2.0"/>
<circle cx="101.1" cy="335.1" r="2.0"/>
<circle cx="98.0" cy="219.9" r="2.0"/>
<circle cx="77.7" cy="280.0" r="2.0"/>
<circle cx="66.7" cy="181.8" r="2.0"/>
<circle cx="67.7" cy="315.6" r="2.0"/>
<circle cx="50.1" cy="244.4" r="2.0"/>
<circle cx="62.5" cy="217.0" r="2.0"/>
<circle cx="108.8" cy="210.3" r="2.0"/>
<circle cx="62.1" cy="192.8" r="2.0"/>
<circle cx="68.1" cy="304.5" r="2.0"/>
<circle cx="49.3" cy="264.8" r="2.0"/>
<circle cx="53.7" cy="259.4" r="2.0"/>
<circle cx="77.3" cy="327.1" r="2.0"/>
<circle cx="78.4" cy="172.5" r="2.0"/>
<circle cx="85.1" cy="205.7" r="2.0"/>
</g>
<g fill="#2a2a2a" fill-opacity="0.72">
<circle cx="622.8" cy="39.7" r="2.0"/>
<circle cx="652.3" cy="45.2" r="2.0"/>
<circle cx="634.9" cy="53.9" r="2.0"/>
<circle cx="637.1" cy="52.9" r="2.0"/>
<circle cx="654.7" cy="71.1" r="2.0"/>
<circle cx="638.1" cy="84.6" r="2.0"/>
<circle cx="629.8" cy="91.5" r="2.0"/>
<circle cx="643.6" cy="92.9" r="2.0"/>
<circle cx="646.6" cy="90.3" r="2.0"/>
<circle cx="646.6" cy="94.7" r="2.0"/>
<circle cx="654.3" cy="95.3" r="2.0"/>
<circle cx="632.1" cy="100.8" r="2.0"/>
<circle cx="643.6" cy="107.9" r="2.0"/>
<circle cx="647.2" cy="109.3" r="2.0"/>
<circle cx="641.4" cy="111.9" r="2.0"/>
<circle cx="660.8" cy="109.5" r="2.0"/>
<circle cx="664.8" cy="115.9" r="2.0"/>
<circle cx="617.5" cy="119.4" r="2.0"/>
<circle cx="622.8" cy="120.0" r="2.0"/>
<circle cx="617.5" cy="126.7" r="2.0"/>
<circle cx="630.4" cy="124.6" r="2.0"/>
<circle cx="642.6" cy="121.0" r="2.0"/>
<circle cx="648.0" cy="119.4" r="2.0"/>
<circle cx="651.3" cy="119.0" r="2.0"/>
<circle cx="656.1" cy="118.4" r="2.0"/>
<circle cx="656.3" cy="122.0" r="2.0"/>
<circle cx="631.0" cy="132.7" r="2.0"/>
<circle cx="635.5" cy="132.1" r="2.0"/>
<circle cx="637.5" cy="136.2" r="2.0"/>
<circle cx="633.1" cy="136.2" r="2.0"/>
<circle cx="643.2" cy="133.5" r="2.0"/>
<circle cx="648.6" cy="135.8" r="2.0"/>
<circle cx="650.0" cy="136.6" r="2.0"/>
<circle cx="641.6" cy="141.7" r="2.0"/>
<circle cx="631.5" cy="144.8" r="2.0"/>
<circle cx="632.4" cy="146.7" r="2.0"/>
<circle cx="639.4" cy="149.0" r="2.0"/>
<circle cx="629.6" cy="152.2" r="2.0"/>
<circle cx="633.3" cy="152.7" r="2.0"/>
<circle cx="613.5" cy="153.5" r="2.0"/>
<circle cx="624.5" cy="159.5" r="2.0"/>
<circle cx="632.0" cy="161.9" r="2.0"/>
<circle cx="643.4" cy="162.6" r="2.0"/>
<circle cx="652.2" cy="163.6" r="2.0"/>
<circle cx="609.6" cy="389.1" r="2.0"/>
<circle cx="618.7" cy="390.8" r="2.0"/>
<circle cx="627.6" cy="381.2" r="2.0"/>
<circle cx="632.6" cy="386.5" r="2.0"/>
<circle cx="636.9" cy="385.3" r="2.0"/>
<circle cx="637.8" cy="384.0" r="2.0"/>
<circle cx="650.8" cy="386.0" r="2.0"/>
<circle cx="658.9" cy="384.8" r="2.0"/>
<circle cx="657.7" cy="382.9" r="2.0"/>
<circle cx="662.2" cy="391.5" r="2.0"/>
<circle cx="627.3" cy="397.9" r="2.0"/>
<circle cx="641.0" cy="404.9" r="2.0"/>
<circle cx="652.7" cy="402.2" r="2.0"/>
<circle cx="634.3" cy="408.7" r="2.0"/>
<circle cx="629.0" cy="411.6" r="2.0"/>
<circle cx="635.5" cy="414.0" r="2.0"/>
<circle cx="651.0" cy="409.9" r="2.0"/>
<circle cx="660.8" cy="408.2" r="2.0"/>
<circle cx="661.3" cy="411.6" r="2.0"/>
<circle cx="658.0" cy="414.0" r="2.0"/>
<circle cx="671.1" cy="427.4" r="2.0"/>
<circle cx="613.0" cy="435.5" r="2.0"/>
<circle cx="644.5" cy="439.8" r="2.0"/>
<circle cx="659.4" cy="445.1" r="2.0"/>
<circle cx="635.9" cy="461.3" r="2.0"/>
<circle cx="645.7" cy="464.2" r="2.0"/>
<circle cx="651.5" cy="470.9" r="2.0"/>
<circle cx="639.3" cy="485.7" r="2.0"/>
<circle cx="636.2" cy="498.4" r="2.0"/>
<circle cx="634.7" cy="356.8" r="2.0"/>
<circle cx="638.5" cy="353.8" r="2.0"/>
<circle cx="644.4" cy="356.8" r="2.0"/>
<circle cx="649.9" cy="356.0" r="2.0"/>
<circle cx="658.7" cy="359.7" r="2.0"/>
<circle cx="664.6" cy="360.0" r="2.0"/>
<circle cx="648.4" cy="364.1" r="2.0"/>
<circle cx="649.4" cy="361.9" r="2.0"/>
<circle cx="659.7" cy="364.9" r="2.0"/>
<circle cx="631.5" cy="366.8" r="2.0"/>
<circle cx="634.4" cy="365.9" r="2.0"/>
<circle cx="648.4" cy="370.0" r="2.0"/>
<circle cx="654.7" cy="371.5" r="2.0"/>
<circle cx="665.3" cy="372.2" r="2.0"/>
<circle cx="622.6" cy="371.5" r="2.0"/>
<circle cx="629.0" cy="374.1" r="2.0"/>
<circle cx="650.3" cy="374.7" r="2.0"/>
<circle cx="616.5" cy="378.5" r="2.0"/>
<circle cx="627.4" cy="380.6" r="2.0"/>
<circle cx="653.8" cy="379.1" r="2.0"/>
<circle cx="660.4" cy="198.7" r="2.0"/>
<circle cx="637.5" cy="196.4" r="2.0"/>
<circle cx="650.5" cy="257.7" r="2.0"/>
<circle cx="665.5" cy="252.5" r="2.0"/>
<circle cx="652.2" cy="247.2" r="2.0"/>
<circle cx="636.3" cy="325.2" r="2.0"/>
<circle cx="654.4" cy="238.7" r="2.0"/>
<circle cx="647.9" cy="177.8" r="2.0"/>
<circle cx="619.6" cy="269.8" r="2.0"/>
<circle cx="655.5" cy="234.7" r="2.0"/>
<circle cx="630.8" cy="315.0" r="2.0"/>
<circle cx="652.8" cy="226.0" r="2.0"/>
<circle cx="647.2" cy="297.2" r="2.0"/>
<circle cx="616.0" cy="281.4" r="2.0"/>
<circle cx="649.9" cy="169.0" r="2.0"/>
<circle cx="651.4" cy="317.2" r="2.0"/>
<circle cx="651.2" cy="343.4" r="2.0"/>
<circle cx="615.5" cy="310.1" r="2.0"/>
<circle cx="635.4" cy="262.6" r="2.0"/>
<circle cx="651.0" cy="251.4" r="2.0"/>
<circle cx="649.4" cy="197.2" r="2.0"/>
<circle cx="658.3" cy="343.7" r="2.0"/>
<circle cx="639.3" cy="347.2" r="2.0"/>
<circle cx="649.0" cy="252.8" r="2.0"/>
<circle cx="623.1" cy="338.7" r="2.0"/>
<circle cx="665.7" cy="319.8" r="2.0"/>
<circle cx="630.8" cy="303.6" r="2.0"/>
<circle cx="641.8" cy="238.5" r="2.0"/>
<circle cx="631.0" cy="315.3" r="2.0"/>
<circle cx="646.6" cy="252.9" r="2.0"/>
<circle cx="662.0" cy="333.9" r="2.0"/>
<circle cx="673.6" cy="273.1" r="2.0"/>
<circle cx="629.7" cy="180.9" r="2.0"/>
<circle cx="637.9" cy="219.5" r="2.0"/>
<circle cx="635.7" cy="307.6" r="2.0"/>
<circle cx="653.9" cy="188.3" r="2.0"/>
<circle cx="650.7" cy="335.5" r="2.0"/>
<circle cx="657.3" cy="250.5" r="2.0"/>
<circle cx="631.5" cy="169.9" r="2.0"/>
<circle cx="633.8" cy="253.0" r="2.0"/>
<circle cx="645.8" cy="220.9" r="2.0"/>
<circle cx="613.1" cy="255.6" r="2.0"/>
<circle cx="650.7" cy="181.3" r="2.0"/>
<circle cx="647.8" cy="324.6" r="2.0"/>
<circle cx="650.4" cy="335.4" r="2.0"/>
<circle cx="645.0" cy="287.6" r="2.0"/>
<circle cx="619.5" cy="243.5" r="2.0"/>
<circle cx="630.8" cy="281.4" r="2.0"/>
<circle cx="635.0" cy="345.4" r="2.0"/>
<circle cx="654.3" cy="305.1" r="2.0"/>
<circle cx="646.7" cy="277.1" r="2.0"/>
<circle cx="635.3" cy="243.6" r="2.0"/>
<circle cx="634.6" cy="315.4" r="2.0"/>
<circle cx="642.2" cy="340.6" r="2.0"/>
<circle cx="630.6" cy="169.5" r="2.0"/>
<circle cx="639.0" cy="191.8" r="2.0"/>
<circle cx="646.4" cy="190.4" r="2.0"/>
<circle cx="661.7" cy="270.8" r="2.0"/>
<circle cx="624.5" cy="266.1" r="2.0"/>
<circle cx="619.1" cy="327.2" r="2.0"/>
<circle cx="649.0" cy="298.9" r="2.0"/>
<circle cx="656.2" cy="285.9" r="2.0"/>
<circle cx="647.0" cy="248.5" r="2.0"/>
<circle cx="653.9" cy="199.3" r="2.0"/>
<circle cx="625.6" cy="312.5" r="2.0"/>
<circle cx="635.2" cy="248.9" r="2.0"/>
<circle cx="644.2" cy="322.9" r="2.0"/>
<circle cx="635.6" cy="304.3" r="2.0"/>
<circle cx="619.8" cy="236.2" r="2.0"/>
<circle cx="638.8" cy="219.2" r="2.0"/>
<circle cx="657.7" cy="214.4" r="2.0"/>
<circle cx="654.1" cy="184.4" r="2.0"/>
<circle cx="647.5" cy="191.8" r="2.0"/>
<circle cx="649.6" cy="262.9" r="2.0"/>
<circle cx="651.0" cy="208.9" r="2.0"/>
<circle cx="613.5" cy="175.4" r="2.0"/>
<circle cx="646.0" cy="347.6" r="2.0"/>
<circle cx="644.5" cy="270.9" r="2.0"/>
<circle cx="649.0" cy="237.6" r="2.0"/>
<circle cx="659.7" cy="284.3" r="2.0"/>
<circle cx="646.4" cy="335.3" r="2.0"/>
<circle cx="626.1" cy="172.8" r="2.0"/>
<circle cx="664.9" cy="308.6" r="2.0"/>
<circle cx="637.8" cy="309.4" r="2.0"/>
<circle cx="634.8" cy="301.2" r="2.0"/>
<circle cx="632.0" cy="300.9" r="2.0"/>
<circle cx="638.6" cy="216.8" r="2.0"/>
<circle cx="622.8" cy="308.9" r="2.0"/>
<circle cx="637.3" cy="290.0" r="2.0"/>
<circle cx="648.9" cy="260.0" r="2.0"/>
<circle cx="666.5" cy="173.4" r="2.0"/>
<circle cx="641.5" cy="259.2" r="2.0"/>
<circle cx="654.7" cy="281.8" r="2.0"/>
<circle cx="630.6" cy="292.5" r="2.0"/>
<circle cx="600.3" cy="246.5" r="2.0"/>
<circle cx="628.9" cy="345.9" r="2.0"/>
<circle cx="644.8" cy="259.8" r="2.0"/>
<circle cx="650.0" cy="219.4" r="2.0"/>
<circle cx="661.1" cy="290.0" r="2.0"/>
<circle cx="633.5" cy="182.3" r="2.0"/>
<circle cx="650.5" cy="237.1" r="2.0"/>
<circle cx="657.7" cy="321.9" r="2.0"/>
<circle cx="638.5" cy="334.2" r="2.0"/>
<circle cx="609.0" cy="339.2" r="2.0"/>
<circle cx="640.1" cy="293.6" r="2.0"/>
<circle cx="619.5" cy="323.2" r="2.0"/>
<circle cx="635.3" cy="310.5" r="2.0"/>
<circle cx="648.9" cy="249.8" r="2.0"/>
<circle cx="646.8" cy="263.2" r="2.0"/>
<circle cx="653.4" cy="330.2" r="2.0"/>
<circle cx="633.8" cy="188.6" r="2.0"/>
<circle cx="668.2" cy="251.8" r="2.0"/>
<circle cx="656.9" cy="316.1" r="2.0"/>
<circle cx="633.5" cy="167.6" r="2.0"/>
<circle cx="643.8" cy="298.4" r="2.0"/>
<circle cx="633.1" cy="252.7" r="2.0"/>
<circle cx="648.6" cy="194.8" r="2.0"/>
<circle cx="648.5" cy="201.0" r="2.0"/>
<circle cx="647.3" cy="321.3" r="2.0"/>
<circle cx="647.6" cy="167.5" r="2.0"/>
<circle cx="650.1" cy="237.9" r="2.0"/>
<circle cx="629.8" cy="260.0" r="2.0"/>
<circle cx="641.4" cy="196.2" r="2.0"/>
<circle cx="661.0" cy="344.0" r="2.0"/>
<circle cx="640.4" cy="210.5" r="2.0"/>
<circle cx="623.0" cy="280.4" r="2.0"/>
<circle cx="631.7" cy="200.8" r="2.0"/>
<circle cx="661.5" cy="329.1" r="2.0"/>
<circle cx="630.7" cy="229.0" r="2.0"/>
<circle cx="619.3" cy="219.8" r="2.0"/>
<circle cx="635.5" cy="284.1" r="2.0"/>
<circle cx="635.1" cy="168.8" r="2.0"/>
<circle cx="648.8" cy="217.8" r="2.0"/>
<circle cx="667.3" cy="299.6" r="2.0"/>
<circle cx="639.1" cy="339.3" r="2.0"/>
<circle cx="613.7" cy="262.6" r="2.0"/>
<circle cx="652.8" cy="283.4" r="2.0"/>
<circle cx="645.4" cy="256.8" r="2.0"/>
<circle cx="657.8" cy="169.0" r="2.0"/>
<circle cx="647.3" cy="187.8" r="2.0"/>
<circle cx="645.2" cy="213.6" r="2.0"/>
<circle cx="653.0" cy="222.6" r="2.0"/>
<circle cx="647.3" cy="303.5" r="2.0"/>
<circle cx="653.8" cy="287.5" r="2.0"/>
<circle cx="657.6" cy="227.6" r="2.0"/>
<circle cx="640.3" cy="326.5" r="2.0"/>
<circle cx="630.3" cy="243.6" r="2.0"/>
<circle cx="621.3" cy="343.0" r="2.0"/>
<circle cx="630.3" cy="204.9" r="2.0"/>
<circle cx="644.8" cy="261.8" r="2.0"/>
<circle cx="649.5" cy="309.4" r="2.0"/>
<circle cx="621.6" cy="192.1" r="2.0"/>
<circle cx="642.6" cy="237.4" r="2.0"/>
<circle cx="658.2" cy="216.6" r="2.0"/>
<circle cx="636.5" cy="185.6" r="2.0"/>
<circle cx="641.9" cy="342.8" r="2.0"/>
<circle cx="649.2" cy="285.3" r="2.0"/>
<circle cx="629.1" cy="286.2" r="2.0"/>
<circle cx="661.8" cy="340.2" r="2.0"/>
<circle cx="602.5" cy="316.5" r="2.0"/>
<circle cx="676.3" cy="187.6" r="2.0"/>
<circle cx="654.5" cy="279.4" r="2.0"/>
<circle cx="637.1" cy="345.0" r="2.0"/>
<circle cx="650.5" cy="309.9" r="2.0"/>
<circle cx="668.1" cy="272.3" r="2.0"/>
<circle cx="645.4" cy="307.0" r="2.0"/>
<circle cx="628.1" cy="284.3" r="2.0"/>
<circle cx="625.9" cy="241.1" r="2.0"/>
<circle cx="626.7" cy="249.1" r="2.0"/>
<circle cx="620.7" cy="260.7" r="2.0"/>
<circle cx="638.9" cy="333.9" r="2.0"/>
<circle cx="649.1" cy="204.7" r="2.0"/>
<circle cx="645.6" cy="216.3" r="2.0"/>
<circle cx="649.0" cy="251.7" r="2.0"/>
<circle cx="632.2" cy="261.4" r="2.0"/>
<circle cx="634.6" cy="304.9" r="2.0"/>
<circle cx="654.1" cy="277.2" r="2.0"/>
<circle cx="637.9" cy="213.5" r="2.0"/>
<circle cx="667.7" cy="224.5" r="2.0"/>
<circle cx="666.9" cy="240.6" r="2.0"/>
<circle cx="628.6" cy="267.1" r="2.0"/>
<circle cx="631.6" cy="224.4" r="2.0"/>
<circle cx="665.4" cy="315.9" r="2.0"/>
<circle cx="644.2" cy="310.0" r="2.0"/>
<circle cx="655.2" cy="216.9" r="2.0"/>
<circle cx="648.3" cy="240.8" r="2.0"/>
<circle cx="672.7" cy="266.2" r="2.0"/>
<circle cx="628.5" cy="200.4" r="2.0"/>
<circle cx="646.9" cy="248.5" r="2.0"/>
<circle cx="630.5" cy="193.4" r="2.0"/>
<circle cx="631.2" cy="190.6" r="2.0"/>
<circle cx="672.6" cy="193.0" r="2.0"/>
<circle cx="656.5" cy="274.3" r="2.0"/>
<circle cx="644.6" cy="191.5" r="2.0"/>
<circle cx="643.3" cy="246.8" r="2.0"/>
<circle cx="639.4" cy="198.3" r="2.0"/>
<circle cx="627.9" cy="216.9" r="2.0"/>
<circle cx="633.0" cy="170.4" r="2.0"/>
<circle cx="653.1" cy="314.9" r="2.0"/>
<circle cx="643.9" cy="295.3" r="2.0"/>
<circle cx="637.1" cy="231.5" r="2.0"/>
<circle cx="645.3" cy="270.5" r="2.0"/>
<circle cx="625.1" cy="169.6" r="2.0"/>
<circle cx="649.6" cy="265.0" r="2.0"/>
<circle cx="652.4" cy="168.6" r="2.0"/>
<circle cx="620.6" cy="305.1" r="2.0"/>
<circle cx="658.9" cy="224.5" r="2.0"/>
<circle cx="629.9" cy="261.3" r="2.0"/>
<circle cx="656.3" cy="247.7" r="2.0"/>
<circle cx="622.1" cy="173.4" r="2.0"/>
<circle cx="636.7" cy="339.6" r="2.0"/>
<circle cx="652.5" cy="299.1" r="2.0"/>
<circle cx="649.0" cy="239.7" r="2.0"/>
<circle cx="655.3" cy="330.4" r="2.0"/>
<circle cx="648.9" cy="198.2" r="2.0"/>
<circle cx="643.1" cy="291.2" r="2.0"/>
<circle cx="651.7" cy="329.2" r="2.0"/>
<circle cx="671.4" cy="271.9" r="2.0"/>
<circle cx="667.3" cy="305.7" r="2.0"/>
<circle cx="647.4" cy="276.8" r="2.0"/>
<circle cx="626.9" cy="267.7" r="2.0"/>
<circle cx="620.0" cy="300.0" r="2.0"/>
<circle cx="655.9" cy="296.4" r="2.0"/>
<circle cx="643.3" cy="258.5" r="2.0"/>
<circle cx="659.2" cy="180.8" r="2.0"/>
<circle cx="650.0" cy="254.1" r="2.0"/>
<circle cx="645.8" cy="232.2" r="2.0"/>
<circle cx="674.2" cy="180.9" r="2.0"/>
<circle cx="646.0" cy="302.3" r="2.0"/>
<circle cx="651.3" cy="325.0" r="2.0"/>
<circle cx="619.6" cy="267.8" r="2.0"/>
<circle cx="623.7" cy="296.8" r="2.0"/>
<circle cx="650.8" cy="305.2" r="2.0"/>
<circle cx="610.8" cy="211.6" r="2.0"/>
<circle cx="654.8" cy="314.6" r="2.0"/>
<circle cx="678.6" cy="277.3" r="2.0"/>
<circle cx="635.1" cy="284.9" r="2.0"/>
<circle cx="621.7" cy="328.2" r="2.0"/>
<circle cx="640.6" cy="309.8" r="2.0"/>
<circle cx="642.9" cy="182.2" r="2.0"/>
<circle cx="643.3" cy="348.1" r="2.0"/>
<circle cx="629.1" cy="239.5" r="2.0"/>
<circle cx="643.4" cy="241.8" r="2.0"/>
<circle cx="643.6" cy="204.0" r="2.0"/>
<circle cx="630.7" cy="271.7" r="2.0"/>
<circle cx="650.1" cy="245.8" r="2.0"/>
<circle cx="662.6" cy="331.1" r="2.0"/>
<circle cx="638.4" cy="343.8" r="2.0"/>
<circle cx="619.3" cy="264.1" r="2.0"/>
<circle cx="639.9" cy="297.4" r="2.0"/>
<circle cx="658.8" cy="250.5" r="2.0"/>
<circle cx="645.1" cy="212.4" r="2.0"/>
<circle cx="649.7" cy="289.7" r="2.0"/>
<circle cx="648.5" cy="318.5" r="2.0"/>
<circle cx="632.8" cy="222.7" r="2.0"/>
<circle cx="633.1" cy="311.9" r="2.0"/>
<circle cx="628.9" cy="284.3" r="2.0"/>
<circle cx="643.2" cy="255.9" r="2.0"/>
<circle cx="676.1" cy="231.4" r="2.0"/>
<circle cx="636.7" cy="333.5" r="2.0"/>
<circle cx="650.5" cy="244.8" r="2.0"/>
<circle cx="648.0" cy="272.4" r="2.0"/>
<circle cx="600.2" cy="222.8" r="2.0"/>
<circle cx="655.0" cy="283.6" r="2.0"/>
<circle cx="653.3" cy="247.9" r="2.0"/>
<circle cx="621.6" cy="300.7" r="2.0"/>
<circle cx="663.4" cy="257.7" r="2.0"/>
<circle cx="657.7" cy="196.0" r="2.0"/>
<circle cx="624.5" cy="235.8" r="2.0"/>
<circle cx="650.7" cy="331.2" r="2.0"/>
<circle cx="620.5" cy="290.4" r="2.0"/>
<circle cx="642.3" cy="276.7" r="2.0"/>
<circle cx="641.6" cy="238.8" r="2.0"/>
<circle cx="650.9" cy="281.5" r="2.0"/>
<circle cx="645.4" cy="175.2" r="2.0"/>
<circle cx="647.9" cy="249.3" r="2.0"/>
<circle cx="610.3" cy="327.9" r="2.0"/>
<circle cx="639.6" cy="252.6" r="2.0"/>
<circle cx="645.2" cy="263.5" r="2.0"/>
<circle cx="636.9" cy="349.9" r="2.0"/>
<circle cx="647.7" cy="338.7" r="2.0"/>
<circle cx="626.8" cy="294.6" r="2.0"/>
<circle cx="636.6" cy="194.1" r="2.0"/>
<circle cx="631.3" cy="172.6" r="2.0"/>
<circle cx="652.9" cy="335.7" r="2.0"/>
<circle cx="645.4" cy="222.2" r="2.0"/>
<circle cx="645.2" cy="242.2" r="2.0"/>
<circle cx="621.5" cy="266.1" r="2.0"/>
<circle cx="639.4" cy="234.8" r="2.0"/>
<circle cx="637.8" cy="296.7" r="2.0"/>
<circle cx="636.8" cy="240.5" r="2.0"/>
<circle cx="656.4" cy="303.9" r="2.0"/>
<circle cx="627.2" cy="209.4" r="2.0"/>
<circle cx="632.1" cy="288.5" r="2.0"/>
<circle cx="624.5" cy="241.8" r="2.0"/>
<circle cx="652.4" cy="268.7" r="2.0"/>
<circle cx="628.3" cy="184.9" r="2.0"/>
<circle cx="643.9" cy="327.8" r="2.0"/>
<circle cx="654.6" cy="246.1" r="2.0"/>
<circle cx="646.5" cy="317.8" r="2.0"/>
<circle cx="637.2" cy="298.4" r="2.0"/>
<circle cx="657.5" cy="272.8" r="2.0"/>
<circle cx="654.7" cy="342.9" r="2.0"/>
<circle cx="634.1" cy="341.3" r="2.0"/>
<circle cx="648.3" cy="204.5" r="2.0"/>
<circle cx="640.1" cy="230.8" r="2.0"/>
<circle cx="645.5" cy="209.8" r="2.0"/>
<circle cx="634.8" cy="332.2" r="2.0"/>
<circle cx="642.3" cy="250.6" r="2.0"/>
<circle cx="619.3" cy="204.2" r="2.0"/>
<circle cx="624.1" cy="254.9" r="2.0"/>
<circle cx="667.5" cy="195.7" r="2.0"/>
<circle cx="671.1" cy="335.1" r="2.0"/>
<circle cx="668.0" cy="219.9" r="2.0"/>
<circle cx="647.7" cy="280.0" r="2.0"/>
<circle cx="636.7" cy="181.8" r="2.0"/>
<circle cx="637.7" cy="315.6" r="2.0"/>
<circle cx="620.1" cy="244.4" r="2.0"/>
<circle cx="632.5" cy="217.0" r="2.0"/>
<circle cx="678.8" cy="210.3" r="2.0"/>
<circle cx="632.1" cy="192.8" r="2.0"/>
<circle cx="638.1" cy="304.5" r="2.0"/>
<circle cx="619.3" cy="264.8" r="2.0"/>
<circle cx="623.7" cy="259.4" r="2.0"/>
<circle cx="647.3" cy="327.1" r="2.0"/>
<circle cx="648.4" cy="172.5" r="2.0"/>
<circle cx="655.1" cy="205.7" r="2.0"/>
</g>
<g fill="#b82a42" fill-opacity="0.72">
<circle cx="491.5" cy="21.7" r="2.0"/>
<circle cx="507.4" cy="53.7" r="2.0"/>
<circle cx="527.9" cy="61.8" r="2.0"/>
<circle cx="517.1" cy="71.1" r="2.0"/>
<circle cx="504.6" cy="74.9" r="2.0"/>
<circle cx="508.6" cy="83.0" r="2.0"/>
<circle cx="480.3" cy="84.4" r="2.0"/>
<circle cx="489.6" cy="86.8" r="2.0"/>
<circle cx="525.8" cy="89.1" r="2.0"/>
<circle cx="487.6" cy="100.4" r="2.0"/>
<circle cx="502.2" cy="104.2" r="2.0"/>
<circle cx="498.9" cy="114.3" r="2.0"/>
<circle cx="484.0" cy="130.2" r="2.0"/>
<circle cx="500.6" cy="126.6" r="2.0"/>
<circle cx="505.0" cy="125.8" r="2.0"/>
<circle cx="508.2" cy="125.8" r="2.0"/>
<circle cx="510.3" cy="130.2" r="2.0"/>
<circle cx="520.2" cy="127.2" r="2.0"/>
<circle cx="523.2" cy="127.2" r="2.0"/>
<circle cx="499.5" cy="131.8" r="2.0"/>
<circle cx="490.4" cy="136.3" r="2.0"/>
<circle cx="494.5" cy="137.3" r="2.0"/>
<circle cx="499.5" cy="136.3" r="2.0"/>
<circle cx="503.0" cy="135.9" r="2.0"/>
<circle cx="497.5" cy="140.3" r="2.0"/>
<circle cx="493.1" cy="144.0" r="2.0"/>
<circle cx="499.5" cy="143.4" r="2.0"/>
<circle cx="468.8" cy="148.0" r="2.0"/>
<circle cx="497.7" cy="149.6" r="2.0"/>
<circle cx="513.3" cy="150.0" r="2.0"/>
<circle cx="526.2" cy="150.0" r="2.0"/>
<circle cx="506.0" cy="153.0" r="2.0"/>
<circle cx="480.7" cy="159.5" r="2.0"/>
<circle cx="497.1" cy="156.1" r="2.0"/>
<circle cx="512.7" cy="158.5" r="2.0"/>
<circle cx="488.4" cy="393.0" r="2.0"/>
<circle cx="498.5" cy="394.0" r="2.0"/>
<circle cx="498.5" cy="397.7" r="2.0"/>
<circle cx="505.0" cy="392.0" r="2.0"/>
<circle cx="511.1" cy="391.6" r="2.0"/>
<circle cx="524.8" cy="391.6" r="2.0"/>
<circle cx="508.6" cy="398.1" r="2.0"/>
<circle cx="510.3" cy="396.5" r="2.0"/>
<circle cx="525.2" cy="402.5" r="2.0"/>
<circle cx="528.5" cy="408.6" r="2.0"/>
<circle cx="478.3" cy="414.7" r="2.0"/>
<circle cx="496.9" cy="413.9" r="2.0"/>
<circle cx="517.3" cy="413.9" r="2.0"/>
<circle cx="525.8" cy="412.6" r="2.0"/>
<circle cx="494.9" cy="419.9" r="2.0"/>
<circle cx="519.4" cy="418.3" r="2.0"/>
<circle cx="523.2" cy="422.0" r="2.0"/>
<circle cx="509.3" cy="424.0" r="2.0"/>
<circle cx="514.3" cy="423.6" r="2.0"/>
<circle cx="508.6" cy="429.4" r="2.0"/>
<circle cx="519.8" cy="428.8" r="2.0"/>
<circle cx="524.8" cy="430.4" r="2.0"/>
<circle cx="492.5" cy="431.3" r="2.0"/>
<circle cx="501.6" cy="434.9" r="2.0"/>
<circle cx="524.8" cy="437.5" r="2.0"/>
<circle cx="510.3" cy="441.8" r="2.0"/>
<circle cx="524.8" cy="445.8" r="2.0"/>
<circle cx="479.9" cy="448.6" r="2.0"/>
<circle cx="508.6" cy="448.2" r="2.0"/>
<circle cx="508.6" cy="449.9" r="2.0"/>
<circle cx="514.7" cy="457.5" r="2.0"/>
<circle cx="513.9" cy="465.2" r="2.0"/>
<circle cx="502.6" cy="471.3" r="2.0"/>
<circle cx="528.1" cy="478.0" r="2.0"/>
<circle cx="507.0" cy="493.5" r="2.0"/>
<circle cx="513.1" cy="355.5" r="2.0"/>
<circle cx="520.5" cy="242.6" r="2.0"/>
<circle cx="474.1" cy="359.4" r="2.0"/>
<circle cx="499.3" cy="273.8" r="2.0"/>
<circle cx="515.5" cy="379.9" r="2.0"/>
<circle cx="519.2" cy="343.7" r="2.0"/>
<circle cx="487.9" cy="215.9" r="2.0"/>
<circle cx="511.9" cy="263.2" r="2.0"/>
<circle cx="515.7" cy="367.0" r="2.0"/>
<circle cx="516.0" cy="248.6" r="2.0"/>
<circle cx="487.6" cy="343.5" r="2.0"/>
<circle cx="507.3" cy="258.8" r="2.0"/>
<circle cx="512.9" cy="356.0" r="2.0"/>
<circle cx="496.4" cy="339.2" r="2.0"/>
<circle cx="495.4" cy="244.4" r="2.0"/>
<circle cx="505.9" cy="202.3" r="2.0"/>
<circle cx="512.8" cy="255.3" r="2.0"/>
<circle cx="501.9" cy="318.9" r="2.0"/>
<circle cx="518.1" cy="373.3" r="2.0"/>
<circle cx="495.7" cy="265.8" r="2.0"/>
<circle cx="485.3" cy="250.1" r="2.0"/>
<circle cx="506.3" cy="233.7" r="2.0"/>
<circle cx="493.6" cy="241.9" r="2.0"/>
<circle cx="496.2" cy="246.6" r="2.0"/>
<circle cx="486.5" cy="260.1" r="2.0"/>
<circle cx="532.0" cy="196.5" r="2.0"/>
<circle cx="468.5" cy="249.2" r="2.0"/>
<circle cx="525.4" cy="202.0" r="2.0"/>
<circle cx="480.0" cy="297.4" r="2.0"/>
<circle cx="521.4" cy="227.7" r="2.0"/>
<circle cx="524.5" cy="287.0" r="2.0"/>
<circle cx="503.4" cy="243.4" r="2.0"/>
<circle cx="505.8" cy="282.8" r="2.0"/>
<circle cx="491.5" cy="355.3" r="2.0"/>
<circle cx="509.2" cy="321.8" r="2.0"/>
<circle cx="519.4" cy="342.2" r="2.0"/>
<circle cx="506.1" cy="208.0" r="2.0"/>
<circle cx="503.6" cy="245.0" r="2.0"/>
<circle cx="502.8" cy="222.9" r="2.0"/>
<circle cx="525.9" cy="348.2" r="2.0"/>
<circle cx="525.3" cy="194.1" r="2.0"/>
<circle cx="506.5" cy="301.0" r="2.0"/>
<circle cx="480.8" cy="177.3" r="2.0"/>
<circle cx="523.6" cy="273.5" r="2.0"/>
<circle cx="503.7" cy="350.1" r="2.0"/>
<circle cx="512.9" cy="248.8" r="2.0"/>
<circle cx="491.3" cy="262.2" r="2.0"/>
<circle cx="498.7" cy="351.7" r="2.0"/>
<circle cx="503.6" cy="246.0" r="2.0"/>
<circle cx="527.9" cy="223.2" r="2.0"/>
<circle cx="512.9" cy="280.5" r="2.0"/>
<circle cx="510.6" cy="204.4" r="2.0"/>
<circle cx="492.5" cy="226.1" r="2.0"/>
<circle cx="517.4" cy="202.6" r="2.0"/>
<circle cx="514.9" cy="202.4" r="2.0"/>
<circle cx="479.6" cy="195.6" r="2.0"/>
<circle cx="490.3" cy="217.7" r="2.0"/>
<circle cx="525.5" cy="208.5" r="2.0"/>
<circle cx="483.0" cy="376.0" r="2.0"/>
<circle cx="529.5" cy="367.0" r="2.0"/>
<circle cx="511.0" cy="230.0" r="2.0"/>
<circle cx="534.2" cy="339.1" r="2.0"/>
<circle cx="494.5" cy="367.0" r="2.0"/>
<circle cx="500.9" cy="298.0" r="2.0"/>
<circle cx="517.7" cy="291.7" r="2.0"/>
<circle cx="514.2" cy="264.6" r="2.0"/>
<circle cx="518.8" cy="197.4" r="2.0"/>
<circle cx="536.5" cy="296.3" r="2.0"/>
<circle cx="513.7" cy="312.3" r="2.0"/>
<circle cx="511.5" cy="313.2" r="2.0"/>
<circle cx="528.5" cy="326.1" r="2.0"/>
<circle cx="491.9" cy="335.9" r="2.0"/>
<circle cx="525.7" cy="172.4" r="2.0"/>
<circle cx="519.8" cy="165.4" r="2.0"/>
<circle cx="518.2" cy="312.2" r="2.0"/>
<circle cx="510.6" cy="307.5" r="2.0"/>
<circle cx="517.0" cy="351.9" r="2.0"/>
<circle cx="533.6" cy="259.8" r="2.0"/>
<circle cx="488.4" cy="176.7" r="2.0"/>
<circle cx="490.4" cy="295.3" r="2.0"/>
<circle cx="523.8" cy="209.8" r="2.0"/>
<circle cx="500.9" cy="199.7" r="2.0"/>
<circle cx="510.1" cy="195.2" r="2.0"/>
<circle cx="514.5" cy="305.0" r="2.0"/>
<circle cx="513.3" cy="365.0" r="2.0"/>
<circle cx="508.5" cy="284.2" r="2.0"/>
<circle cx="534.4" cy="259.4" r="2.0"/>
<circle cx="520.0" cy="272.2" r="2.0"/>
<circle cx="501.1" cy="205.6" r="2.0"/>
<circle cx="495.7" cy="266.5" r="2.0"/>
<circle cx="498.9" cy="209.9" r="2.0"/>
<circle cx="526.3" cy="247.5" r="2.0"/>
<circle cx="525.1" cy="299.3" r="2.0"/>
<circle cx="520.9" cy="185.4" r="2.0"/>
<circle cx="511.5" cy="376.0" r="2.0"/>
<circle cx="514.4" cy="370.9" r="2.0"/>
<circle cx="501.8" cy="239.8" r="2.0"/>
<circle cx="502.5" cy="239.6" r="2.0"/>
<circle cx="493.2" cy="177.7" r="2.0"/>
<circle cx="492.0" cy="294.2" r="2.0"/>
<circle cx="501.1" cy="252.4" r="2.0"/>
<circle cx="492.6" cy="166.2" r="2.0"/>
<circle cx="515.4" cy="309.5" r="2.0"/>
<circle cx="500.7" cy="309.4" r="2.0"/>
<circle cx="510.5" cy="282.5" r="2.0"/>
<circle cx="531.5" cy="209.5" r="2.0"/>
<circle cx="513.9" cy="316.2" r="2.0"/>
<circle cx="517.9" cy="295.0" r="2.0"/>
<circle cx="508.3" cy="263.7" r="2.0"/>
<circle cx="502.1" cy="352.4" r="2.0"/>
<circle cx="503.4" cy="196.7" r="2.0"/>
<circle cx="515.0" cy="223.8" r="2.0"/>
<circle cx="501.2" cy="207.4" r="2.0"/>
<circle cx="529.9" cy="344.7" r="2.0"/>
<circle cx="525.5" cy="361.5" r="2.0"/>
<circle cx="480.5" cy="226.0" r="2.0"/>
<circle cx="482.2" cy="189.5" r="2.0"/>
<circle cx="509.1" cy="227.5" r="2.0"/>
<circle cx="502.0" cy="343.3" r="2.0"/>
<circle cx="502.9" cy="315.2" r="2.0"/>
<circle cx="532.7" cy="211.6" r="2.0"/>
<circle cx="522.6" cy="290.3" r="2.0"/>
<circle cx="516.5" cy="375.7" r="2.0"/>
<circle cx="528.7" cy="312.1" r="2.0"/>
<circle cx="497.4" cy="305.7" r="2.0"/>
<circle cx="523.3" cy="183.9" r="2.0"/>
<circle cx="518.6" cy="240.8" r="2.0"/>
<circle cx="505.3" cy="247.7" r="2.0"/>
<circle cx="501.5" cy="342.8" r="2.0"/>
<circle cx="515.6" cy="256.9" r="2.0"/>
<circle cx="504.8" cy="275.3" r="2.0"/>
<circle cx="492.3" cy="200.2" r="2.0"/>
<circle cx="485.7" cy="202.7" r="2.0"/>
<circle cx="529.9" cy="259.2" r="2.0"/>
<circle cx="516.0" cy="193.9" r="2.0"/>
<circle cx="534.2" cy="278.1" r="2.0"/>
<circle cx="488.3" cy="356.9" r="2.0"/>
<circle cx="501.5" cy="335.7" r="2.0"/>
<circle cx="509.1" cy="291.0" r="2.0"/>
<circle cx="484.5" cy="383.6" r="2.0"/>
<circle cx="505.0" cy="293.9" r="2.0"/>
<circle cx="495.3" cy="206.9" r="2.0"/>
<circle cx="485.0" cy="188.0" r="2.0"/>
<circle cx="501.4" cy="227.7" r="2.0"/>
<circle cx="505.9" cy="174.4" r="2.0"/>
<circle cx="498.4" cy="254.6" r="2.0"/>
<circle cx="511.8" cy="237.8" r="2.0"/>
<circle cx="533.1" cy="282.9" r="2.0"/>
<circle cx="509.4" cy="170.9" r="2.0"/>
<circle cx="526.4" cy="253.0" r="2.0"/>
<circle cx="484.2" cy="226.1" r="2.0"/>
<circle cx="487.3" cy="322.4" r="2.0"/>
<circle cx="526.5" cy="387.8" r="2.0"/>
<circle cx="502.0" cy="280.1" r="2.0"/>
<circle cx="539.2" cy="241.7" r="2.0"/>
<circle cx="526.4" cy="211.0" r="2.0"/>
<circle cx="495.5" cy="309.7" r="2.0"/>
<circle cx="493.5" cy="371.0" r="2.0"/>
<circle cx="498.7" cy="265.8" r="2.0"/>
<circle cx="505.7" cy="212.3" r="2.0"/>
<circle cx="511.4" cy="232.9" r="2.0"/>
<circle cx="493.2" cy="292.9" r="2.0"/>
<circle cx="493.7" cy="245.5" r="2.0"/>
<circle cx="510.6" cy="313.8" r="2.0"/>
<circle cx="492.6" cy="323.8" r="2.0"/>
<circle cx="512.2" cy="210.3" r="2.0"/>
<circle cx="516.6" cy="225.3" r="2.0"/>
<circle cx="491.1" cy="232.6" r="2.0"/>
<circle cx="501.7" cy="362.1" r="2.0"/>
<circle cx="484.5" cy="230.4" r="2.0"/>
<circle cx="480.6" cy="300.2" r="2.0"/>
<circle cx="504.9" cy="304.4" r="2.0"/>
<circle cx="492.3" cy="291.4" r="2.0"/>
<circle cx="470.7" cy="271.8" r="2.0"/>
<circle cx="512.7" cy="278.7" r="2.0"/>
<circle cx="517.5" cy="177.2" r="2.0"/>
<circle cx="512.9" cy="174.1" r="2.0"/>
<circle cx="515.7" cy="273.3" r="2.0"/>
<circle cx="519.8" cy="166.2" r="2.0"/>
<circle cx="507.3" cy="271.1" r="2.0"/>
<circle cx="525.4" cy="329.6" r="2.0"/>
<circle cx="497.9" cy="252.8" r="2.0"/>
<circle cx="519.7" cy="205.5" r="2.0"/>
<circle cx="523.3" cy="272.1" r="2.0"/>
<circle cx="504.5" cy="297.7" r="2.0"/>
<circle cx="527.7" cy="253.1" r="2.0"/>
<circle cx="511.5" cy="220.8" r="2.0"/>
<circle cx="516.4" cy="304.0" r="2.0"/>
<circle cx="502.7" cy="198.4" r="2.0"/>
<circle cx="504.9" cy="213.7" r="2.0"/>
<circle cx="517.1" cy="254.9" r="2.0"/>
<circle cx="478.4" cy="261.0" r="2.0"/>
<circle cx="495.7" cy="259.7" r="2.0"/>
<circle cx="487.3" cy="186.3" r="2.0"/>
<circle cx="511.6" cy="311.4" r="2.0"/>
<circle cx="488.2" cy="261.9" r="2.0"/>
<circle cx="523.5" cy="235.8" r="2.0"/>
<circle cx="513.8" cy="342.5" r="2.0"/>
<circle cx="503.8" cy="386.9" r="2.0"/>
<circle cx="515.2" cy="372.1" r="2.0"/>
<circle cx="519.5" cy="176.2" r="2.0"/>
<circle cx="527.0" cy="256.0" r="2.0"/>
<circle cx="517.4" cy="223.2" r="2.0"/>
<circle cx="523.6" cy="249.4" r="2.0"/>
<circle cx="499.3" cy="258.1" r="2.0"/>
<circle cx="506.5" cy="311.3" r="2.0"/>
<circle cx="497.9" cy="308.7" r="2.0"/>
<circle cx="514.9" cy="273.3" r="2.0"/>
<circle cx="506.6" cy="357.5" r="2.0"/>
<circle cx="527.8" cy="310.7" r="2.0"/>
<circle cx="481.6" cy="276.2" r="2.0"/>
<circle cx="505.6" cy="385.8" r="2.0"/>
<circle cx="503.6" cy="287.8" r="2.0"/>
<circle cx="525.0" cy="276.3" r="2.0"/>
<circle cx="523.9" cy="255.1" r="2.0"/>
<circle cx="501.9" cy="237.4" r="2.0"/>
<circle cx="500.6" cy="250.4" r="2.0"/>
<circle cx="483.2" cy="264.0" r="2.0"/>
<circle cx="497.3" cy="282.5" r="2.0"/>
<circle cx="468.3" cy="188.1" r="2.0"/>
<circle cx="484.3" cy="202.0" r="2.0"/>
<circle cx="501.9" cy="275.0" r="2.0"/>
<circle cx="506.0" cy="338.2" r="2.0"/>
<circle cx="524.6" cy="281.0" r="2.0"/>
<circle cx="499.7" cy="362.1" r="2.0"/>
<circle cx="515.0" cy="326.2" r="2.0"/>
<circle cx="550.6" cy="346.2" r="2.0"/>
<circle cx="517.1" cy="286.2" r="2.0"/>
<circle cx="522.0" cy="220.0" r="2.0"/>
<circle cx="519.7" cy="244.0" r="2.0"/>
<circle cx="503.3" cy="296.1" r="2.0"/>
<circle cx="541.0" cy="299.0" r="2.0"/>
<circle cx="509.4" cy="307.7" r="2.0"/>
<circle cx="520.5" cy="164.9" r="2.0"/>
<circle cx="465.7" cy="268.3" r="2.0"/>
<circle cx="498.5" cy="246.6" r="2.0"/>
<circle cx="515.9" cy="240.2" r="2.0"/>
<circle cx="506.1" cy="314.4" r="2.0"/>
<circle cx="496.0" cy="285.9" r="2.0"/>
<circle cx="504.9" cy="189.1" r="2.0"/>
<circle cx="531.7" cy="356.7" r="2.0"/>
<circle cx="488.2" cy="287.1" r="2.0"/>
<circle cx="517.6" cy="353.9" r="2.0"/>
<circle cx="534.6" cy="213.2" r="2.0"/>
<circle cx="512.9" cy="339.3" r="2.0"/>
<circle cx="524.2" cy="228.7" r="2.0"/>
<circle cx="513.9" cy="226.8" r="2.0"/>
<circle cx="499.8" cy="362.2" r="2.0"/>
<circle cx="497.0" cy="286.9" r="2.0"/>
<circle cx="497.4" cy="264.5" r="2.0"/>
<circle cx="510.4" cy="285.2" r="2.0"/>
<circle cx="508.8" cy="329.6" r="2.0"/>
<circle cx="518.5" cy="306.9" r="2.0"/>
<circle cx="513.3" cy="237.1" r="2.0"/>
<circle cx="491.8" cy="325.2" r="2.0"/>
<circle cx="501.2" cy="211.6" r="2.0"/>
<circle cx="511.7" cy="298.0" r="2.0"/>
<circle cx="513.1" cy="285.3" r="2.0"/>
<circle cx="509.5" cy="214.9" r="2.0"/>
<circle cx="509.0" cy="195.0" r="2.0"/>
<circle cx="483.6" cy="363.6" r="2.0"/>
<circle cx="493.1" cy="238.1" r="2.0"/>
<circle cx="519.3" cy="270.8" r="2.0"/>
<circle cx="497.1" cy="278.9" r="2.0"/>
<circle cx="528.6" cy="234.9" r="2.0"/>
<circle cx="494.4" cy="241.2" r="2.0"/>
<circle cx="521.4" cy="179.7" r="2.0"/>
<circle cx="501.4" cy="330.0" r="2.0"/>
<circle cx="505.1" cy="303.7" r="2.0"/>
<circle cx="494.0" cy="250.8" r="2.0"/>
<circle cx="534.5" cy="325.0" r="2.0"/>
<circle cx="507.7" cy="239.0" r="2.0"/>
<circle cx="486.8" cy="336.7" r="2.0"/>
<circle cx="497.2" cy="239.3" r="2.0"/>
<circle cx="519.5" cy="316.6" r="2.0"/>
<circle cx="494.4" cy="195.5" r="2.0"/>
<circle cx="526.4" cy="229.6" r="2.0"/>
<circle cx="512.1" cy="283.8" r="2.0"/>
<circle cx="478.3" cy="294.6" r="2.0"/>
<circle cx="513.0" cy="333.1" r="2.0"/>
<circle cx="521.0" cy="365.6" r="2.0"/>
<circle cx="528.9" cy="179.6" r="2.0"/>
<circle cx="500.3" cy="332.7" r="2.0"/>
<circle cx="525.3" cy="288.6" r="2.0"/>
<circle cx="511.4" cy="230.2" r="2.0"/>
<circle cx="502.7" cy="207.5" r="2.0"/>
<circle cx="521.7" cy="205.3" r="2.0"/>
<circle cx="502.9" cy="287.5" r="2.0"/>
<circle cx="500.5" cy="237.4" r="2.0"/>
<circle cx="475.5" cy="316.2" r="2.0"/>
<circle cx="503.8" cy="293.2" r="2.0"/>
<circle cx="544.6" cy="291.2" r="2.0"/>
<circle cx="518.4" cy="328.9" r="2.0"/>
<circle cx="503.9" cy="309.9" r="2.0"/>
<circle cx="528.8" cy="236.4" r="2.0"/>
<circle cx="514.0" cy="260.1" r="2.0"/>
<circle cx="544.7" cy="304.6" r="2.0"/>
<circle cx="507.6" cy="318.7" r="2.0"/>
<circle cx="504.2" cy="311.9" r="2.0"/>
<circle cx="512.4" cy="198.5" r="2.0"/>
<circle cx="506.3" cy="323.7" r="2.0"/>
<circle cx="515.8" cy="358.7" r="2.0"/>
<circle cx="521.8" cy="315.0" r="2.0"/>
<circle cx="517.8" cy="232.7" r="2.0"/>
<circle cx="480.3" cy="329.2" r="2.0"/>
<circle cx="519.8" cy="223.0" r="2.0"/>
<circle cx="509.1" cy="306.6" r="2.0"/>
<circle cx="515.0" cy="341.9" r="2.0"/>
<circle cx="527.3" cy="192.7" r="2.0"/>
<circle cx="505.7" cy="202.8" r="2.0"/>
<circle cx="503.1" cy="267.7" r="2.0"/>
<circle cx="521.3" cy="194.7" r="2.0"/>
<circle cx="528.7" cy="250.1" r="2.0"/>
<circle cx="498.0" cy="326.7" r="2.0"/>
<circle cx="514.2" cy="354.9" r="2.0"/>
<circle cx="517.4" cy="320.6" r="2.0"/>
<circle cx="490.1" cy="357.9" r="2.0"/>
<circle cx="525.8" cy="179.1" r="2.0"/>
<circle cx="522.7" cy="222.2" r="2.0"/>
<circle cx="511.4" cy="317.8" r="2.0"/>
<circle cx="495.7" cy="257.0" r="2.0"/>
<circle cx="501.2" cy="329.7" r="2.0"/>
<circle cx="515.1" cy="272.9" r="2.0"/>
<circle cx="529.8" cy="307.0" r="2.0"/>
<circle cx="504.4" cy="232.6" r="2.0"/>
<circle cx="498.0" cy="303.7" r="2.0"/>
<circle cx="488.2" cy="365.3" r="2.0"/>
<circle cx="514.0" cy="191.0" r="2.0"/>
<circle cx="507.0" cy="237.8" r="2.0"/>
<circle cx="524.5" cy="291.3" r="2.0"/>
<circle cx="503.1" cy="322.0" r="2.0"/>
<circle cx="506.9" cy="347.4" r="2.0"/>
<circle cx="507.9" cy="347.7" r="2.0"/>
<circle cx="489.6" cy="257.4" r="2.0"/>
<circle cx="475.1" cy="289.4" r="2.0"/>
<circle cx="499.8" cy="253.7" r="2.0"/>
<circle cx="517.4" cy="223.0" r="2.0"/>
<circle cx="542.2" cy="205.9" r="2.0"/>
<circle cx="490.7" cy="192.7" r="2.0"/>
<circle cx="528.8" cy="178.6" r="2.0"/>
<circle cx="497.0" cy="358.1" r="2.0"/>
<circle cx="511.0" cy="194.4" r="2.0"/>
<circle cx="510.6" cy="325.3" r="2.0"/>
<circle cx="512.7" cy="239.1" r="2.0"/>
<circle cx="524.0" cy="201.7" r="2.0"/>
<circle cx="500.3" cy="314.9" r="2.0"/>
<circle cx="482.6" cy="291.5" r="2.0"/>
<circle cx="493.6" cy="326.1" r="2.0"/>
<circle cx="494.6" cy="237.7" r="2.0"/>
<circle cx="493.3" cy="190.9" r="2.0"/>
</g>
<g fill="#b82a42" fill-opacity="0.72">
<circle cx="1057.0" cy="44.2" r="2.0"/>
<circle cx="1086.7" cy="50.2" r="2.0"/>
<circle cx="1069.1" cy="58.9" r="2.0"/>
<circle cx="1071.2" cy="57.9" r="2.0"/>
<circle cx="1089.2" cy="75.7" r="2.0"/>
<circle cx="1073.0" cy="88.8" r="2.0"/>
<circle cx="1064.5" cy="95.3" r="2.0"/>
<circle cx="1078.2" cy="96.3" r="2.0"/>
<circle cx="1081.1" cy="94.7" r="2.0"/>
<circle cx="1080.7" cy="98.1" r="2.0"/>
<circle cx="1088.8" cy="99.2" r="2.0"/>
<circle cx="1066.5" cy="104.4" r="2.0"/>
<circle cx="1078.0" cy="111.7" r="2.0"/>
<circle cx="1082.1" cy="112.5" r="2.0"/>
<circle cx="1075.8" cy="114.5" r="2.0"/>
<circle cx="1095.4" cy="112.5" r="2.0"/>
<circle cx="1099.3" cy="118.6" r="2.0"/>
<circle cx="1052.0" cy="122.6" r="2.0"/>
<circle cx="1057.4" cy="123.4" r="2.0"/>
<circle cx="1077.2" cy="124.0" r="2.0"/>
<circle cx="1082.7" cy="122.6" r="2.0"/>
<circle cx="1086.1" cy="122.2" r="2.0"/>
<circle cx="1090.6" cy="121.4" r="2.0"/>
<circle cx="1090.6" cy="125.0" r="2.0"/>
<circle cx="1052.0" cy="129.5" r="2.0"/>
<circle cx="1064.9" cy="128.1" r="2.0"/>
<circle cx="1065.7" cy="135.2" r="2.0"/>
<circle cx="1070.0" cy="134.3" r="2.0"/>
<circle cx="1070.6" cy="137.2" r="2.0"/>
<circle cx="1077.8" cy="135.6" r="2.0"/>
<circle cx="1083.7" cy="138.2" r="2.0"/>
<circle cx="1076.1" cy="143.8" r="2.0"/>
<circle cx="1066.0" cy="147.5" r="2.0"/>
<circle cx="1067.4" cy="149.3" r="2.0"/>
<circle cx="1073.9" cy="151.1" r="2.0"/>
<circle cx="1064.7" cy="153.9" r="2.0"/>
<circle cx="1068.2" cy="154.8" r="2.0"/>
<circle cx="1047.9" cy="155.7" r="2.0"/>
<circle cx="1059.0" cy="161.6" r="2.0"/>
<circle cx="1066.9" cy="163.6" r="2.0"/>
<circle cx="1077.9" cy="164.0" r="2.0"/>
<circle cx="1086.7" cy="164.9" r="2.0"/>
<circle cx="1044.3" cy="390.0" r="2.0"/>
<circle cx="1053.4" cy="391.0" r="2.0"/>
<circle cx="1096.4" cy="391.6" r="2.0"/>
<circle cx="1061.9" cy="397.7" r="2.0"/>
<circle cx="1087.1" cy="401.7" r="2.0"/>
<circle cx="1075.2" cy="404.6" r="2.0"/>
<circle cx="1068.5" cy="408.2" r="2.0"/>
<circle cx="1063.1" cy="411.4" r="2.0"/>
<circle cx="1069.5" cy="413.9" r="2.0"/>
<circle cx="1085.1" cy="409.6" r="2.0"/>
<circle cx="1095.2" cy="407.8" r="2.0"/>
<circle cx="1095.2" cy="411.0" r="2.0"/>
<circle cx="1092.4" cy="413.5" r="2.0"/>
<circle cx="1105.3" cy="427.0" r="2.0"/>
<circle cx="1047.3" cy="435.3" r="2.0"/>
<circle cx="1079.0" cy="439.1" r="2.0"/>
<circle cx="1094.0" cy="444.6" r="2.0"/>
<circle cx="1070.4" cy="461.0" r="2.0"/>
<circle cx="1080.3" cy="464.0" r="2.0"/>
<circle cx="1085.9" cy="470.7" r="2.0"/>
<circle cx="1073.8" cy="486.1" r="2.0"/>
<circle cx="1070.6" cy="498.6" r="2.0"/>
<circle cx="1097.9" cy="382.0" r="2.0"/>
<circle cx="1061.7" cy="285.5" r="2.0"/>
<circle cx="1077.2" cy="301.8" r="2.0"/>
<circle cx="1066.5" cy="182.4" r="2.0"/>
<circle cx="1072.6" cy="313.6" r="2.0"/>
<circle cx="1056.8" cy="292.2" r="2.0"/>
<circle cx="1072.9" cy="307.3" r="2.0"/>
<circle cx="1064.4" cy="320.1" r="2.0"/>
<circle cx="1081.6" cy="182.0" r="2.0"/>
<circle cx="1069.7" cy="260.3" r="2.0"/>
<circle cx="1088.5" cy="220.9" r="2.0"/>
<circle cx="1070.2" cy="182.2" r="2.0"/>
<circle cx="1110.7" cy="347.3" r="2.0"/>
<circle cx="1084.0" cy="209.0" r="2.0"/>
<circle cx="1074.1" cy="370.5" r="2.0"/>
<circle cx="1093.6" cy="305.2" r="2.0"/>
<circle cx="1073.5" cy="367.6" r="2.0"/>
<circle cx="1068.1" cy="312.3" r="2.0"/>
<circle cx="1053.0" cy="313.7" r="2.0"/>
<circle cx="1054.5" cy="286.2" r="2.0"/>
<circle cx="1040.1" cy="256.3" r="2.0"/>
<circle cx="1086.2" cy="328.4" r="2.0"/>
<circle cx="1067.9" cy="261.7" r="2.0"/>
<circle cx="1084.3" cy="231.2" r="2.0"/>
<circle cx="1083.5" cy="222.5" r="2.0"/>
<circle cx="1092.5" cy="370.2" r="2.0"/>
<circle cx="1068.2" cy="345.3" r="2.0"/>
<circle cx="1079.6" cy="289.9" r="2.0"/>
<circle cx="1074.2" cy="177.6" r="2.0"/>
<circle cx="1086.3" cy="206.1" r="2.0"/>
<circle cx="1067.6" cy="366.9" r="2.0"/>
<circle cx="1077.3" cy="196.3" r="2.0"/>
<circle cx="1097.5" cy="256.4" r="2.0"/>
<circle cx="1051.4" cy="336.5" r="2.0"/>
<circle cx="1066.3" cy="281.2" r="2.0"/>
<circle cx="1077.4" cy="304.0" r="2.0"/>
<circle cx="1099.8" cy="357.2" r="2.0"/>
<circle cx="1086.6" cy="215.1" r="2.0"/>
<circle cx="1060.4" cy="341.8" r="2.0"/>
<circle cx="1076.4" cy="376.7" r="2.0"/>
<circle cx="1058.0" cy="269.1" r="2.0"/>
<circle cx="1077.4" cy="303.1" r="2.0"/>
<circle cx="1095.6" cy="263.8" r="2.0"/>
<circle cx="1072.9" cy="228.8" r="2.0"/>
<circle cx="1079.3" cy="221.4" r="2.0"/>
<circle cx="1072.8" cy="336.4" r="2.0"/>
<circle cx="1070.4" cy="306.1" r="2.0"/>
<circle cx="1073.7" cy="358.3" r="2.0"/>
<circle cx="1069.7" cy="371.3" r="2.0"/>
<circle cx="1080.7" cy="342.8" r="2.0"/>
<circle cx="1075.1" cy="305.0" r="2.0"/>
<circle cx="1099.8" cy="304.9" r="2.0"/>
<circle cx="1081.3" cy="288.0" r="2.0"/>
<circle cx="1068.7" cy="167.9" r="2.0"/>
<circle cx="1088.0" cy="216.6" r="2.0"/>
<circle cx="1098.3" cy="291.1" r="2.0"/>
<circle cx="1077.3" cy="236.9" r="2.0"/>
<circle cx="1075.0" cy="270.1" r="2.0"/>
<circle cx="1059.8" cy="299.1" r="2.0"/>
<circle cx="1067.2" cy="206.0" r="2.0"/>
<circle cx="1042.2" cy="350.8" r="2.0"/>
<circle cx="1075.4" cy="253.8" r="2.0"/>
<circle cx="1077.3" cy="298.6" r="2.0"/>
<circle cx="1108.7" cy="289.7" r="2.0"/>
<circle cx="1087.8" cy="198.3" r="2.0"/>
<circle cx="1081.1" cy="225.2" r="2.0"/>
<circle cx="1064.7" cy="325.9" r="2.0"/>
<circle cx="1086.6" cy="326.6" r="2.0"/>
<circle cx="1066.7" cy="307.8" r="2.0"/>
<circle cx="1075.7" cy="302.1" r="2.0"/>
<circle cx="1092.6" cy="211.9" r="2.0"/>
<circle cx="1089.7" cy="209.8" r="2.0"/>
<circle cx="1083.9" cy="214.2" r="2.0"/>
<circle cx="1067.1" cy="188.0" r="2.0"/>
<circle cx="1071.7" cy="307.1" r="2.0"/>
<circle cx="1114.9" cy="192.6" r="2.0"/>
<circle cx="1047.7" cy="183.0" r="2.0"/>
<circle cx="1054.1" cy="195.5" r="2.0"/>
<circle cx="1078.9" cy="171.2" r="2.0"/>
<circle cx="1064.2" cy="220.8" r="2.0"/>
<circle cx="1077.2" cy="368.0" r="2.0"/>
<circle cx="1053.0" cy="260.0" r="2.0"/>
<circle cx="1102.6" cy="257.9" r="2.0"/>
<circle cx="1079.6" cy="269.9" r="2.0"/>
<circle cx="1080.3" cy="291.4" r="2.0"/>
<circle cx="1086.8" cy="372.8" r="2.0"/>
<circle cx="1050.0" cy="333.2" r="2.0"/>
<circle cx="1068.4" cy="291.3" r="2.0"/>
<circle cx="1090.0" cy="269.9" r="2.0"/>
<circle cx="1072.7" cy="233.6" r="2.0"/>
<circle cx="1077.8" cy="269.3" r="2.0"/>
<circle cx="1073.4" cy="369.3" r="2.0"/>
<circle cx="1104.0" cy="285.2" r="2.0"/>
<circle cx="1083.7" cy="203.8" r="2.0"/>
<circle cx="1073.9" cy="260.9" r="2.0"/>
<circle cx="1056.0" cy="250.5" r="2.0"/>
<circle cx="1111.7" cy="269.2" r="2.0"/>
<circle cx="1082.4" cy="389.0" r="2.0"/>
<circle cx="1093.4" cy="235.0" r="2.0"/>
<circle cx="1089.3" cy="185.9" r="2.0"/>
<circle cx="1080.4" cy="379.8" r="2.0"/>
<circle cx="1035.7" cy="379.7" r="2.0"/>
<circle cx="1081.6" cy="249.6" r="2.0"/>
<circle cx="1080.4" cy="287.0" r="2.0"/>
<circle cx="1057.6" cy="345.0" r="2.0"/>
<circle cx="1077.7" cy="271.5" r="2.0"/>
<circle cx="1069.1" cy="377.4" r="2.0"/>
<circle cx="1075.1" cy="191.5" r="2.0"/>
<circle cx="1093.9" cy="175.0" r="2.0"/>
<circle cx="1117.7" cy="266.3" r="2.0"/>
<circle cx="1084.3" cy="214.4" r="2.0"/>
<circle cx="1112.6" cy="381.1" r="2.0"/>
<circle cx="1074.9" cy="205.8" r="2.0"/>
<circle cx="1067.3" cy="289.1" r="2.0"/>
<circle cx="1086.1" cy="209.2" r="2.0"/>
<circle cx="1062.0" cy="377.0" r="2.0"/>
<circle cx="1084.7" cy="208.3" r="2.0"/>
<circle cx="1089.0" cy="278.6" r="2.0"/>
<circle cx="1083.8" cy="276.9" r="2.0"/>
<circle cx="1073.0" cy="372.6" r="2.0"/>
<circle cx="1080.8" cy="250.7" r="2.0"/>
<circle cx="1067.8" cy="357.1" r="2.0"/>
<circle cx="1075.9" cy="261.9" r="2.0"/>
<circle cx="1092.8" cy="228.3" r="2.0"/>
<circle cx="1074.8" cy="341.7" r="2.0"/>
<circle cx="1093.4" cy="265.6" r="2.0"/>
<circle cx="1080.4" cy="291.4" r="2.0"/>
<circle cx="1065.0" cy="267.8" r="2.0"/>
<circle cx="1077.5" cy="362.8" r="2.0"/>
<circle cx="1099.4" cy="283.1" r="2.0"/>
<circle cx="1060.6" cy="184.0" r="2.0"/>
<circle cx="1071.8" cy="284.2" r="2.0"/>
<circle cx="1081.4" cy="216.9" r="2.0"/>
<circle cx="1103.0" cy="192.1" r="2.0"/>
<circle cx="1089.1" cy="283.0" r="2.0"/>
<circle cx="1077.9" cy="370.0" r="2.0"/>
<circle cx="1065.1" cy="293.7" r="2.0"/>
<circle cx="1054.8" cy="166.5" r="2.0"/>
<circle cx="1071.4" cy="322.8" r="2.0"/>
<circle cx="1064.8" cy="256.4" r="2.0"/>
<circle cx="1074.0" cy="170.0" r="2.0"/>
<circle cx="1066.2" cy="285.8" r="2.0"/>
<circle cx="1055.6" cy="277.6" r="2.0"/>
<circle cx="1053.0" cy="363.3" r="2.0"/>
<circle cx="1065.3" cy="291.7" r="2.0"/>
<circle cx="1042.5" cy="352.7" r="2.0"/>
<circle cx="1074.7" cy="201.2" r="2.0"/>
<circle cx="1069.5" cy="206.5" r="2.0"/>
<circle cx="1081.2" cy="269.8" r="2.0"/>
<circle cx="1058.4" cy="367.8" r="2.0"/>
<circle cx="1065.9" cy="318.3" r="2.0"/>
<circle cx="1084.1" cy="385.1" r="2.0"/>
<circle cx="1117.6" cy="325.6" r="2.0"/>
<circle cx="1076.7" cy="374.8" r="2.0"/>
<circle cx="1095.8" cy="287.2" r="2.0"/>
<circle cx="1070.9" cy="269.8" r="2.0"/>
<circle cx="1089.0" cy="277.6" r="2.0"/>
<circle cx="1059.5" cy="375.2" r="2.0"/>
<circle cx="1052.4" cy="175.2" r="2.0"/>
<circle cx="1094.8" cy="306.6" r="2.0"/>
<circle cx="1080.4" cy="289.2" r="2.0"/>
<circle cx="1091.8" cy="268.2" r="2.0"/>
<circle cx="1049.2" cy="307.5" r="2.0"/>
<circle cx="1070.4" cy="264.7" r="2.0"/>
<circle cx="1068.0" cy="292.8" r="2.0"/>
<circle cx="1080.8" cy="221.9" r="2.0"/>
<circle cx="1075.9" cy="182.2" r="2.0"/>
<circle cx="1085.5" cy="387.3" r="2.0"/>
<circle cx="1094.4" cy="374.8" r="2.0"/>
<circle cx="1083.6" cy="285.3" r="2.0"/>
<circle cx="1085.8" cy="229.0" r="2.0"/>
<circle cx="1101.8" cy="204.2" r="2.0"/>
<circle cx="1084.8" cy="316.3" r="2.0"/>
<circle cx="1078.5" cy="289.6" r="2.0"/>
<circle cx="1099.4" cy="272.8" r="2.0"/>
<circle cx="1080.9" cy="375.6" r="2.0"/>
<circle cx="1085.0" cy="262.6" r="2.0"/>
<circle cx="1056.1" cy="176.6" r="2.0"/>
<circle cx="1071.2" cy="249.1" r="2.0"/>
<circle cx="1080.9" cy="274.9" r="2.0"/>
<circle cx="1084.4" cy="189.6" r="2.0"/>
<circle cx="1066.6" cy="208.6" r="2.0"/>
<circle cx="1065.3" cy="198.6" r="2.0"/>
<circle cx="1076.9" cy="370.0" r="2.0"/>
<circle cx="1061.6" cy="308.9" r="2.0"/>
<circle cx="1059.0" cy="283.3" r="2.0"/>
<circle cx="1078.1" cy="288.8" r="2.0"/>
<circle cx="1065.1" cy="240.6" r="2.0"/>
<circle cx="1090.5" cy="301.4" r="2.0"/>
<circle cx="1070.5" cy="241.3" r="2.0"/>
<circle cx="1087.7" cy="364.6" r="2.0"/>
<circle cx="1075.6" cy="366.4" r="2.0"/>
<circle cx="1056.5" cy="180.2" r="2.0"/>
<circle cx="1072.5" cy="362.5" r="2.0"/>
<circle cx="1054.7" cy="308.4" r="2.0"/>
<circle cx="1086.0" cy="285.1" r="2.0"/>
<circle cx="1079.3" cy="263.2" r="2.0"/>
<circle cx="1071.4" cy="351.3" r="2.0"/>
<circle cx="1072.0" cy="351.4" r="2.0"/>
<circle cx="1064.9" cy="275.5" r="2.0"/>
<circle cx="1081.0" cy="319.7" r="2.0"/>
<circle cx="1092.0" cy="317.1" r="2.0"/>
<circle cx="1056.0" cy="353.0" r="2.0"/>
<circle cx="1070.8" cy="303.5" r="2.0"/>
<circle cx="1079.9" cy="226.2" r="2.0"/>
<circle cx="1057.7" cy="349.8" r="2.0"/>
<circle cx="1074.0" cy="323.1" r="2.0"/>
<circle cx="1091.5" cy="212.2" r="2.0"/>
<circle cx="1071.8" cy="271.1" r="2.0"/>
<circle cx="1070.8" cy="278.3" r="2.0"/>
<circle cx="1109.8" cy="224.2" r="2.0"/>
<circle cx="1072.1" cy="291.5" r="2.0"/>
<circle cx="1051.1" cy="189.0" r="2.0"/>
<circle cx="1070.3" cy="247.7" r="2.0"/>
<circle cx="1052.9" cy="191.3" r="2.0"/>
<circle cx="1080.7" cy="246.2" r="2.0"/>
<circle cx="1056.7" cy="215.7" r="2.0"/>
<circle cx="1075.4" cy="361.8" r="2.0"/>
<circle cx="1052.9" cy="350.6" r="2.0"/>
<circle cx="1069.2" cy="287.9" r="2.0"/>
<circle cx="1064.3" cy="246.3" r="2.0"/>
<circle cx="1085.7" cy="190.2" r="2.0"/>
<circle cx="1055.8" cy="170.3" r="2.0"/>
<circle cx="1068.4" cy="218.0" r="2.0"/>
<circle cx="1073.0" cy="242.4" r="2.0"/>
<circle cx="1062.2" cy="202.4" r="2.0"/>
<circle cx="1078.4" cy="272.8" r="2.0"/>
<circle cx="1067.7" cy="166.9" r="2.0"/>
<circle cx="1071.3" cy="222.1" r="2.0"/>
<circle cx="1057.3" cy="289.4" r="2.0"/>
<circle cx="1069.1" cy="271.7" r="2.0"/>
<circle cx="1082.2" cy="228.6" r="2.0"/>
<circle cx="1059.8" cy="254.2" r="2.0"/>
<circle cx="1074.5" cy="263.8" r="2.0"/>
<circle cx="1084.9" cy="232.6" r="2.0"/>
<circle cx="1090.4" cy="249.1" r="2.0"/>
<circle cx="1062.6" cy="203.6" r="2.0"/>
<circle cx="1080.9" cy="370.1" r="2.0"/>
<circle cx="1109.0" cy="230.3" r="2.0"/>
<circle cx="1077.8" cy="216.6" r="2.0"/>
<circle cx="1076.9" cy="213.6" r="2.0"/>
<circle cx="1068.9" cy="297.8" r="2.0"/>
<circle cx="1057.7" cy="361.2" r="2.0"/>
<circle cx="1072.6" cy="171.9" r="2.0"/>
<circle cx="1097.8" cy="388.3" r="2.0"/>
<circle cx="1082.5" cy="294.7" r="2.0"/>
<circle cx="1086.4" cy="207.7" r="2.0"/>
<circle cx="1084.6" cy="377.5" r="2.0"/>
<circle cx="1079.6" cy="206.1" r="2.0"/>
<circle cx="1079.4" cy="285.0" r="2.0"/>
<circle cx="1055.5" cy="301.3" r="2.0"/>
<circle cx="1077.0" cy="298.0" r="2.0"/>
<circle cx="1069.1" cy="333.2" r="2.0"/>
<circle cx="1085.3" cy="180.3" r="2.0"/>
<circle cx="1081.1" cy="371.3" r="2.0"/>
<circle cx="1062.4" cy="273.4" r="2.0"/>
<circle cx="1065.2" cy="166.1" r="2.0"/>
<circle cx="1085.3" cy="207.1" r="2.0"/>
<circle cx="1043.8" cy="247.6" r="2.0"/>
<circle cx="1062.4" cy="198.0" r="2.0"/>
<circle cx="1073.6" cy="252.9" r="2.0"/>
<circle cx="1060.3" cy="169.6" r="2.0"/>
<circle cx="1063.8" cy="278.6" r="2.0"/>
<circle cx="1084.3" cy="169.5" r="2.0"/>
<circle cx="1079.4" cy="242.8" r="2.0"/>
<circle cx="1076.0" cy="322.4" r="2.0"/>
<circle cx="1081.3" cy="278.8" r="2.0"/>
<circle cx="1044.2" cy="217.4" r="2.0"/>
<circle cx="1070.9" cy="314.7" r="2.0"/>
<circle cx="1091.3" cy="326.1" r="2.0"/>
<circle cx="1080.2" cy="272.2" r="2.0"/>
<circle cx="1055.6" cy="312.3" r="2.0"/>
<circle cx="1071.7" cy="173.7" r="2.0"/>
<circle cx="1080.4" cy="187.1" r="2.0"/>
<circle cx="1081.8" cy="172.8" r="2.0"/>
<circle cx="1069.6" cy="231.5" r="2.0"/>
<circle cx="1108.8" cy="211.1" r="2.0"/>
<circle cx="1081.0" cy="266.8" r="2.0"/>
<circle cx="1053.6" cy="191.8" r="2.0"/>
<circle cx="1078.6" cy="382.3" r="2.0"/>
<circle cx="1071.0" cy="309.8" r="2.0"/>
<circle cx="1071.1" cy="338.5" r="2.0"/>
<circle cx="1041.5" cy="340.2" r="2.0"/>
<circle cx="1067.1" cy="188.3" r="2.0"/>
<circle cx="1066.0" cy="178.1" r="2.0"/>
<circle cx="1082.6" cy="300.4" r="2.0"/>
<circle cx="1067.7" cy="241.8" r="2.0"/>
<circle cx="1070.5" cy="343.6" r="2.0"/>
<circle cx="1088.6" cy="350.1" r="2.0"/>
<circle cx="1078.1" cy="385.2" r="2.0"/>
<circle cx="1081.5" cy="240.6" r="2.0"/>
<circle cx="1077.6" cy="290.2" r="2.0"/>
<circle cx="1051.0" cy="186.2" r="2.0"/>
<circle cx="1087.1" cy="331.8" r="2.0"/>
<circle cx="1073.0" cy="261.0" r="2.0"/>
<circle cx="1102.7" cy="345.4" r="2.0"/>
<circle cx="1091.5" cy="323.1" r="2.0"/>
<circle cx="1079.1" cy="366.1" r="2.0"/>
<circle cx="1096.4" cy="274.0" r="2.0"/>
<circle cx="1072.8" cy="340.5" r="2.0"/>
<circle cx="1036.6" cy="276.3" r="2.0"/>
<circle cx="1070.3" cy="262.7" r="2.0"/>
<circle cx="1073.4" cy="308.7" r="2.0"/>
<circle cx="1077.5" cy="273.7" r="2.0"/>
<circle cx="1074.1" cy="324.0" r="2.0"/>
<circle cx="1052.4" cy="291.4" r="2.0"/>
<circle cx="1034.3" cy="309.2" r="2.0"/>
<circle cx="1077.4" cy="344.3" r="2.0"/>
<circle cx="1104.7" cy="264.5" r="2.0"/>
<circle cx="1077.9" cy="175.8" r="2.0"/>
<circle cx="1075.1" cy="261.2" r="2.0"/>
<circle cx="1086.6" cy="337.0" r="2.0"/>
<circle cx="1065.3" cy="203.2" r="2.0"/>
<circle cx="1085.2" cy="297.9" r="2.0"/>
<circle cx="1095.1" cy="311.0" r="2.0"/>
<circle cx="1075.9" cy="238.6" r="2.0"/>
<circle cx="1092.1" cy="355.4" r="2.0"/>
<circle cx="1097.6" cy="221.3" r="2.0"/>
<circle cx="1071.6" cy="208.3" r="2.0"/>
<circle cx="1079.9" cy="175.0" r="2.0"/>
<circle cx="1089.0" cy="309.0" r="2.0"/>
<circle cx="1075.1" cy="284.1" r="2.0"/>
<circle cx="1070.0" cy="316.1" r="2.0"/>
<circle cx="1053.1" cy="273.4" r="2.0"/>
<circle cx="1085.8" cy="326.4" r="2.0"/>
<circle cx="1087.1" cy="227.9" r="2.0"/>
<circle cx="1075.7" cy="254.9" r="2.0"/>
<circle cx="1069.4" cy="170.4" r="2.0"/>
<circle cx="1079.4" cy="241.9" r="2.0"/>
<circle cx="1092.4" cy="255.1" r="2.0"/>
<circle cx="1088.5" cy="236.6" r="2.0"/>
<circle cx="1086.0" cy="372.0" r="2.0"/>
<circle cx="1068.9" cy="233.5" r="2.0"/>
<circle cx="1077.8" cy="286.4" r="2.0"/>
<circle cx="1086.0" cy="254.7" r="2.0"/>
<circle cx="1060.0" cy="376.9" r="2.0"/>
<circle cx="1079.9" cy="378.1" r="2.0"/>
<circle cx="1059.2" cy="296.6" r="2.0"/>
<circle cx="1062.3" cy="221.9" r="2.0"/>
<circle cx="1095.9" cy="247.5" r="2.0"/>
<circle cx="1091.6" cy="297.6" r="2.0"/>
<circle cx="1096.0" cy="249.0" r="2.0"/>
<circle cx="1064.2" cy="244.1" r="2.0"/>
<circle cx="1086.7" cy="170.5" r="2.0"/>
<circle cx="1077.2" cy="196.3" r="2.0"/>
<circle cx="1071.9" cy="302.5" r="2.0"/>
<circle cx="1055.0" cy="293.6" r="2.0"/>
<circle cx="1072.0" cy="232.0" r="2.0"/>
<circle cx="1067.1" cy="326.0" r="2.0"/>
<circle cx="1080.2" cy="176.3" r="2.0"/>
<circle cx="1059.4" cy="296.6" r="2.0"/>
<circle cx="1079.5" cy="190.8" r="2.0"/>
<circle cx="1068.9" cy="206.3" r="2.0"/>
<circle cx="1093.3" cy="322.6" r="2.0"/>
<circle cx="1066.8" cy="209.6" r="2.0"/>
<circle cx="1089.6" cy="314.0" r="2.0"/>
</g>
<g fill="#555" fill-opacity="0.35"><ellipse cx="28" cy="304.5" rx="1" ry="1.6"/><ellipse cx="598" cy="304.5" rx="1" ry="1.6"/></g>
<line x1="264.5" y1="137.5" x2="341.0" y2="98.7" stroke="#6a5acd" stroke-width="2.6" stroke-linecap="round"/><polygon points="355.2,91.5 340.8,108.0 340.1,99.1 333.4,93.4" fill="#6a5acd"/>
<line x1="264.5" y1="137.5" x2="347.6" y2="116.3" stroke="#6a5acd" stroke-width="2.6" stroke-linecap="round"/><polygon points="363.0,112.4 345.4,125.4 346.6,116.6 341.3,109.5" fill="#6a5acd"/>
<line x1="264.5" y1="137.5" x2="336.7" y2="174.5" stroke="#6a5acd" stroke-width="2.6" stroke-linecap="round"/><polygon points="350.9,181.7 329.1,179.8 335.9,174.0 336.6,165.2" fill="#6a5acd"/>
<line x1="834.8" y1="140.1" x2="908.8" y2="140.3" stroke="#6a5acd" stroke-width="2.6" stroke-linecap="round"/><polygon points="924.7,140.3 904.4,148.5 907.8,140.3 904.4,132.1" fill="#6a5acd"/>
<circle cx="834.8" cy="140" r="3.8" fill="#6a5acd"/>
<text class="ai" x="204.9" y="146.6" font-size="55.6">z</text>
<text class="bi" x="228.9" y="153.7" font-size="36.7">t</text>
<text class="ai" x="340.1" y="152.5" font-size="55.8">v</text>
<text class="bi" x="366.6" y="160.0" font-size="36.1">t</text>
<text class="ai" x="843.9" y="109.6" font-size="57.8">v</text>
<text class="an" x="874.2" y="109.2" font-size="52.3">(</text>
<text class="ai" x="894.0" y="109.7" font-size="54.8">z</text>
<text class="bi" x="917.7" y="117.5" font-size="37.3">t</text>
<text class="an" x="938.9" y="109.6" font-size="51.3">,</text>
<text class="ai" x="959.1" y="109.7" font-size="53.9">t</text>
<text class="an" x="980.6" y="109.6" font-size="53.6">)</text>
</svg></body></html>
